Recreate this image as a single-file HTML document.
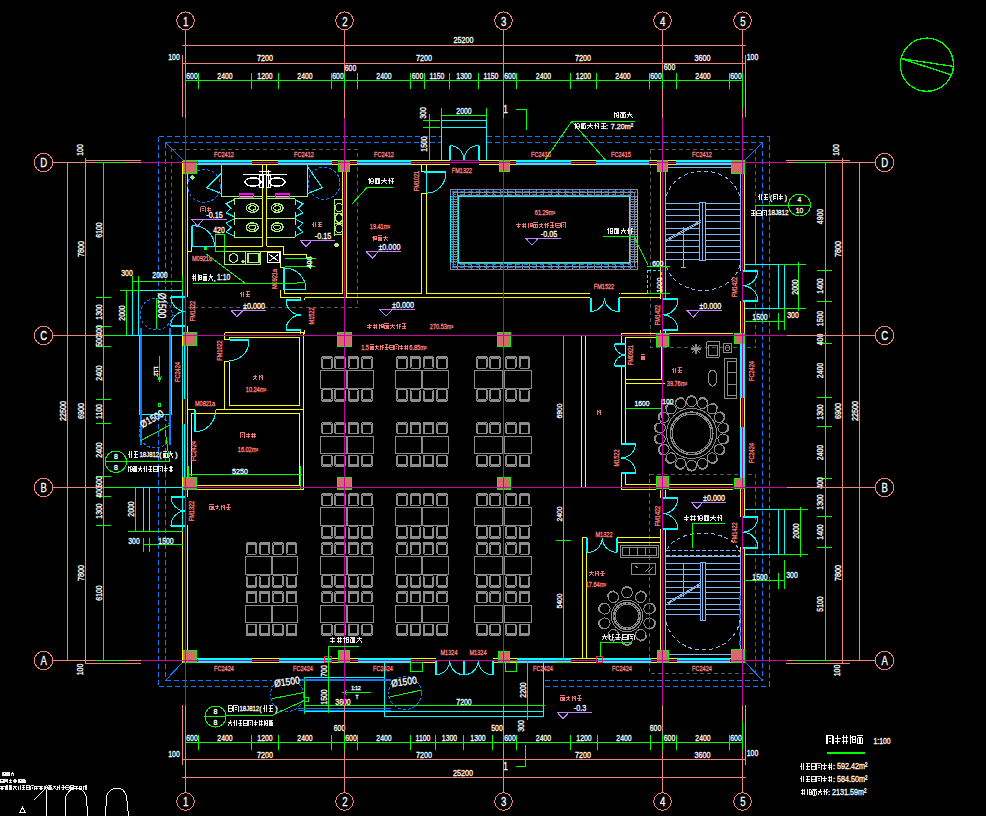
<!DOCTYPE html>
<html><head><meta charset="utf-8"><style>
html,body{margin:0;padding:0;background:#000;width:986px;height:816px;overflow:hidden}
svg{display:block;font-family:"Liberation Sans",sans-serif}
text{stroke-width:0.3px}

</style></head><body>
<svg width="986" height="816" viewBox="0 0 986 816" shape-rendering="crispEdges">
<rect width="986" height="816" fill="#000"/>
<line x1="158.5" y1="136.5" x2="441" y2="136.5" stroke="#0a7cff" stroke-dasharray="5,3"/>
<line x1="487" y1="136.5" x2="769.5" y2="136.5" stroke="#0a7cff" stroke-dasharray="5,3"/>
<line x1="158.5" y1="686.5" x2="272" y2="686.5" stroke="#0a7cff" stroke-dasharray="5,3"/>
<line x1="545" y1="686.5" x2="769.5" y2="686.5" stroke="#0a7cff" stroke-dasharray="5,3"/>
<line x1="158.5" y1="136.5" x2="158.5" y2="291" stroke="#0a7cff" stroke-dasharray="5,3"/>
<line x1="158.5" y1="416" x2="158.5" y2="686.5" stroke="#0a7cff" stroke-dasharray="5,3"/>
<line x1="769.5" y1="136.5" x2="769.5" y2="686.5" stroke="#0a7cff" stroke-dasharray="5,3"/>
<line x1="165.5" y1="142.5" x2="441" y2="142.5" stroke="#0a7cff" stroke-dasharray="5,3"/>
<line x1="487" y1="142.5" x2="762.5" y2="142.5" stroke="#0a7cff" stroke-dasharray="5,3"/>
<line x1="165.5" y1="680.5" x2="272" y2="680.5" stroke="#0a7cff" stroke-dasharray="5,3"/>
<line x1="545" y1="680.5" x2="762.5" y2="680.5" stroke="#0a7cff" stroke-dasharray="5,3"/>
<line x1="165.5" y1="142.5" x2="165.5" y2="291" stroke="#0a7cff" stroke-dasharray="5,3"/>
<line x1="165.5" y1="416" x2="165.5" y2="680.5" stroke="#0a7cff" stroke-dasharray="5,3"/>
<line x1="762.5" y1="142.5" x2="762.5" y2="680.5" stroke="#0a7cff" stroke-dasharray="5,3"/>
<line x1="165.5" y1="142.5" x2="183" y2="160" stroke="#0a7cff"/>
<line x1="762.5" y1="142.5" x2="745" y2="160" stroke="#0a7cff"/>
<line x1="165.5" y1="680.5" x2="183" y2="662" stroke="#0a7cff"/>
<line x1="762.5" y1="680.5" x2="745" y2="662" stroke="#0a7cff"/>
<rect x="171.5" y="149.5" width="186" height="158" stroke="#5a5a5a" fill="none" stroke-dasharray="4,3"/>
<rect x="650.5" y="149.5" width="105" height="198" stroke="#5a5a5a" fill="none" stroke-dasharray="4,3"/>
<rect x="649.5" y="474.5" width="106" height="199" stroke="#5a5a5a" fill="none" stroke-dasharray="4,3"/>
<line x1="182" y1="45.5" x2="746" y2="45.5" stroke="#f08478"/>
<line x1="182" y1="63.5" x2="746" y2="63.5" stroke="#f08478"/>
<line x1="182.5" y1="55" x2="182.5" y2="117" stroke="#f08478"/>
<line x1="745.5" y1="55" x2="745.5" y2="117" stroke="#f08478"/>
<text x="463.5" y="40.5" fill="#ffffff" stroke="#ffffff" font-size="8.5" text-anchor="middle" dominant-baseline="central" transform="translate(463.5 40.5) scale(0.85 1) translate(-463.5 -40.5)">25200</text>
<text x="265" y="58.5" fill="#ffffff" stroke="#ffffff" font-size="8.5" text-anchor="middle" dominant-baseline="central" transform="translate(265 58.5) scale(0.85 1) translate(-265 -58.5)">7200</text>
<text x="424" y="58.5" fill="#ffffff" stroke="#ffffff" font-size="8.5" text-anchor="middle" dominant-baseline="central" transform="translate(424 58.5) scale(0.85 1) translate(-424 -58.5)">7200</text>
<text x="583" y="58.5" fill="#ffffff" stroke="#ffffff" font-size="8.5" text-anchor="middle" dominant-baseline="central" transform="translate(583 58.5) scale(0.85 1) translate(-583 -58.5)">7200</text>
<text x="702.5" y="58.5" fill="#ffffff" stroke="#ffffff" font-size="8.5" text-anchor="middle" dominant-baseline="central" transform="translate(702.5 58.5) scale(0.85 1) translate(-702.5 -58.5)">3600</text>
<text x="174" y="57" fill="#ffffff" stroke="#ffffff" font-size="8.3" text-anchor="middle" dominant-baseline="central" transform="translate(174 57) scale(0.83 1) translate(-174 -57)">100</text>
<text x="752.5" y="57" fill="#ffffff" stroke="#ffffff" font-size="8.3" text-anchor="middle" dominant-baseline="central" transform="translate(752.5 57) scale(0.83 1) translate(-752.5 -57)">100</text>
<text x="350.5" y="68.5" fill="#ffffff" stroke="#ffffff" font-size="8.3" text-anchor="middle" dominant-baseline="central" transform="translate(350.5 68.5) scale(0.83 1) translate(-350.5 -68.5)">600</text>
<text x="669.5" y="67.5" fill="#ffffff" stroke="#ffffff" font-size="8.3" text-anchor="middle" dominant-baseline="central" transform="translate(669.5 67.5) scale(0.83 1) translate(-669.5 -67.5)">600</text>
<line x1="185.5" y1="80.5" x2="742.5" y2="80.5" stroke="#00ff00"/>
<line x1="185.5" y1="73" x2="185.5" y2="89" stroke="#00ff00"/>
<line x1="198.5" y1="73" x2="198.5" y2="89" stroke="#00ff00"/>
<line x1="251.5" y1="73" x2="251.5" y2="89" stroke="#00ff00"/>
<line x1="278.5" y1="73" x2="278.5" y2="89" stroke="#00ff00"/>
<line x1="331.5" y1="73" x2="331.5" y2="89" stroke="#00ff00"/>
<line x1="344.5" y1="73" x2="344.5" y2="89" stroke="#00ff00"/>
<line x1="357.5" y1="73" x2="357.5" y2="89" stroke="#00ff00"/>
<line x1="410.5" y1="73" x2="410.5" y2="89" stroke="#00ff00"/>
<line x1="424.5" y1="73" x2="424.5" y2="89" stroke="#00ff00"/>
<line x1="449.5" y1="73" x2="449.5" y2="89" stroke="#00ff00"/>
<line x1="478.5" y1="73" x2="478.5" y2="89" stroke="#00ff00"/>
<line x1="503.5" y1="73" x2="503.5" y2="89" stroke="#00ff00"/>
<line x1="516.5" y1="73" x2="516.5" y2="89" stroke="#00ff00"/>
<line x1="570.5" y1="73" x2="570.5" y2="89" stroke="#00ff00"/>
<line x1="596.5" y1="73" x2="596.5" y2="89" stroke="#00ff00"/>
<line x1="649.5" y1="73" x2="649.5" y2="89" stroke="#00ff00"/>
<line x1="662.5" y1="73" x2="662.5" y2="89" stroke="#00ff00"/>
<line x1="676.5" y1="73" x2="676.5" y2="89" stroke="#00ff00"/>
<line x1="729.5" y1="73" x2="729.5" y2="89" stroke="#00ff00"/>
<line x1="742.5" y1="73" x2="742.5" y2="89" stroke="#00ff00"/>
<text x="192" y="76" fill="#ffffff" stroke="#ffffff" font-size="8.3" text-anchor="middle" dominant-baseline="central" transform="translate(192 76) scale(0.83 1) translate(-192 -76)">600</text>
<text x="225" y="76" fill="#ffffff" stroke="#ffffff" font-size="8.3" text-anchor="middle" dominant-baseline="central" transform="translate(225 76) scale(0.83 1) translate(-225 -76)">2400</text>
<text x="265" y="76" fill="#ffffff" stroke="#ffffff" font-size="8.3" text-anchor="middle" dominant-baseline="central" transform="translate(265 76) scale(0.83 1) translate(-265 -76)">1200</text>
<text x="305" y="76" fill="#ffffff" stroke="#ffffff" font-size="8.3" text-anchor="middle" dominant-baseline="central" transform="translate(305 76) scale(0.83 1) translate(-305 -76)">2400</text>
<text x="338" y="76" fill="#ffffff" stroke="#ffffff" font-size="8.3" text-anchor="middle" dominant-baseline="central" transform="translate(338 76) scale(0.83 1) translate(-338 -76)">600</text>
<text x="384" y="76" fill="#ffffff" stroke="#ffffff" font-size="8.3" text-anchor="middle" dominant-baseline="central" transform="translate(384 76) scale(0.83 1) translate(-384 -76)">2400</text>
<text x="417.5" y="76" fill="#ffffff" stroke="#ffffff" font-size="8.3" text-anchor="middle" dominant-baseline="central" transform="translate(417.5 76) scale(0.83 1) translate(-417.5 -76)">600</text>
<text x="437" y="76" fill="#ffffff" stroke="#ffffff" font-size="8.3" text-anchor="middle" dominant-baseline="central" transform="translate(437 76) scale(0.83 1) translate(-437 -76)">1150</text>
<text x="464" y="76" fill="#ffffff" stroke="#ffffff" font-size="8.3" text-anchor="middle" dominant-baseline="central" transform="translate(464 76) scale(0.83 1) translate(-464 -76)">1300</text>
<text x="491" y="76" fill="#ffffff" stroke="#ffffff" font-size="8.3" text-anchor="middle" dominant-baseline="central" transform="translate(491 76) scale(0.83 1) translate(-491 -76)">1150</text>
<text x="510" y="76" fill="#ffffff" stroke="#ffffff" font-size="8.3" text-anchor="middle" dominant-baseline="central" transform="translate(510 76) scale(0.83 1) translate(-510 -76)">600</text>
<text x="543.5" y="76" fill="#ffffff" stroke="#ffffff" font-size="8.3" text-anchor="middle" dominant-baseline="central" transform="translate(543.5 76) scale(0.83 1) translate(-543.5 -76)">2400</text>
<text x="583.5" y="76" fill="#ffffff" stroke="#ffffff" font-size="8.3" text-anchor="middle" dominant-baseline="central" transform="translate(583.5 76) scale(0.83 1) translate(-583.5 -76)">1200</text>
<text x="623" y="76" fill="#ffffff" stroke="#ffffff" font-size="8.3" text-anchor="middle" dominant-baseline="central" transform="translate(623 76) scale(0.83 1) translate(-623 -76)">2400</text>
<text x="656" y="76" fill="#ffffff" stroke="#ffffff" font-size="8.3" text-anchor="middle" dominant-baseline="central" transform="translate(656 76) scale(0.83 1) translate(-656 -76)">600</text>
<text x="703" y="76" fill="#ffffff" stroke="#ffffff" font-size="8.3" text-anchor="middle" dominant-baseline="central" transform="translate(703 76) scale(0.83 1) translate(-703 -76)">2400</text>
<text x="736" y="76" fill="#ffffff" stroke="#ffffff" font-size="8.3" text-anchor="middle" dominant-baseline="central" transform="translate(736 76) scale(0.83 1) translate(-736 -76)">600</text>
<line x1="185.5" y1="81" x2="185.5" y2="107" stroke="#00ff00"/>
<line x1="344.5" y1="81" x2="344.5" y2="107" stroke="#00ff00"/>
<line x1="503.5" y1="81" x2="503.5" y2="107" stroke="#00ff00"/>
<line x1="662.5" y1="81" x2="662.5" y2="107" stroke="#00ff00"/>
<line x1="742.5" y1="81" x2="742.5" y2="107" stroke="#00ff00"/>
<line x1="182" y1="777.5" x2="746" y2="777.5" stroke="#f08478"/>
<line x1="182" y1="759.5" x2="746" y2="759.5" stroke="#f08478"/>
<line x1="182.5" y1="705" x2="182.5" y2="765" stroke="#f08478"/>
<line x1="745.5" y1="705" x2="745.5" y2="765" stroke="#f08478"/>
<text x="463" y="773.5" fill="#ffffff" stroke="#ffffff" font-size="8.5" text-anchor="middle" dominant-baseline="central" transform="translate(463 773.5) scale(0.85 1) translate(-463 -773.5)">25200</text>
<text x="265" y="755" fill="#ffffff" stroke="#ffffff" font-size="8.5" text-anchor="middle" dominant-baseline="central" transform="translate(265 755) scale(0.85 1) translate(-265 -755)">7200</text>
<text x="424" y="755" fill="#ffffff" stroke="#ffffff" font-size="8.5" text-anchor="middle" dominant-baseline="central" transform="translate(424 755) scale(0.85 1) translate(-424 -755)">7200</text>
<text x="583" y="755" fill="#ffffff" stroke="#ffffff" font-size="8.5" text-anchor="middle" dominant-baseline="central" transform="translate(583 755) scale(0.85 1) translate(-583 -755)">7200</text>
<text x="702.5" y="755" fill="#ffffff" stroke="#ffffff" font-size="8.5" text-anchor="middle" dominant-baseline="central" transform="translate(702.5 755) scale(0.85 1) translate(-702.5 -755)">3600</text>
<text x="174" y="754.5" fill="#ffffff" stroke="#ffffff" font-size="8.3" text-anchor="middle" dominant-baseline="central" transform="translate(174 754.5) scale(0.83 1) translate(-174 -754.5)">100</text>
<text x="752.5" y="753" fill="#ffffff" stroke="#ffffff" font-size="8.3" text-anchor="middle" dominant-baseline="central" transform="translate(752.5 753) scale(0.83 1) translate(-752.5 -753)">100</text>
<line x1="185.5" y1="742.5" x2="742.5" y2="742.5" stroke="#00ff00"/>
<line x1="185.5" y1="735" x2="185.5" y2="750" stroke="#00ff00"/>
<line x1="198.5" y1="735" x2="198.5" y2="750" stroke="#00ff00"/>
<line x1="251.5" y1="735" x2="251.5" y2="750" stroke="#00ff00"/>
<line x1="278.5" y1="735" x2="278.5" y2="750" stroke="#00ff00"/>
<line x1="331.5" y1="735" x2="331.5" y2="750" stroke="#00ff00"/>
<line x1="344.5" y1="735" x2="344.5" y2="750" stroke="#00ff00"/>
<line x1="357.5" y1="735" x2="357.5" y2="750" stroke="#00ff00"/>
<line x1="410.5" y1="735" x2="410.5" y2="750" stroke="#00ff00"/>
<line x1="435.5" y1="735" x2="435.5" y2="750" stroke="#00ff00"/>
<line x1="463.5" y1="735" x2="463.5" y2="750" stroke="#00ff00"/>
<line x1="492.5" y1="735" x2="492.5" y2="750" stroke="#00ff00"/>
<line x1="503.5" y1="735" x2="503.5" y2="750" stroke="#00ff00"/>
<line x1="516.5" y1="735" x2="516.5" y2="750" stroke="#00ff00"/>
<line x1="570.5" y1="735" x2="570.5" y2="750" stroke="#00ff00"/>
<line x1="597.5" y1="735" x2="597.5" y2="750" stroke="#00ff00"/>
<line x1="650.5" y1="735" x2="650.5" y2="750" stroke="#00ff00"/>
<line x1="662.5" y1="735" x2="662.5" y2="750" stroke="#00ff00"/>
<line x1="676.5" y1="735" x2="676.5" y2="750" stroke="#00ff00"/>
<line x1="729.5" y1="735" x2="729.5" y2="750" stroke="#00ff00"/>
<line x1="742.5" y1="735" x2="742.5" y2="750" stroke="#00ff00"/>
<text x="192" y="738" fill="#ffffff" stroke="#ffffff" font-size="8.3" text-anchor="middle" dominant-baseline="central" transform="translate(192 738) scale(0.83 1) translate(-192 -738)">600</text>
<text x="225" y="738" fill="#ffffff" stroke="#ffffff" font-size="8.3" text-anchor="middle" dominant-baseline="central" transform="translate(225 738) scale(0.83 1) translate(-225 -738)">2400</text>
<text x="265" y="738" fill="#ffffff" stroke="#ffffff" font-size="8.3" text-anchor="middle" dominant-baseline="central" transform="translate(265 738) scale(0.83 1) translate(-265 -738)">1200</text>
<text x="305" y="738" fill="#ffffff" stroke="#ffffff" font-size="8.3" text-anchor="middle" dominant-baseline="central" transform="translate(305 738) scale(0.83 1) translate(-305 -738)">2400</text>
<text x="351" y="738" fill="#ffffff" stroke="#ffffff" font-size="8.3" text-anchor="middle" dominant-baseline="central" transform="translate(351 738) scale(0.83 1) translate(-351 -738)">600</text>
<text x="384" y="738" fill="#ffffff" stroke="#ffffff" font-size="8.3" text-anchor="middle" dominant-baseline="central" transform="translate(384 738) scale(0.83 1) translate(-384 -738)">2400</text>
<text x="423" y="738" fill="#ffffff" stroke="#ffffff" font-size="8.3" text-anchor="middle" dominant-baseline="central" transform="translate(423 738) scale(0.83 1) translate(-423 -738)">1100</text>
<text x="449.5" y="738" fill="#ffffff" stroke="#ffffff" font-size="8.3" text-anchor="middle" dominant-baseline="central" transform="translate(449.5 738) scale(0.83 1) translate(-449.5 -738)">1300</text>
<text x="478" y="738" fill="#ffffff" stroke="#ffffff" font-size="8.3" text-anchor="middle" dominant-baseline="central" transform="translate(478 738) scale(0.83 1) translate(-478 -738)">1300</text>
<text x="510" y="738" fill="#ffffff" stroke="#ffffff" font-size="8.3" text-anchor="middle" dominant-baseline="central" transform="translate(510 738) scale(0.83 1) translate(-510 -738)">600</text>
<text x="543.5" y="738" fill="#ffffff" stroke="#ffffff" font-size="8.3" text-anchor="middle" dominant-baseline="central" transform="translate(543.5 738) scale(0.83 1) translate(-543.5 -738)">2400</text>
<text x="584" y="738" fill="#ffffff" stroke="#ffffff" font-size="8.3" text-anchor="middle" dominant-baseline="central" transform="translate(584 738) scale(0.83 1) translate(-584 -738)">1200</text>
<text x="624" y="738" fill="#ffffff" stroke="#ffffff" font-size="8.3" text-anchor="middle" dominant-baseline="central" transform="translate(624 738) scale(0.83 1) translate(-624 -738)">2400</text>
<text x="669.5" y="738" fill="#ffffff" stroke="#ffffff" font-size="8.3" text-anchor="middle" dominant-baseline="central" transform="translate(669.5 738) scale(0.83 1) translate(-669.5 -738)">600</text>
<text x="703" y="738" fill="#ffffff" stroke="#ffffff" font-size="8.3" text-anchor="middle" dominant-baseline="central" transform="translate(703 738) scale(0.83 1) translate(-703 -738)">2400</text>
<text x="736" y="738" fill="#ffffff" stroke="#ffffff" font-size="8.3" text-anchor="middle" dominant-baseline="central" transform="translate(736 738) scale(0.83 1) translate(-736 -738)">600</text>
<text x="339.5" y="728" fill="#ffffff" stroke="#ffffff" font-size="8.3" text-anchor="middle" dominant-baseline="central" transform="translate(339.5 728) scale(0.83 1) translate(-339.5 -728)">600</text>
<text x="497" y="728" fill="#ffffff" stroke="#ffffff" font-size="8.3" text-anchor="middle" dominant-baseline="central" transform="translate(497 728) scale(0.83 1) translate(-497 -728)">500</text>
<text x="655.5" y="728" fill="#ffffff" stroke="#ffffff" font-size="8.3" text-anchor="middle" dominant-baseline="central" transform="translate(655.5 728) scale(0.83 1) translate(-655.5 -728)">600</text>
<line x1="67.5" y1="162.5" x2="67.5" y2="660.5" stroke="#f08478"/>
<line x1="85.5" y1="158" x2="85.5" y2="664" stroke="#f08478"/>
<text x="63" y="411" fill="#ffffff" stroke="#ffffff" font-size="8.5" text-anchor="middle" dominant-baseline="central" transform="translate(63 411) rotate(-90) scale(0.85 1) translate(-63 -411)">22500</text>
<text x="81" y="249" fill="#ffffff" stroke="#ffffff" font-size="8.5" text-anchor="middle" dominant-baseline="central" transform="translate(81 249) rotate(-90) scale(0.85 1) translate(-81 -249)">7800</text>
<text x="81" y="411" fill="#ffffff" stroke="#ffffff" font-size="8.5" text-anchor="middle" dominant-baseline="central" transform="translate(81 411) rotate(-90) scale(0.85 1) translate(-81 -411)">6900</text>
<text x="81" y="573" fill="#ffffff" stroke="#ffffff" font-size="8.5" text-anchor="middle" dominant-baseline="central" transform="translate(81 573) rotate(-90) scale(0.85 1) translate(-81 -573)">7800</text>
<line x1="103.5" y1="162.5" x2="103.5" y2="660.5" stroke="#00ff00"/>
<line x1="96" y1="162.5" x2="111" y2="162.5" stroke="#00ff00"/>
<line x1="96" y1="297.5" x2="111" y2="297.5" stroke="#00ff00"/>
<line x1="96" y1="326.5" x2="111" y2="326.5" stroke="#00ff00"/>
<line x1="96" y1="335.5" x2="111" y2="335.5" stroke="#00ff00"/>
<line x1="96" y1="346.5" x2="111" y2="346.5" stroke="#00ff00"/>
<line x1="96" y1="399.5" x2="111" y2="399.5" stroke="#00ff00"/>
<line x1="96" y1="423.5" x2="111" y2="423.5" stroke="#00ff00"/>
<line x1="96" y1="476.5" x2="111" y2="476.5" stroke="#00ff00"/>
<line x1="96" y1="487.5" x2="111" y2="487.5" stroke="#00ff00"/>
<line x1="96" y1="496.5" x2="111" y2="496.5" stroke="#00ff00"/>
<line x1="96" y1="525.5" x2="111" y2="525.5" stroke="#00ff00"/>
<line x1="96" y1="660.5" x2="111" y2="660.5" stroke="#00ff00"/>
<text x="99" y="230" fill="#ffffff" stroke="#ffffff" font-size="8.3" text-anchor="middle" dominant-baseline="central" transform="translate(99 230) rotate(-90) scale(0.83 1) translate(-99 -230)">6100</text>
<text x="99" y="312" fill="#ffffff" stroke="#ffffff" font-size="8.3" text-anchor="middle" dominant-baseline="central" transform="translate(99 312) rotate(-90) scale(0.83 1) translate(-99 -312)">1300</text>
<text x="99" y="331" fill="#ffffff" stroke="#ffffff" font-size="8.3" text-anchor="middle" dominant-baseline="central" transform="translate(99 331) rotate(-90) scale(0.83 1) translate(-99 -331)">400</text>
<text x="99" y="341" fill="#ffffff" stroke="#ffffff" font-size="8.3" text-anchor="middle" dominant-baseline="central" transform="translate(99 341) rotate(-90) scale(0.83 1) translate(-99 -341)">500</text>
<text x="99" y="373" fill="#ffffff" stroke="#ffffff" font-size="8.3" text-anchor="middle" dominant-baseline="central" transform="translate(99 373) rotate(-90) scale(0.83 1) translate(-99 -373)">2400</text>
<text x="99" y="411.5" fill="#ffffff" stroke="#ffffff" font-size="8.3" text-anchor="middle" dominant-baseline="central" transform="translate(99 411.5) rotate(-90) scale(0.83 1) translate(-99 -411.5)">1100</text>
<text x="99" y="450" fill="#ffffff" stroke="#ffffff" font-size="8.3" text-anchor="middle" dominant-baseline="central" transform="translate(99 450) rotate(-90) scale(0.83 1) translate(-99 -450)">2400</text>
<text x="99" y="482" fill="#ffffff" stroke="#ffffff" font-size="8.3" text-anchor="middle" dominant-baseline="central" transform="translate(99 482) rotate(-90) scale(0.83 1) translate(-99 -482)">500</text>
<text x="99" y="492" fill="#ffffff" stroke="#ffffff" font-size="8.3" text-anchor="middle" dominant-baseline="central" transform="translate(99 492) rotate(-90) scale(0.83 1) translate(-99 -492)">400</text>
<text x="99" y="511" fill="#ffffff" stroke="#ffffff" font-size="8.3" text-anchor="middle" dominant-baseline="central" transform="translate(99 511) rotate(-90) scale(0.83 1) translate(-99 -511)">1300</text>
<text x="99" y="593" fill="#ffffff" stroke="#ffffff" font-size="8.3" text-anchor="middle" dominant-baseline="central" transform="translate(99 593) rotate(-90) scale(0.83 1) translate(-99 -593)">6100</text>
<text x="80" y="150" fill="#ffffff" stroke="#ffffff" font-size="8.3" text-anchor="middle" dominant-baseline="central" transform="translate(80 150) rotate(-90) scale(0.83 1) translate(-80 -150)">100</text>
<text x="80" y="669.5" fill="#ffffff" stroke="#ffffff" font-size="8.3" text-anchor="middle" dominant-baseline="central" transform="translate(80 669.5) rotate(-90) scale(0.83 1) translate(-80 -669.5)">100</text>
<line x1="86" y1="663" x2="141" y2="663" stroke="#f08478"/>
<line x1="86" y1="160" x2="141" y2="160" stroke="#f08478"/>
<line x1="842.5" y1="158" x2="842.5" y2="664" stroke="#f08478"/>
<line x1="859.5" y1="162.5" x2="859.5" y2="660.5" stroke="#f08478"/>
<text x="855" y="411" fill="#ffffff" stroke="#ffffff" font-size="8.5" text-anchor="middle" dominant-baseline="central" transform="translate(855 411) rotate(-90) scale(0.85 1) translate(-855 -411)">22500</text>
<text x="838" y="249" fill="#ffffff" stroke="#ffffff" font-size="8.5" text-anchor="middle" dominant-baseline="central" transform="translate(838 249) rotate(-90) scale(0.85 1) translate(-838 -249)">7800</text>
<text x="838" y="411" fill="#ffffff" stroke="#ffffff" font-size="8.5" text-anchor="middle" dominant-baseline="central" transform="translate(838 411) rotate(-90) scale(0.85 1) translate(-838 -411)">6900</text>
<text x="838" y="573" fill="#ffffff" stroke="#ffffff" font-size="8.5" text-anchor="middle" dominant-baseline="central" transform="translate(838 573) rotate(-90) scale(0.85 1) translate(-838 -573)">7800</text>
<line x1="825" y1="162.5" x2="825" y2="660.5" stroke="#00ff00"/>
<line x1="817" y1="162.5" x2="832" y2="162.5" stroke="#00ff00"/>
<line x1="817" y1="270.5" x2="832" y2="270.5" stroke="#00ff00"/>
<line x1="817" y1="301.5" x2="832" y2="301.5" stroke="#00ff00"/>
<line x1="817" y1="335.5" x2="832" y2="335.5" stroke="#00ff00"/>
<line x1="817" y1="343.5" x2="832" y2="343.5" stroke="#00ff00"/>
<line x1="817" y1="397.5" x2="832" y2="397.5" stroke="#00ff00"/>
<line x1="817" y1="426.5" x2="832" y2="426.5" stroke="#00ff00"/>
<line x1="817" y1="478.5" x2="832" y2="478.5" stroke="#00ff00"/>
<line x1="817" y1="487.5" x2="832" y2="487.5" stroke="#00ff00"/>
<line x1="817" y1="516.5" x2="832" y2="516.5" stroke="#00ff00"/>
<line x1="817" y1="547.5" x2="832" y2="547.5" stroke="#00ff00"/>
<line x1="817" y1="660.5" x2="832" y2="660.5" stroke="#00ff00"/>
<text x="820.5" y="216.5" fill="#ffffff" stroke="#ffffff" font-size="8.3" text-anchor="middle" dominant-baseline="central" transform="translate(820.5 216.5) rotate(-90) scale(0.83 1) translate(-820.5 -216.5)">4900</text>
<text x="820.5" y="286" fill="#ffffff" stroke="#ffffff" font-size="8.3" text-anchor="middle" dominant-baseline="central" transform="translate(820.5 286) rotate(-90) scale(0.83 1) translate(-820.5 -286)">1400</text>
<text x="820.5" y="318.5" fill="#ffffff" stroke="#ffffff" font-size="8.3" text-anchor="middle" dominant-baseline="central" transform="translate(820.5 318.5) rotate(-90) scale(0.83 1) translate(-820.5 -318.5)">1500</text>
<text x="820.5" y="339.5" fill="#ffffff" stroke="#ffffff" font-size="8.3" text-anchor="middle" dominant-baseline="central" transform="translate(820.5 339.5) rotate(-90) scale(0.83 1) translate(-820.5 -339.5)">400</text>
<text x="820.5" y="370.5" fill="#ffffff" stroke="#ffffff" font-size="8.3" text-anchor="middle" dominant-baseline="central" transform="translate(820.5 370.5) rotate(-90) scale(0.83 1) translate(-820.5 -370.5)">2400</text>
<text x="820.5" y="412" fill="#ffffff" stroke="#ffffff" font-size="8.3" text-anchor="middle" dominant-baseline="central" transform="translate(820.5 412) rotate(-90) scale(0.83 1) translate(-820.5 -412)">1300</text>
<text x="820.5" y="452.5" fill="#ffffff" stroke="#ffffff" font-size="8.3" text-anchor="middle" dominant-baseline="central" transform="translate(820.5 452.5) rotate(-90) scale(0.83 1) translate(-820.5 -452.5)">2400</text>
<text x="820.5" y="483" fill="#ffffff" stroke="#ffffff" font-size="8.3" text-anchor="middle" dominant-baseline="central" transform="translate(820.5 483) rotate(-90) scale(0.83 1) translate(-820.5 -483)">400</text>
<text x="820.5" y="502" fill="#ffffff" stroke="#ffffff" font-size="8.3" text-anchor="middle" dominant-baseline="central" transform="translate(820.5 502) rotate(-90) scale(0.83 1) translate(-820.5 -502)">1300</text>
<text x="820.5" y="532" fill="#ffffff" stroke="#ffffff" font-size="8.3" text-anchor="middle" dominant-baseline="central" transform="translate(820.5 532) rotate(-90) scale(0.83 1) translate(-820.5 -532)">1400</text>
<text x="820.5" y="604" fill="#ffffff" stroke="#ffffff" font-size="8.3" text-anchor="middle" dominant-baseline="central" transform="translate(820.5 604) rotate(-90) scale(0.83 1) translate(-820.5 -604)">5100</text>
<text x="836" y="150" fill="#ffffff" stroke="#ffffff" font-size="8.3" text-anchor="middle" dominant-baseline="central" transform="translate(836 150) rotate(-90) scale(0.83 1) translate(-836 -150)">100</text>
<text x="837" y="670.5" fill="#ffffff" stroke="#ffffff" font-size="8.3" text-anchor="middle" dominant-baseline="central" transform="translate(837 670.5) rotate(-90) scale(0.83 1) translate(-837 -670.5)">100</text>
<line x1="786" y1="663" x2="850" y2="663" stroke="#f08478"/>
<line x1="786" y1="160" x2="850" y2="160" stroke="#f08478"/>
<line x1="182.5" y1="160.5" x2="744.5" y2="160.5" stroke="#ffff00"/>
<line x1="186.5" y1="164.5" x2="740.5" y2="164.5" stroke="#ffff00"/>
<line x1="182.5" y1="662.5" x2="744.5" y2="662.5" stroke="#ffff00"/>
<line x1="187.5" y1="658.5" x2="740.5" y2="658.5" stroke="#ffff00"/>
<line x1="182.5" y1="160.5" x2="182.5" y2="662.5" stroke="#ffff00"/>
<line x1="187.5" y1="164.5" x2="187.5" y2="658.5" stroke="#ffff00"/>
<line x1="744.5" y1="160.5" x2="744.5" y2="662.5" stroke="#ffff00"/>
<line x1="740.5" y1="164.5" x2="740.5" y2="658.5" stroke="#ffff00"/>
<rect x="197.5" y="160" width="54.2" height="5" fill="#00ffff" stroke="none"/>
<rect x="278.3" y="160" width="53.7" height="5" fill="#00ffff" stroke="none"/>
<rect x="357.4" y="160" width="53.6" height="5" fill="#00ffff" stroke="none"/>
<rect x="516.1" y="160" width="54.7" height="5" fill="#00ffff" stroke="none"/>
<rect x="595.8" y="160" width="53.5" height="5" fill="#00ffff" stroke="none"/>
<rect x="676" y="160" width="54.5" height="5" fill="#00ffff" stroke="none"/>
<rect x="197.5" y="658" width="54" height="5" fill="#00ffff" stroke="none"/>
<rect x="278.5" y="658" width="53" height="5" fill="#00ffff" stroke="none"/>
<rect x="357.5" y="658" width="53" height="5" fill="#00ffff" stroke="none"/>
<rect x="516.5" y="658" width="54" height="5" fill="#00ffff" stroke="none"/>
<rect x="597.5" y="658" width="53" height="5" fill="#00ffff" stroke="none"/>
<rect x="676.5" y="658" width="53" height="5" fill="#00ffff" stroke="none"/>
<rect x="182" y="346" width="6" height="53" fill="#000" stroke="none"/>
<line x1="182.5" y1="346" x2="182.5" y2="399" stroke="#00ffff"/>
<line x1="187.5" y1="346" x2="187.5" y2="399" stroke="#00ffff"/>
<rect x="184" y="346" width="2" height="53" fill="#00ffff" stroke="none"/>
<rect x="182" y="423.5" width="6" height="53" fill="#000" stroke="none"/>
<line x1="182.5" y1="423.5" x2="182.5" y2="476.5" stroke="#00ffff"/>
<line x1="187.5" y1="423.5" x2="187.5" y2="476.5" stroke="#00ffff"/>
<rect x="184" y="423.5" width="2" height="53" fill="#00ffff" stroke="none"/>
<rect x="740" y="343.5" width="5" height="54" fill="#00ffff" stroke="none"/>
<rect x="740" y="426.5" width="5" height="52" fill="#00ffff" stroke="none"/>
<rect x="181" y="297" width="7" height="29" fill="#000" stroke="none"/>
<rect x="181" y="497" width="7" height="28" fill="#000" stroke="none"/>
<rect x="739" y="271" width="7" height="30" fill="#000" stroke="none"/>
<rect x="739" y="517" width="7" height="30" fill="#000" stroke="none"/>
<rect x="449.5" y="159" width="29" height="7" fill="#000" stroke="none"/>
<rect x="435.5" y="657" width="57" height="7" fill="#000" stroke="none"/>
<line x1="185.5" y1="297" x2="185.5" y2="326" stroke="#cc00aa"/>
<line x1="185.5" y1="497" x2="185.5" y2="525" stroke="#cc00aa"/>
<line x1="742.5" y1="271" x2="742.5" y2="301" stroke="#cc00aa"/>
<line x1="742.5" y1="517" x2="742.5" y2="547" stroke="#cc00aa"/>
<line x1="449.5" y1="162.5" x2="478.5" y2="162.5" stroke="#cc00aa"/>
<line x1="435.5" y1="660.5" x2="492.5" y2="660.5" stroke="#cc00aa"/>
<line x1="262.5" y1="165" x2="262.5" y2="246" stroke="#ffff00"/>
<line x1="266.5" y1="165" x2="266.5" y2="246" stroke="#ffff00"/>
<line x1="342.5" y1="172" x2="342.5" y2="293.5" stroke="#ffff00"/>
<line x1="346.5" y1="172" x2="346.5" y2="297.5" stroke="#ffff00"/>
<line x1="421.5" y1="165" x2="421.5" y2="171" stroke="#ffff00"/>
<line x1="426.5" y1="165" x2="426.5" y2="171" stroke="#ffff00"/>
<line x1="421.5" y1="193.2" x2="421.5" y2="293.5" stroke="#ffff00"/>
<line x1="426.5" y1="193.2" x2="426.5" y2="293.5" stroke="#ffff00"/>
<line x1="421.5" y1="193.2" x2="426.5" y2="193.2" stroke="#ffff00"/>
<line x1="421.5" y1="171" x2="424" y2="172" stroke="#ffff00"/>
<line x1="346.5" y1="293.5" x2="421.5" y2="293.5" stroke="#ffff00"/>
<line x1="426.5" y1="293.5" x2="590" y2="293.5" stroke="#ffff00"/>
<line x1="619" y1="293.5" x2="660.5" y2="293.5" stroke="#ffff00"/>
<line x1="304.5" y1="297.5" x2="590" y2="297.5" stroke="#ffff00"/>
<line x1="619" y1="297.5" x2="660.5" y2="297.5" stroke="#ffff00"/>
<line x1="660.5" y1="172" x2="660.5" y2="299.4" stroke="#ffff00"/>
<line x1="665.5" y1="172" x2="665.5" y2="299.4" stroke="#ffff00"/>
<line x1="660.5" y1="330.3" x2="660.5" y2="335" stroke="#ffff00"/>
<line x1="665.5" y1="330.3" x2="665.5" y2="335" stroke="#ffff00"/>
<polyline points="187.5,251.6 191.3,251.6 191.3,246.4" stroke="#ffff00" fill="none"/>
<line x1="214.7" y1="246.4" x2="262.8" y2="246.4" stroke="#ffff00"/>
<polyline points="214.7,251.6 280,251.6 280,267.5 284,267.5" stroke="#ffff00" fill="none"/>
<polyline points="266.9,246.4 283.9,246.4 283.9,254.9 306.3,254.9 306.3,258.2 316,258.2" stroke="#ffff00" fill="none"/>
<polyline points="280,289.5 280,297.5 300.5,297.5 300.5,300" stroke="#ffff00" fill="none"/>
<line x1="284" y1="293.5" x2="342.5" y2="293.5" stroke="#ffff00"/>
<line x1="284" y1="289.5" x2="284" y2="293.5" stroke="#ffff00"/>
<line x1="304.5" y1="297.5" x2="342.5" y2="297.5" stroke="#ffff00"/>
<polyline points="304.5,297.5 304.5,300" stroke="#ffff00" fill="none"/>
<polyline points="300.5,330 300.5,334" stroke="#ffff00" fill="none"/>
<polyline points="304.5,330 304.5,334" stroke="#ffff00" fill="none"/>
<polyline points="224.6,332.5 303,332.5 303,489.5" stroke="#ffff00" fill="none"/>
<polyline points="229,339.5 229,337 299,337 299,405 229,405 229,361.5" stroke="#ffff00" fill="none"/>
<polyline points="229,339.5 224.6,339.5 224.6,332.5" stroke="#ffff00" fill="none"/>
<polyline points="229,361.5 224.6,361.5 224.6,409.5" stroke="#ffff00" fill="none"/>
<polyline points="187.5,409.5 195,409.5" stroke="#ffff00" fill="none"/>
<polyline points="216,409.5 303,409.5" stroke="#ffff00" fill="none"/>
<polyline points="191,413.5 299,413.5 299,485.5 196,485.5" stroke="#ffff00" fill="none"/>
<line x1="191" y1="413.5" x2="191" y2="476" stroke="#ffff00"/>
<line x1="196" y1="489.5" x2="303" y2="489.5" stroke="#ffff00"/>
<line x1="187" y1="474.5" x2="302" y2="474.5" stroke="#00ff00"/>
<line x1="300.5" y1="466" x2="300.5" y2="489" stroke="#00ff00"/>
<line x1="188.5" y1="466" x2="188.5" y2="478" stroke="#00ff00"/>
<line x1="563.5" y1="335.5" x2="563.5" y2="662" stroke="#00ff00"/>
<line x1="556" y1="335.5" x2="571" y2="335.5" stroke="#00ff00"/>
<line x1="556" y1="487.5" x2="571" y2="487.5" stroke="#00ff00"/>
<line x1="556" y1="540.5" x2="571" y2="540.5" stroke="#00ff00"/>
<line x1="556" y1="662" x2="571" y2="662" stroke="#00ff00"/>
<text x="559.5" y="411" fill="#ffffff" stroke="#ffffff" font-size="7.5" text-anchor="middle" dominant-baseline="central" transform="translate(559.5 411) rotate(-90) scale(0.9 1) translate(-559.5 -411)">6900</text>
<text x="559.5" y="514" fill="#ffffff" stroke="#ffffff" font-size="7.5" text-anchor="middle" dominant-baseline="central" transform="translate(559.5 514) rotate(-90) scale(0.9 1) translate(-559.5 -514)">2400</text>
<text x="559.5" y="601" fill="#ffffff" stroke="#ffffff" font-size="7.5" text-anchor="middle" dominant-baseline="central" transform="translate(559.5 601) rotate(-90) scale(0.9 1) translate(-559.5 -601)">5400</text>
<rect x="581.5" y="335.5" width="4" height="152" stroke="#ffff00" fill="none"/>
<polyline points="621,333 656,333" stroke="#ffff00" fill="none"/>
<polyline points="669,333 733,333" stroke="#ffff00" fill="none"/>
<polyline points="621,333 621,489 656,489" stroke="#ffff00" fill="none"/>
<polyline points="625.5,337 656,337" stroke="#ffff00" fill="none"/>
<polyline points="625.5,337 625.5,484.5 656,484.5" stroke="#ffff00" fill="none"/>
<polyline points="669,484.5 733,484.5" stroke="#ffff00" fill="none"/>
<polyline points="669,489 733,489" stroke="#ffff00" fill="none"/>
<polyline points="625.5,379.5 661,379.5 661,337" stroke="#ffff00" fill="none"/>
<polyline points="625.5,383.5 665,383.5" stroke="#ffff00" fill="none"/>
<polyline points="582,658.5 582,537.5 587.3,537.5" stroke="#ffff00" fill="none"/>
<polyline points="586,658.5 586,542.5 587.3,542.5" stroke="#ffff00" fill="none"/>
<polyline points="617.2,537.5 660.5,537.5" stroke="#ffff00" fill="none"/>
<polyline points="617.2,542.5 660.5,542.5" stroke="#ffff00" fill="none"/>
<line x1="660.5" y1="489.5" x2="660.5" y2="498.3" stroke="#ffff00"/>
<line x1="660.5" y1="529" x2="660.5" y2="649.5" stroke="#ffff00"/>
<line x1="665.5" y1="489.5" x2="665.5" y2="498.3" stroke="#ffff00"/>
<line x1="665.5" y1="529" x2="665.5" y2="649.5" stroke="#ffff00"/>
<line x1="186.5" y1="489.5" x2="196" y2="489.5" stroke="#ffff00"/>
<rect x="320.6" y="370.7" width="52.7" height="17.5" stroke="#8c8c8c" fill="none"/>
<line x1="346.6" y1="370.7" x2="346.6" y2="388.2" stroke="#8c8c8c"/>
<line x1="347.6" y1="370.7" x2="347.6" y2="388.2" stroke="#8c8c8c"/>
<polygon points="322.8,356.7 331.3,356.7 332.3,357.7 332.3,367.2 331.3,368.2 322.8,368.2 321.8,367.2 321.8,357.7" stroke="#8c8c8c" fill="none"/>
<line x1="322.8" y1="357.7" x2="331.3" y2="357.7" stroke="#8c8c8c"/>
<line x1="322.8" y1="358.7" x2="331.3" y2="358.7" stroke="#8c8c8c"/>
<line x1="322.8" y1="358.7" x2="322.8" y2="367.2" stroke="#8c8c8c"/>
<line x1="331.3" y1="358.7" x2="331.3" y2="367.2" stroke="#8c8c8c"/>
<polygon points="322.8,389.7 331.3,389.7 332.3,390.7 332.3,400.2 331.3,401.2 322.8,401.2 321.8,400.2 321.8,390.7" stroke="#8c8c8c" fill="none"/>
<line x1="322.8" y1="400.2" x2="331.3" y2="400.2" stroke="#8c8c8c"/>
<line x1="322.8" y1="399.2" x2="331.3" y2="399.2" stroke="#8c8c8c"/>
<line x1="322.8" y1="390.7" x2="322.8" y2="399.2" stroke="#8c8c8c"/>
<line x1="331.3" y1="390.7" x2="331.3" y2="399.2" stroke="#8c8c8c"/>
<polygon points="335.9,356.7 344.4,356.7 345.4,357.7 345.4,367.2 344.4,368.2 335.9,368.2 334.9,367.2 334.9,357.7" stroke="#8c8c8c" fill="none"/>
<line x1="335.9" y1="357.7" x2="344.4" y2="357.7" stroke="#8c8c8c"/>
<line x1="335.9" y1="358.7" x2="344.4" y2="358.7" stroke="#8c8c8c"/>
<line x1="335.9" y1="358.7" x2="335.9" y2="367.2" stroke="#8c8c8c"/>
<line x1="344.4" y1="358.7" x2="344.4" y2="367.2" stroke="#8c8c8c"/>
<polygon points="335.9,389.7 344.4,389.7 345.4,390.7 345.4,400.2 344.4,401.2 335.9,401.2 334.9,400.2 334.9,390.7" stroke="#8c8c8c" fill="none"/>
<line x1="335.9" y1="400.2" x2="344.4" y2="400.2" stroke="#8c8c8c"/>
<line x1="335.9" y1="399.2" x2="344.4" y2="399.2" stroke="#8c8c8c"/>
<line x1="335.9" y1="390.7" x2="335.9" y2="399.2" stroke="#8c8c8c"/>
<line x1="344.4" y1="390.7" x2="344.4" y2="399.2" stroke="#8c8c8c"/>
<polygon points="349,356.7 357.5,356.7 358.5,357.7 358.5,367.2 357.5,368.2 349,368.2 348,367.2 348,357.7" stroke="#8c8c8c" fill="none"/>
<line x1="349" y1="357.7" x2="357.5" y2="357.7" stroke="#8c8c8c"/>
<line x1="349" y1="358.7" x2="357.5" y2="358.7" stroke="#8c8c8c"/>
<line x1="349" y1="358.7" x2="349" y2="367.2" stroke="#8c8c8c"/>
<line x1="357.5" y1="358.7" x2="357.5" y2="367.2" stroke="#8c8c8c"/>
<polygon points="349,389.7 357.5,389.7 358.5,390.7 358.5,400.2 357.5,401.2 349,401.2 348,400.2 348,390.7" stroke="#8c8c8c" fill="none"/>
<line x1="349" y1="400.2" x2="357.5" y2="400.2" stroke="#8c8c8c"/>
<line x1="349" y1="399.2" x2="357.5" y2="399.2" stroke="#8c8c8c"/>
<line x1="349" y1="390.7" x2="349" y2="399.2" stroke="#8c8c8c"/>
<line x1="357.5" y1="390.7" x2="357.5" y2="399.2" stroke="#8c8c8c"/>
<polygon points="362.8,356.7 371.3,356.7 372.3,357.7 372.3,367.2 371.3,368.2 362.8,368.2 361.8,367.2 361.8,357.7" stroke="#8c8c8c" fill="none"/>
<line x1="362.8" y1="357.7" x2="371.3" y2="357.7" stroke="#8c8c8c"/>
<line x1="362.8" y1="358.7" x2="371.3" y2="358.7" stroke="#8c8c8c"/>
<line x1="362.8" y1="358.7" x2="362.8" y2="367.2" stroke="#8c8c8c"/>
<line x1="371.3" y1="358.7" x2="371.3" y2="367.2" stroke="#8c8c8c"/>
<polygon points="362.8,389.7 371.3,389.7 372.3,390.7 372.3,400.2 371.3,401.2 362.8,401.2 361.8,400.2 361.8,390.7" stroke="#8c8c8c" fill="none"/>
<line x1="362.8" y1="400.2" x2="371.3" y2="400.2" stroke="#8c8c8c"/>
<line x1="362.8" y1="399.2" x2="371.3" y2="399.2" stroke="#8c8c8c"/>
<line x1="362.8" y1="390.7" x2="362.8" y2="399.2" stroke="#8c8c8c"/>
<line x1="371.3" y1="390.7" x2="371.3" y2="399.2" stroke="#8c8c8c"/>
<rect x="395.7" y="370.7" width="52.7" height="17.5" stroke="#8c8c8c" fill="none"/>
<line x1="421.7" y1="370.7" x2="421.7" y2="388.2" stroke="#8c8c8c"/>
<line x1="422.7" y1="370.7" x2="422.7" y2="388.2" stroke="#8c8c8c"/>
<polygon points="397.9,356.7 406.4,356.7 407.4,357.7 407.4,367.2 406.4,368.2 397.9,368.2 396.9,367.2 396.9,357.7" stroke="#8c8c8c" fill="none"/>
<line x1="397.9" y1="357.7" x2="406.4" y2="357.7" stroke="#8c8c8c"/>
<line x1="397.9" y1="358.7" x2="406.4" y2="358.7" stroke="#8c8c8c"/>
<line x1="397.9" y1="358.7" x2="397.9" y2="367.2" stroke="#8c8c8c"/>
<line x1="406.4" y1="358.7" x2="406.4" y2="367.2" stroke="#8c8c8c"/>
<polygon points="397.9,389.7 406.4,389.7 407.4,390.7 407.4,400.2 406.4,401.2 397.9,401.2 396.9,400.2 396.9,390.7" stroke="#8c8c8c" fill="none"/>
<line x1="397.9" y1="400.2" x2="406.4" y2="400.2" stroke="#8c8c8c"/>
<line x1="397.9" y1="399.2" x2="406.4" y2="399.2" stroke="#8c8c8c"/>
<line x1="397.9" y1="390.7" x2="397.9" y2="399.2" stroke="#8c8c8c"/>
<line x1="406.4" y1="390.7" x2="406.4" y2="399.2" stroke="#8c8c8c"/>
<polygon points="411,356.7 419.5,356.7 420.5,357.7 420.5,367.2 419.5,368.2 411,368.2 410,367.2 410,357.7" stroke="#8c8c8c" fill="none"/>
<line x1="411" y1="357.7" x2="419.5" y2="357.7" stroke="#8c8c8c"/>
<line x1="411" y1="358.7" x2="419.5" y2="358.7" stroke="#8c8c8c"/>
<line x1="411" y1="358.7" x2="411" y2="367.2" stroke="#8c8c8c"/>
<line x1="419.5" y1="358.7" x2="419.5" y2="367.2" stroke="#8c8c8c"/>
<polygon points="411,389.7 419.5,389.7 420.5,390.7 420.5,400.2 419.5,401.2 411,401.2 410,400.2 410,390.7" stroke="#8c8c8c" fill="none"/>
<line x1="411" y1="400.2" x2="419.5" y2="400.2" stroke="#8c8c8c"/>
<line x1="411" y1="399.2" x2="419.5" y2="399.2" stroke="#8c8c8c"/>
<line x1="411" y1="390.7" x2="411" y2="399.2" stroke="#8c8c8c"/>
<line x1="419.5" y1="390.7" x2="419.5" y2="399.2" stroke="#8c8c8c"/>
<polygon points="424.1,356.7 432.6,356.7 433.6,357.7 433.6,367.2 432.6,368.2 424.1,368.2 423.1,367.2 423.1,357.7" stroke="#8c8c8c" fill="none"/>
<line x1="424.1" y1="357.7" x2="432.6" y2="357.7" stroke="#8c8c8c"/>
<line x1="424.1" y1="358.7" x2="432.6" y2="358.7" stroke="#8c8c8c"/>
<line x1="424.1" y1="358.7" x2="424.1" y2="367.2" stroke="#8c8c8c"/>
<line x1="432.6" y1="358.7" x2="432.6" y2="367.2" stroke="#8c8c8c"/>
<polygon points="424.1,389.7 432.6,389.7 433.6,390.7 433.6,400.2 432.6,401.2 424.1,401.2 423.1,400.2 423.1,390.7" stroke="#8c8c8c" fill="none"/>
<line x1="424.1" y1="400.2" x2="432.6" y2="400.2" stroke="#8c8c8c"/>
<line x1="424.1" y1="399.2" x2="432.6" y2="399.2" stroke="#8c8c8c"/>
<line x1="424.1" y1="390.7" x2="424.1" y2="399.2" stroke="#8c8c8c"/>
<line x1="432.6" y1="390.7" x2="432.6" y2="399.2" stroke="#8c8c8c"/>
<polygon points="437.9,356.7 446.4,356.7 447.4,357.7 447.4,367.2 446.4,368.2 437.9,368.2 436.9,367.2 436.9,357.7" stroke="#8c8c8c" fill="none"/>
<line x1="437.9" y1="357.7" x2="446.4" y2="357.7" stroke="#8c8c8c"/>
<line x1="437.9" y1="358.7" x2="446.4" y2="358.7" stroke="#8c8c8c"/>
<line x1="437.9" y1="358.7" x2="437.9" y2="367.2" stroke="#8c8c8c"/>
<line x1="446.4" y1="358.7" x2="446.4" y2="367.2" stroke="#8c8c8c"/>
<polygon points="437.9,389.7 446.4,389.7 447.4,390.7 447.4,400.2 446.4,401.2 437.9,401.2 436.9,400.2 436.9,390.7" stroke="#8c8c8c" fill="none"/>
<line x1="437.9" y1="400.2" x2="446.4" y2="400.2" stroke="#8c8c8c"/>
<line x1="437.9" y1="399.2" x2="446.4" y2="399.2" stroke="#8c8c8c"/>
<line x1="437.9" y1="390.7" x2="437.9" y2="399.2" stroke="#8c8c8c"/>
<line x1="446.4" y1="390.7" x2="446.4" y2="399.2" stroke="#8c8c8c"/>
<rect x="474.6" y="370.7" width="27.5" height="17.5" stroke="#8c8c8c" fill="none"/>
<rect x="504.6" y="370.7" width="26.5" height="17.5" stroke="#8c8c8c" fill="none"/>
<polygon points="477.6,356.7 486.1,356.7 487.1,357.7 487.1,367.2 486.1,368.2 477.6,368.2 476.6,367.2 476.6,357.7" stroke="#8c8c8c" fill="none"/>
<line x1="477.6" y1="357.7" x2="486.1" y2="357.7" stroke="#8c8c8c"/>
<line x1="477.6" y1="358.7" x2="486.1" y2="358.7" stroke="#8c8c8c"/>
<line x1="477.6" y1="358.7" x2="477.6" y2="367.2" stroke="#8c8c8c"/>
<line x1="486.1" y1="358.7" x2="486.1" y2="367.2" stroke="#8c8c8c"/>
<polygon points="477.6,389.7 486.1,389.7 487.1,390.7 487.1,400.2 486.1,401.2 477.6,401.2 476.6,400.2 476.6,390.7" stroke="#8c8c8c" fill="none"/>
<line x1="477.6" y1="400.2" x2="486.1" y2="400.2" stroke="#8c8c8c"/>
<line x1="477.6" y1="399.2" x2="486.1" y2="399.2" stroke="#8c8c8c"/>
<line x1="477.6" y1="390.7" x2="477.6" y2="399.2" stroke="#8c8c8c"/>
<line x1="486.1" y1="390.7" x2="486.1" y2="399.2" stroke="#8c8c8c"/>
<polygon points="490.8,356.7 499.3,356.7 500.3,357.7 500.3,367.2 499.3,368.2 490.8,368.2 489.8,367.2 489.8,357.7" stroke="#8c8c8c" fill="none"/>
<line x1="490.8" y1="357.7" x2="499.3" y2="357.7" stroke="#8c8c8c"/>
<line x1="490.8" y1="358.7" x2="499.3" y2="358.7" stroke="#8c8c8c"/>
<line x1="490.8" y1="358.7" x2="490.8" y2="367.2" stroke="#8c8c8c"/>
<line x1="499.3" y1="358.7" x2="499.3" y2="367.2" stroke="#8c8c8c"/>
<polygon points="490.8,389.7 499.3,389.7 500.3,390.7 500.3,400.2 499.3,401.2 490.8,401.2 489.8,400.2 489.8,390.7" stroke="#8c8c8c" fill="none"/>
<line x1="490.8" y1="400.2" x2="499.3" y2="400.2" stroke="#8c8c8c"/>
<line x1="490.8" y1="399.2" x2="499.3" y2="399.2" stroke="#8c8c8c"/>
<line x1="490.8" y1="390.7" x2="490.8" y2="399.2" stroke="#8c8c8c"/>
<line x1="499.3" y1="390.7" x2="499.3" y2="399.2" stroke="#8c8c8c"/>
<polygon points="506.6,356.7 515.1,356.7 516.1,357.7 516.1,367.2 515.1,368.2 506.6,368.2 505.6,367.2 505.6,357.7" stroke="#8c8c8c" fill="none"/>
<line x1="506.6" y1="357.7" x2="515.1" y2="357.7" stroke="#8c8c8c"/>
<line x1="506.6" y1="358.7" x2="515.1" y2="358.7" stroke="#8c8c8c"/>
<line x1="506.6" y1="358.7" x2="506.6" y2="367.2" stroke="#8c8c8c"/>
<line x1="515.1" y1="358.7" x2="515.1" y2="367.2" stroke="#8c8c8c"/>
<polygon points="506.6,389.7 515.1,389.7 516.1,390.7 516.1,400.2 515.1,401.2 506.6,401.2 505.6,400.2 505.6,390.7" stroke="#8c8c8c" fill="none"/>
<line x1="506.6" y1="400.2" x2="515.1" y2="400.2" stroke="#8c8c8c"/>
<line x1="506.6" y1="399.2" x2="515.1" y2="399.2" stroke="#8c8c8c"/>
<line x1="506.6" y1="390.7" x2="506.6" y2="399.2" stroke="#8c8c8c"/>
<line x1="515.1" y1="390.7" x2="515.1" y2="399.2" stroke="#8c8c8c"/>
<polygon points="520,356.7 528.5,356.7 529.5,357.7 529.5,367.2 528.5,368.2 520,368.2 519,367.2 519,357.7" stroke="#8c8c8c" fill="none"/>
<line x1="520" y1="357.7" x2="528.5" y2="357.7" stroke="#8c8c8c"/>
<line x1="520" y1="358.7" x2="528.5" y2="358.7" stroke="#8c8c8c"/>
<line x1="520" y1="358.7" x2="520" y2="367.2" stroke="#8c8c8c"/>
<line x1="528.5" y1="358.7" x2="528.5" y2="367.2" stroke="#8c8c8c"/>
<polygon points="520,389.7 528.5,389.7 529.5,390.7 529.5,400.2 528.5,401.2 520,401.2 519,400.2 519,390.7" stroke="#8c8c8c" fill="none"/>
<line x1="520" y1="400.2" x2="528.5" y2="400.2" stroke="#8c8c8c"/>
<line x1="520" y1="399.2" x2="528.5" y2="399.2" stroke="#8c8c8c"/>
<line x1="520" y1="390.7" x2="520" y2="399.2" stroke="#8c8c8c"/>
<line x1="528.5" y1="390.7" x2="528.5" y2="399.2" stroke="#8c8c8c"/>
<rect x="320.6" y="436.3" width="52.7" height="17.5" stroke="#8c8c8c" fill="none"/>
<line x1="346.6" y1="436.3" x2="346.6" y2="453.8" stroke="#8c8c8c"/>
<line x1="347.6" y1="436.3" x2="347.6" y2="453.8" stroke="#8c8c8c"/>
<polygon points="322.8,422.3 331.3,422.3 332.3,423.3 332.3,432.8 331.3,433.8 322.8,433.8 321.8,432.8 321.8,423.3" stroke="#8c8c8c" fill="none"/>
<line x1="322.8" y1="423.3" x2="331.3" y2="423.3" stroke="#8c8c8c"/>
<line x1="322.8" y1="424.3" x2="331.3" y2="424.3" stroke="#8c8c8c"/>
<line x1="322.8" y1="424.3" x2="322.8" y2="432.8" stroke="#8c8c8c"/>
<line x1="331.3" y1="424.3" x2="331.3" y2="432.8" stroke="#8c8c8c"/>
<polygon points="322.8,455.3 331.3,455.3 332.3,456.3 332.3,465.8 331.3,466.8 322.8,466.8 321.8,465.8 321.8,456.3" stroke="#8c8c8c" fill="none"/>
<line x1="322.8" y1="465.8" x2="331.3" y2="465.8" stroke="#8c8c8c"/>
<line x1="322.8" y1="464.8" x2="331.3" y2="464.8" stroke="#8c8c8c"/>
<line x1="322.8" y1="456.3" x2="322.8" y2="464.8" stroke="#8c8c8c"/>
<line x1="331.3" y1="456.3" x2="331.3" y2="464.8" stroke="#8c8c8c"/>
<polygon points="335.9,422.3 344.4,422.3 345.4,423.3 345.4,432.8 344.4,433.8 335.9,433.8 334.9,432.8 334.9,423.3" stroke="#8c8c8c" fill="none"/>
<line x1="335.9" y1="423.3" x2="344.4" y2="423.3" stroke="#8c8c8c"/>
<line x1="335.9" y1="424.3" x2="344.4" y2="424.3" stroke="#8c8c8c"/>
<line x1="335.9" y1="424.3" x2="335.9" y2="432.8" stroke="#8c8c8c"/>
<line x1="344.4" y1="424.3" x2="344.4" y2="432.8" stroke="#8c8c8c"/>
<polygon points="335.9,455.3 344.4,455.3 345.4,456.3 345.4,465.8 344.4,466.8 335.9,466.8 334.9,465.8 334.9,456.3" stroke="#8c8c8c" fill="none"/>
<line x1="335.9" y1="465.8" x2="344.4" y2="465.8" stroke="#8c8c8c"/>
<line x1="335.9" y1="464.8" x2="344.4" y2="464.8" stroke="#8c8c8c"/>
<line x1="335.9" y1="456.3" x2="335.9" y2="464.8" stroke="#8c8c8c"/>
<line x1="344.4" y1="456.3" x2="344.4" y2="464.8" stroke="#8c8c8c"/>
<polygon points="349,422.3 357.5,422.3 358.5,423.3 358.5,432.8 357.5,433.8 349,433.8 348,432.8 348,423.3" stroke="#8c8c8c" fill="none"/>
<line x1="349" y1="423.3" x2="357.5" y2="423.3" stroke="#8c8c8c"/>
<line x1="349" y1="424.3" x2="357.5" y2="424.3" stroke="#8c8c8c"/>
<line x1="349" y1="424.3" x2="349" y2="432.8" stroke="#8c8c8c"/>
<line x1="357.5" y1="424.3" x2="357.5" y2="432.8" stroke="#8c8c8c"/>
<polygon points="349,455.3 357.5,455.3 358.5,456.3 358.5,465.8 357.5,466.8 349,466.8 348,465.8 348,456.3" stroke="#8c8c8c" fill="none"/>
<line x1="349" y1="465.8" x2="357.5" y2="465.8" stroke="#8c8c8c"/>
<line x1="349" y1="464.8" x2="357.5" y2="464.8" stroke="#8c8c8c"/>
<line x1="349" y1="456.3" x2="349" y2="464.8" stroke="#8c8c8c"/>
<line x1="357.5" y1="456.3" x2="357.5" y2="464.8" stroke="#8c8c8c"/>
<polygon points="362.8,422.3 371.3,422.3 372.3,423.3 372.3,432.8 371.3,433.8 362.8,433.8 361.8,432.8 361.8,423.3" stroke="#8c8c8c" fill="none"/>
<line x1="362.8" y1="423.3" x2="371.3" y2="423.3" stroke="#8c8c8c"/>
<line x1="362.8" y1="424.3" x2="371.3" y2="424.3" stroke="#8c8c8c"/>
<line x1="362.8" y1="424.3" x2="362.8" y2="432.8" stroke="#8c8c8c"/>
<line x1="371.3" y1="424.3" x2="371.3" y2="432.8" stroke="#8c8c8c"/>
<polygon points="362.8,455.3 371.3,455.3 372.3,456.3 372.3,465.8 371.3,466.8 362.8,466.8 361.8,465.8 361.8,456.3" stroke="#8c8c8c" fill="none"/>
<line x1="362.8" y1="465.8" x2="371.3" y2="465.8" stroke="#8c8c8c"/>
<line x1="362.8" y1="464.8" x2="371.3" y2="464.8" stroke="#8c8c8c"/>
<line x1="362.8" y1="456.3" x2="362.8" y2="464.8" stroke="#8c8c8c"/>
<line x1="371.3" y1="456.3" x2="371.3" y2="464.8" stroke="#8c8c8c"/>
<rect x="395.7" y="436.3" width="52.7" height="17.5" stroke="#8c8c8c" fill="none"/>
<line x1="421.7" y1="436.3" x2="421.7" y2="453.8" stroke="#8c8c8c"/>
<line x1="422.7" y1="436.3" x2="422.7" y2="453.8" stroke="#8c8c8c"/>
<polygon points="397.9,422.3 406.4,422.3 407.4,423.3 407.4,432.8 406.4,433.8 397.9,433.8 396.9,432.8 396.9,423.3" stroke="#8c8c8c" fill="none"/>
<line x1="397.9" y1="423.3" x2="406.4" y2="423.3" stroke="#8c8c8c"/>
<line x1="397.9" y1="424.3" x2="406.4" y2="424.3" stroke="#8c8c8c"/>
<line x1="397.9" y1="424.3" x2="397.9" y2="432.8" stroke="#8c8c8c"/>
<line x1="406.4" y1="424.3" x2="406.4" y2="432.8" stroke="#8c8c8c"/>
<polygon points="397.9,455.3 406.4,455.3 407.4,456.3 407.4,465.8 406.4,466.8 397.9,466.8 396.9,465.8 396.9,456.3" stroke="#8c8c8c" fill="none"/>
<line x1="397.9" y1="465.8" x2="406.4" y2="465.8" stroke="#8c8c8c"/>
<line x1="397.9" y1="464.8" x2="406.4" y2="464.8" stroke="#8c8c8c"/>
<line x1="397.9" y1="456.3" x2="397.9" y2="464.8" stroke="#8c8c8c"/>
<line x1="406.4" y1="456.3" x2="406.4" y2="464.8" stroke="#8c8c8c"/>
<polygon points="411,422.3 419.5,422.3 420.5,423.3 420.5,432.8 419.5,433.8 411,433.8 410,432.8 410,423.3" stroke="#8c8c8c" fill="none"/>
<line x1="411" y1="423.3" x2="419.5" y2="423.3" stroke="#8c8c8c"/>
<line x1="411" y1="424.3" x2="419.5" y2="424.3" stroke="#8c8c8c"/>
<line x1="411" y1="424.3" x2="411" y2="432.8" stroke="#8c8c8c"/>
<line x1="419.5" y1="424.3" x2="419.5" y2="432.8" stroke="#8c8c8c"/>
<polygon points="411,455.3 419.5,455.3 420.5,456.3 420.5,465.8 419.5,466.8 411,466.8 410,465.8 410,456.3" stroke="#8c8c8c" fill="none"/>
<line x1="411" y1="465.8" x2="419.5" y2="465.8" stroke="#8c8c8c"/>
<line x1="411" y1="464.8" x2="419.5" y2="464.8" stroke="#8c8c8c"/>
<line x1="411" y1="456.3" x2="411" y2="464.8" stroke="#8c8c8c"/>
<line x1="419.5" y1="456.3" x2="419.5" y2="464.8" stroke="#8c8c8c"/>
<polygon points="424.1,422.3 432.6,422.3 433.6,423.3 433.6,432.8 432.6,433.8 424.1,433.8 423.1,432.8 423.1,423.3" stroke="#8c8c8c" fill="none"/>
<line x1="424.1" y1="423.3" x2="432.6" y2="423.3" stroke="#8c8c8c"/>
<line x1="424.1" y1="424.3" x2="432.6" y2="424.3" stroke="#8c8c8c"/>
<line x1="424.1" y1="424.3" x2="424.1" y2="432.8" stroke="#8c8c8c"/>
<line x1="432.6" y1="424.3" x2="432.6" y2="432.8" stroke="#8c8c8c"/>
<polygon points="424.1,455.3 432.6,455.3 433.6,456.3 433.6,465.8 432.6,466.8 424.1,466.8 423.1,465.8 423.1,456.3" stroke="#8c8c8c" fill="none"/>
<line x1="424.1" y1="465.8" x2="432.6" y2="465.8" stroke="#8c8c8c"/>
<line x1="424.1" y1="464.8" x2="432.6" y2="464.8" stroke="#8c8c8c"/>
<line x1="424.1" y1="456.3" x2="424.1" y2="464.8" stroke="#8c8c8c"/>
<line x1="432.6" y1="456.3" x2="432.6" y2="464.8" stroke="#8c8c8c"/>
<polygon points="437.9,422.3 446.4,422.3 447.4,423.3 447.4,432.8 446.4,433.8 437.9,433.8 436.9,432.8 436.9,423.3" stroke="#8c8c8c" fill="none"/>
<line x1="437.9" y1="423.3" x2="446.4" y2="423.3" stroke="#8c8c8c"/>
<line x1="437.9" y1="424.3" x2="446.4" y2="424.3" stroke="#8c8c8c"/>
<line x1="437.9" y1="424.3" x2="437.9" y2="432.8" stroke="#8c8c8c"/>
<line x1="446.4" y1="424.3" x2="446.4" y2="432.8" stroke="#8c8c8c"/>
<polygon points="437.9,455.3 446.4,455.3 447.4,456.3 447.4,465.8 446.4,466.8 437.9,466.8 436.9,465.8 436.9,456.3" stroke="#8c8c8c" fill="none"/>
<line x1="437.9" y1="465.8" x2="446.4" y2="465.8" stroke="#8c8c8c"/>
<line x1="437.9" y1="464.8" x2="446.4" y2="464.8" stroke="#8c8c8c"/>
<line x1="437.9" y1="456.3" x2="437.9" y2="464.8" stroke="#8c8c8c"/>
<line x1="446.4" y1="456.3" x2="446.4" y2="464.8" stroke="#8c8c8c"/>
<rect x="474.6" y="436.3" width="27.5" height="17.5" stroke="#8c8c8c" fill="none"/>
<rect x="504.6" y="436.3" width="26.5" height="17.5" stroke="#8c8c8c" fill="none"/>
<polygon points="477.6,422.3 486.1,422.3 487.1,423.3 487.1,432.8 486.1,433.8 477.6,433.8 476.6,432.8 476.6,423.3" stroke="#8c8c8c" fill="none"/>
<line x1="477.6" y1="423.3" x2="486.1" y2="423.3" stroke="#8c8c8c"/>
<line x1="477.6" y1="424.3" x2="486.1" y2="424.3" stroke="#8c8c8c"/>
<line x1="477.6" y1="424.3" x2="477.6" y2="432.8" stroke="#8c8c8c"/>
<line x1="486.1" y1="424.3" x2="486.1" y2="432.8" stroke="#8c8c8c"/>
<polygon points="477.6,455.3 486.1,455.3 487.1,456.3 487.1,465.8 486.1,466.8 477.6,466.8 476.6,465.8 476.6,456.3" stroke="#8c8c8c" fill="none"/>
<line x1="477.6" y1="465.8" x2="486.1" y2="465.8" stroke="#8c8c8c"/>
<line x1="477.6" y1="464.8" x2="486.1" y2="464.8" stroke="#8c8c8c"/>
<line x1="477.6" y1="456.3" x2="477.6" y2="464.8" stroke="#8c8c8c"/>
<line x1="486.1" y1="456.3" x2="486.1" y2="464.8" stroke="#8c8c8c"/>
<polygon points="490.8,422.3 499.3,422.3 500.3,423.3 500.3,432.8 499.3,433.8 490.8,433.8 489.8,432.8 489.8,423.3" stroke="#8c8c8c" fill="none"/>
<line x1="490.8" y1="423.3" x2="499.3" y2="423.3" stroke="#8c8c8c"/>
<line x1="490.8" y1="424.3" x2="499.3" y2="424.3" stroke="#8c8c8c"/>
<line x1="490.8" y1="424.3" x2="490.8" y2="432.8" stroke="#8c8c8c"/>
<line x1="499.3" y1="424.3" x2="499.3" y2="432.8" stroke="#8c8c8c"/>
<polygon points="490.8,455.3 499.3,455.3 500.3,456.3 500.3,465.8 499.3,466.8 490.8,466.8 489.8,465.8 489.8,456.3" stroke="#8c8c8c" fill="none"/>
<line x1="490.8" y1="465.8" x2="499.3" y2="465.8" stroke="#8c8c8c"/>
<line x1="490.8" y1="464.8" x2="499.3" y2="464.8" stroke="#8c8c8c"/>
<line x1="490.8" y1="456.3" x2="490.8" y2="464.8" stroke="#8c8c8c"/>
<line x1="499.3" y1="456.3" x2="499.3" y2="464.8" stroke="#8c8c8c"/>
<polygon points="506.6,422.3 515.1,422.3 516.1,423.3 516.1,432.8 515.1,433.8 506.6,433.8 505.6,432.8 505.6,423.3" stroke="#8c8c8c" fill="none"/>
<line x1="506.6" y1="423.3" x2="515.1" y2="423.3" stroke="#8c8c8c"/>
<line x1="506.6" y1="424.3" x2="515.1" y2="424.3" stroke="#8c8c8c"/>
<line x1="506.6" y1="424.3" x2="506.6" y2="432.8" stroke="#8c8c8c"/>
<line x1="515.1" y1="424.3" x2="515.1" y2="432.8" stroke="#8c8c8c"/>
<polygon points="506.6,455.3 515.1,455.3 516.1,456.3 516.1,465.8 515.1,466.8 506.6,466.8 505.6,465.8 505.6,456.3" stroke="#8c8c8c" fill="none"/>
<line x1="506.6" y1="465.8" x2="515.1" y2="465.8" stroke="#8c8c8c"/>
<line x1="506.6" y1="464.8" x2="515.1" y2="464.8" stroke="#8c8c8c"/>
<line x1="506.6" y1="456.3" x2="506.6" y2="464.8" stroke="#8c8c8c"/>
<line x1="515.1" y1="456.3" x2="515.1" y2="464.8" stroke="#8c8c8c"/>
<polygon points="520,422.3 528.5,422.3 529.5,423.3 529.5,432.8 528.5,433.8 520,433.8 519,432.8 519,423.3" stroke="#8c8c8c" fill="none"/>
<line x1="520" y1="423.3" x2="528.5" y2="423.3" stroke="#8c8c8c"/>
<line x1="520" y1="424.3" x2="528.5" y2="424.3" stroke="#8c8c8c"/>
<line x1="520" y1="424.3" x2="520" y2="432.8" stroke="#8c8c8c"/>
<line x1="528.5" y1="424.3" x2="528.5" y2="432.8" stroke="#8c8c8c"/>
<polygon points="520,455.3 528.5,455.3 529.5,456.3 529.5,465.8 528.5,466.8 520,466.8 519,465.8 519,456.3" stroke="#8c8c8c" fill="none"/>
<line x1="520" y1="465.8" x2="528.5" y2="465.8" stroke="#8c8c8c"/>
<line x1="520" y1="464.8" x2="528.5" y2="464.8" stroke="#8c8c8c"/>
<line x1="520" y1="456.3" x2="520" y2="464.8" stroke="#8c8c8c"/>
<line x1="528.5" y1="456.3" x2="528.5" y2="464.8" stroke="#8c8c8c"/>
<rect x="320.6" y="507.8" width="52.7" height="17.5" stroke="#8c8c8c" fill="none"/>
<line x1="346.6" y1="507.8" x2="346.6" y2="525.3" stroke="#8c8c8c"/>
<line x1="347.6" y1="507.8" x2="347.6" y2="525.3" stroke="#8c8c8c"/>
<polygon points="322.8,493.8 331.3,493.8 332.3,494.8 332.3,504.3 331.3,505.3 322.8,505.3 321.8,504.3 321.8,494.8" stroke="#8c8c8c" fill="none"/>
<line x1="322.8" y1="494.8" x2="331.3" y2="494.8" stroke="#8c8c8c"/>
<line x1="322.8" y1="495.8" x2="331.3" y2="495.8" stroke="#8c8c8c"/>
<line x1="322.8" y1="495.8" x2="322.8" y2="504.3" stroke="#8c8c8c"/>
<line x1="331.3" y1="495.8" x2="331.3" y2="504.3" stroke="#8c8c8c"/>
<polygon points="322.8,526.8 331.3,526.8 332.3,527.8 332.3,537.3 331.3,538.3 322.8,538.3 321.8,537.3 321.8,527.8" stroke="#8c8c8c" fill="none"/>
<line x1="322.8" y1="537.3" x2="331.3" y2="537.3" stroke="#8c8c8c"/>
<line x1="322.8" y1="536.3" x2="331.3" y2="536.3" stroke="#8c8c8c"/>
<line x1="322.8" y1="527.8" x2="322.8" y2="536.3" stroke="#8c8c8c"/>
<line x1="331.3" y1="527.8" x2="331.3" y2="536.3" stroke="#8c8c8c"/>
<polygon points="335.9,493.8 344.4,493.8 345.4,494.8 345.4,504.3 344.4,505.3 335.9,505.3 334.9,504.3 334.9,494.8" stroke="#8c8c8c" fill="none"/>
<line x1="335.9" y1="494.8" x2="344.4" y2="494.8" stroke="#8c8c8c"/>
<line x1="335.9" y1="495.8" x2="344.4" y2="495.8" stroke="#8c8c8c"/>
<line x1="335.9" y1="495.8" x2="335.9" y2="504.3" stroke="#8c8c8c"/>
<line x1="344.4" y1="495.8" x2="344.4" y2="504.3" stroke="#8c8c8c"/>
<polygon points="335.9,526.8 344.4,526.8 345.4,527.8 345.4,537.3 344.4,538.3 335.9,538.3 334.9,537.3 334.9,527.8" stroke="#8c8c8c" fill="none"/>
<line x1="335.9" y1="537.3" x2="344.4" y2="537.3" stroke="#8c8c8c"/>
<line x1="335.9" y1="536.3" x2="344.4" y2="536.3" stroke="#8c8c8c"/>
<line x1="335.9" y1="527.8" x2="335.9" y2="536.3" stroke="#8c8c8c"/>
<line x1="344.4" y1="527.8" x2="344.4" y2="536.3" stroke="#8c8c8c"/>
<polygon points="349,493.8 357.5,493.8 358.5,494.8 358.5,504.3 357.5,505.3 349,505.3 348,504.3 348,494.8" stroke="#8c8c8c" fill="none"/>
<line x1="349" y1="494.8" x2="357.5" y2="494.8" stroke="#8c8c8c"/>
<line x1="349" y1="495.8" x2="357.5" y2="495.8" stroke="#8c8c8c"/>
<line x1="349" y1="495.8" x2="349" y2="504.3" stroke="#8c8c8c"/>
<line x1="357.5" y1="495.8" x2="357.5" y2="504.3" stroke="#8c8c8c"/>
<polygon points="349,526.8 357.5,526.8 358.5,527.8 358.5,537.3 357.5,538.3 349,538.3 348,537.3 348,527.8" stroke="#8c8c8c" fill="none"/>
<line x1="349" y1="537.3" x2="357.5" y2="537.3" stroke="#8c8c8c"/>
<line x1="349" y1="536.3" x2="357.5" y2="536.3" stroke="#8c8c8c"/>
<line x1="349" y1="527.8" x2="349" y2="536.3" stroke="#8c8c8c"/>
<line x1="357.5" y1="527.8" x2="357.5" y2="536.3" stroke="#8c8c8c"/>
<polygon points="362.8,493.8 371.3,493.8 372.3,494.8 372.3,504.3 371.3,505.3 362.8,505.3 361.8,504.3 361.8,494.8" stroke="#8c8c8c" fill="none"/>
<line x1="362.8" y1="494.8" x2="371.3" y2="494.8" stroke="#8c8c8c"/>
<line x1="362.8" y1="495.8" x2="371.3" y2="495.8" stroke="#8c8c8c"/>
<line x1="362.8" y1="495.8" x2="362.8" y2="504.3" stroke="#8c8c8c"/>
<line x1="371.3" y1="495.8" x2="371.3" y2="504.3" stroke="#8c8c8c"/>
<polygon points="362.8,526.8 371.3,526.8 372.3,527.8 372.3,537.3 371.3,538.3 362.8,538.3 361.8,537.3 361.8,527.8" stroke="#8c8c8c" fill="none"/>
<line x1="362.8" y1="537.3" x2="371.3" y2="537.3" stroke="#8c8c8c"/>
<line x1="362.8" y1="536.3" x2="371.3" y2="536.3" stroke="#8c8c8c"/>
<line x1="362.8" y1="527.8" x2="362.8" y2="536.3" stroke="#8c8c8c"/>
<line x1="371.3" y1="527.8" x2="371.3" y2="536.3" stroke="#8c8c8c"/>
<rect x="395.7" y="507.8" width="52.7" height="17.5" stroke="#8c8c8c" fill="none"/>
<line x1="421.7" y1="507.8" x2="421.7" y2="525.3" stroke="#8c8c8c"/>
<line x1="422.7" y1="507.8" x2="422.7" y2="525.3" stroke="#8c8c8c"/>
<polygon points="397.9,493.8 406.4,493.8 407.4,494.8 407.4,504.3 406.4,505.3 397.9,505.3 396.9,504.3 396.9,494.8" stroke="#8c8c8c" fill="none"/>
<line x1="397.9" y1="494.8" x2="406.4" y2="494.8" stroke="#8c8c8c"/>
<line x1="397.9" y1="495.8" x2="406.4" y2="495.8" stroke="#8c8c8c"/>
<line x1="397.9" y1="495.8" x2="397.9" y2="504.3" stroke="#8c8c8c"/>
<line x1="406.4" y1="495.8" x2="406.4" y2="504.3" stroke="#8c8c8c"/>
<polygon points="397.9,526.8 406.4,526.8 407.4,527.8 407.4,537.3 406.4,538.3 397.9,538.3 396.9,537.3 396.9,527.8" stroke="#8c8c8c" fill="none"/>
<line x1="397.9" y1="537.3" x2="406.4" y2="537.3" stroke="#8c8c8c"/>
<line x1="397.9" y1="536.3" x2="406.4" y2="536.3" stroke="#8c8c8c"/>
<line x1="397.9" y1="527.8" x2="397.9" y2="536.3" stroke="#8c8c8c"/>
<line x1="406.4" y1="527.8" x2="406.4" y2="536.3" stroke="#8c8c8c"/>
<polygon points="411,493.8 419.5,493.8 420.5,494.8 420.5,504.3 419.5,505.3 411,505.3 410,504.3 410,494.8" stroke="#8c8c8c" fill="none"/>
<line x1="411" y1="494.8" x2="419.5" y2="494.8" stroke="#8c8c8c"/>
<line x1="411" y1="495.8" x2="419.5" y2="495.8" stroke="#8c8c8c"/>
<line x1="411" y1="495.8" x2="411" y2="504.3" stroke="#8c8c8c"/>
<line x1="419.5" y1="495.8" x2="419.5" y2="504.3" stroke="#8c8c8c"/>
<polygon points="411,526.8 419.5,526.8 420.5,527.8 420.5,537.3 419.5,538.3 411,538.3 410,537.3 410,527.8" stroke="#8c8c8c" fill="none"/>
<line x1="411" y1="537.3" x2="419.5" y2="537.3" stroke="#8c8c8c"/>
<line x1="411" y1="536.3" x2="419.5" y2="536.3" stroke="#8c8c8c"/>
<line x1="411" y1="527.8" x2="411" y2="536.3" stroke="#8c8c8c"/>
<line x1="419.5" y1="527.8" x2="419.5" y2="536.3" stroke="#8c8c8c"/>
<polygon points="424.1,493.8 432.6,493.8 433.6,494.8 433.6,504.3 432.6,505.3 424.1,505.3 423.1,504.3 423.1,494.8" stroke="#8c8c8c" fill="none"/>
<line x1="424.1" y1="494.8" x2="432.6" y2="494.8" stroke="#8c8c8c"/>
<line x1="424.1" y1="495.8" x2="432.6" y2="495.8" stroke="#8c8c8c"/>
<line x1="424.1" y1="495.8" x2="424.1" y2="504.3" stroke="#8c8c8c"/>
<line x1="432.6" y1="495.8" x2="432.6" y2="504.3" stroke="#8c8c8c"/>
<polygon points="424.1,526.8 432.6,526.8 433.6,527.8 433.6,537.3 432.6,538.3 424.1,538.3 423.1,537.3 423.1,527.8" stroke="#8c8c8c" fill="none"/>
<line x1="424.1" y1="537.3" x2="432.6" y2="537.3" stroke="#8c8c8c"/>
<line x1="424.1" y1="536.3" x2="432.6" y2="536.3" stroke="#8c8c8c"/>
<line x1="424.1" y1="527.8" x2="424.1" y2="536.3" stroke="#8c8c8c"/>
<line x1="432.6" y1="527.8" x2="432.6" y2="536.3" stroke="#8c8c8c"/>
<polygon points="437.9,493.8 446.4,493.8 447.4,494.8 447.4,504.3 446.4,505.3 437.9,505.3 436.9,504.3 436.9,494.8" stroke="#8c8c8c" fill="none"/>
<line x1="437.9" y1="494.8" x2="446.4" y2="494.8" stroke="#8c8c8c"/>
<line x1="437.9" y1="495.8" x2="446.4" y2="495.8" stroke="#8c8c8c"/>
<line x1="437.9" y1="495.8" x2="437.9" y2="504.3" stroke="#8c8c8c"/>
<line x1="446.4" y1="495.8" x2="446.4" y2="504.3" stroke="#8c8c8c"/>
<polygon points="437.9,526.8 446.4,526.8 447.4,527.8 447.4,537.3 446.4,538.3 437.9,538.3 436.9,537.3 436.9,527.8" stroke="#8c8c8c" fill="none"/>
<line x1="437.9" y1="537.3" x2="446.4" y2="537.3" stroke="#8c8c8c"/>
<line x1="437.9" y1="536.3" x2="446.4" y2="536.3" stroke="#8c8c8c"/>
<line x1="437.9" y1="527.8" x2="437.9" y2="536.3" stroke="#8c8c8c"/>
<line x1="446.4" y1="527.8" x2="446.4" y2="536.3" stroke="#8c8c8c"/>
<rect x="474.6" y="507.8" width="27.5" height="17.5" stroke="#8c8c8c" fill="none"/>
<rect x="504.6" y="507.8" width="26.5" height="17.5" stroke="#8c8c8c" fill="none"/>
<polygon points="477.6,493.8 486.1,493.8 487.1,494.8 487.1,504.3 486.1,505.3 477.6,505.3 476.6,504.3 476.6,494.8" stroke="#8c8c8c" fill="none"/>
<line x1="477.6" y1="494.8" x2="486.1" y2="494.8" stroke="#8c8c8c"/>
<line x1="477.6" y1="495.8" x2="486.1" y2="495.8" stroke="#8c8c8c"/>
<line x1="477.6" y1="495.8" x2="477.6" y2="504.3" stroke="#8c8c8c"/>
<line x1="486.1" y1="495.8" x2="486.1" y2="504.3" stroke="#8c8c8c"/>
<polygon points="477.6,526.8 486.1,526.8 487.1,527.8 487.1,537.3 486.1,538.3 477.6,538.3 476.6,537.3 476.6,527.8" stroke="#8c8c8c" fill="none"/>
<line x1="477.6" y1="537.3" x2="486.1" y2="537.3" stroke="#8c8c8c"/>
<line x1="477.6" y1="536.3" x2="486.1" y2="536.3" stroke="#8c8c8c"/>
<line x1="477.6" y1="527.8" x2="477.6" y2="536.3" stroke="#8c8c8c"/>
<line x1="486.1" y1="527.8" x2="486.1" y2="536.3" stroke="#8c8c8c"/>
<polygon points="490.8,493.8 499.3,493.8 500.3,494.8 500.3,504.3 499.3,505.3 490.8,505.3 489.8,504.3 489.8,494.8" stroke="#8c8c8c" fill="none"/>
<line x1="490.8" y1="494.8" x2="499.3" y2="494.8" stroke="#8c8c8c"/>
<line x1="490.8" y1="495.8" x2="499.3" y2="495.8" stroke="#8c8c8c"/>
<line x1="490.8" y1="495.8" x2="490.8" y2="504.3" stroke="#8c8c8c"/>
<line x1="499.3" y1="495.8" x2="499.3" y2="504.3" stroke="#8c8c8c"/>
<polygon points="490.8,526.8 499.3,526.8 500.3,527.8 500.3,537.3 499.3,538.3 490.8,538.3 489.8,537.3 489.8,527.8" stroke="#8c8c8c" fill="none"/>
<line x1="490.8" y1="537.3" x2="499.3" y2="537.3" stroke="#8c8c8c"/>
<line x1="490.8" y1="536.3" x2="499.3" y2="536.3" stroke="#8c8c8c"/>
<line x1="490.8" y1="527.8" x2="490.8" y2="536.3" stroke="#8c8c8c"/>
<line x1="499.3" y1="527.8" x2="499.3" y2="536.3" stroke="#8c8c8c"/>
<polygon points="506.6,493.8 515.1,493.8 516.1,494.8 516.1,504.3 515.1,505.3 506.6,505.3 505.6,504.3 505.6,494.8" stroke="#8c8c8c" fill="none"/>
<line x1="506.6" y1="494.8" x2="515.1" y2="494.8" stroke="#8c8c8c"/>
<line x1="506.6" y1="495.8" x2="515.1" y2="495.8" stroke="#8c8c8c"/>
<line x1="506.6" y1="495.8" x2="506.6" y2="504.3" stroke="#8c8c8c"/>
<line x1="515.1" y1="495.8" x2="515.1" y2="504.3" stroke="#8c8c8c"/>
<polygon points="506.6,526.8 515.1,526.8 516.1,527.8 516.1,537.3 515.1,538.3 506.6,538.3 505.6,537.3 505.6,527.8" stroke="#8c8c8c" fill="none"/>
<line x1="506.6" y1="537.3" x2="515.1" y2="537.3" stroke="#8c8c8c"/>
<line x1="506.6" y1="536.3" x2="515.1" y2="536.3" stroke="#8c8c8c"/>
<line x1="506.6" y1="527.8" x2="506.6" y2="536.3" stroke="#8c8c8c"/>
<line x1="515.1" y1="527.8" x2="515.1" y2="536.3" stroke="#8c8c8c"/>
<polygon points="520,493.8 528.5,493.8 529.5,494.8 529.5,504.3 528.5,505.3 520,505.3 519,504.3 519,494.8" stroke="#8c8c8c" fill="none"/>
<line x1="520" y1="494.8" x2="528.5" y2="494.8" stroke="#8c8c8c"/>
<line x1="520" y1="495.8" x2="528.5" y2="495.8" stroke="#8c8c8c"/>
<line x1="520" y1="495.8" x2="520" y2="504.3" stroke="#8c8c8c"/>
<line x1="528.5" y1="495.8" x2="528.5" y2="504.3" stroke="#8c8c8c"/>
<polygon points="520,526.8 528.5,526.8 529.5,527.8 529.5,537.3 528.5,538.3 520,538.3 519,537.3 519,527.8" stroke="#8c8c8c" fill="none"/>
<line x1="520" y1="537.3" x2="528.5" y2="537.3" stroke="#8c8c8c"/>
<line x1="520" y1="536.3" x2="528.5" y2="536.3" stroke="#8c8c8c"/>
<line x1="520" y1="527.8" x2="520" y2="536.3" stroke="#8c8c8c"/>
<line x1="528.5" y1="527.8" x2="528.5" y2="536.3" stroke="#8c8c8c"/>
<rect x="320.6" y="556.6" width="52.7" height="17.5" stroke="#8c8c8c" fill="none"/>
<line x1="346.6" y1="556.6" x2="346.6" y2="574.1" stroke="#8c8c8c"/>
<line x1="347.6" y1="556.6" x2="347.6" y2="574.1" stroke="#8c8c8c"/>
<polygon points="322.8,542.6 331.3,542.6 332.3,543.6 332.3,553.1 331.3,554.1 322.8,554.1 321.8,553.1 321.8,543.6" stroke="#8c8c8c" fill="none"/>
<line x1="322.8" y1="543.6" x2="331.3" y2="543.6" stroke="#8c8c8c"/>
<line x1="322.8" y1="544.6" x2="331.3" y2="544.6" stroke="#8c8c8c"/>
<line x1="322.8" y1="544.6" x2="322.8" y2="553.1" stroke="#8c8c8c"/>
<line x1="331.3" y1="544.6" x2="331.3" y2="553.1" stroke="#8c8c8c"/>
<polygon points="322.8,575.6 331.3,575.6 332.3,576.6 332.3,586.1 331.3,587.1 322.8,587.1 321.8,586.1 321.8,576.6" stroke="#8c8c8c" fill="none"/>
<line x1="322.8" y1="586.1" x2="331.3" y2="586.1" stroke="#8c8c8c"/>
<line x1="322.8" y1="585.1" x2="331.3" y2="585.1" stroke="#8c8c8c"/>
<line x1="322.8" y1="576.6" x2="322.8" y2="585.1" stroke="#8c8c8c"/>
<line x1="331.3" y1="576.6" x2="331.3" y2="585.1" stroke="#8c8c8c"/>
<polygon points="335.9,542.6 344.4,542.6 345.4,543.6 345.4,553.1 344.4,554.1 335.9,554.1 334.9,553.1 334.9,543.6" stroke="#8c8c8c" fill="none"/>
<line x1="335.9" y1="543.6" x2="344.4" y2="543.6" stroke="#8c8c8c"/>
<line x1="335.9" y1="544.6" x2="344.4" y2="544.6" stroke="#8c8c8c"/>
<line x1="335.9" y1="544.6" x2="335.9" y2="553.1" stroke="#8c8c8c"/>
<line x1="344.4" y1="544.6" x2="344.4" y2="553.1" stroke="#8c8c8c"/>
<polygon points="335.9,575.6 344.4,575.6 345.4,576.6 345.4,586.1 344.4,587.1 335.9,587.1 334.9,586.1 334.9,576.6" stroke="#8c8c8c" fill="none"/>
<line x1="335.9" y1="586.1" x2="344.4" y2="586.1" stroke="#8c8c8c"/>
<line x1="335.9" y1="585.1" x2="344.4" y2="585.1" stroke="#8c8c8c"/>
<line x1="335.9" y1="576.6" x2="335.9" y2="585.1" stroke="#8c8c8c"/>
<line x1="344.4" y1="576.6" x2="344.4" y2="585.1" stroke="#8c8c8c"/>
<polygon points="349,542.6 357.5,542.6 358.5,543.6 358.5,553.1 357.5,554.1 349,554.1 348,553.1 348,543.6" stroke="#8c8c8c" fill="none"/>
<line x1="349" y1="543.6" x2="357.5" y2="543.6" stroke="#8c8c8c"/>
<line x1="349" y1="544.6" x2="357.5" y2="544.6" stroke="#8c8c8c"/>
<line x1="349" y1="544.6" x2="349" y2="553.1" stroke="#8c8c8c"/>
<line x1="357.5" y1="544.6" x2="357.5" y2="553.1" stroke="#8c8c8c"/>
<polygon points="349,575.6 357.5,575.6 358.5,576.6 358.5,586.1 357.5,587.1 349,587.1 348,586.1 348,576.6" stroke="#8c8c8c" fill="none"/>
<line x1="349" y1="586.1" x2="357.5" y2="586.1" stroke="#8c8c8c"/>
<line x1="349" y1="585.1" x2="357.5" y2="585.1" stroke="#8c8c8c"/>
<line x1="349" y1="576.6" x2="349" y2="585.1" stroke="#8c8c8c"/>
<line x1="357.5" y1="576.6" x2="357.5" y2="585.1" stroke="#8c8c8c"/>
<polygon points="362.8,542.6 371.3,542.6 372.3,543.6 372.3,553.1 371.3,554.1 362.8,554.1 361.8,553.1 361.8,543.6" stroke="#8c8c8c" fill="none"/>
<line x1="362.8" y1="543.6" x2="371.3" y2="543.6" stroke="#8c8c8c"/>
<line x1="362.8" y1="544.6" x2="371.3" y2="544.6" stroke="#8c8c8c"/>
<line x1="362.8" y1="544.6" x2="362.8" y2="553.1" stroke="#8c8c8c"/>
<line x1="371.3" y1="544.6" x2="371.3" y2="553.1" stroke="#8c8c8c"/>
<polygon points="362.8,575.6 371.3,575.6 372.3,576.6 372.3,586.1 371.3,587.1 362.8,587.1 361.8,586.1 361.8,576.6" stroke="#8c8c8c" fill="none"/>
<line x1="362.8" y1="586.1" x2="371.3" y2="586.1" stroke="#8c8c8c"/>
<line x1="362.8" y1="585.1" x2="371.3" y2="585.1" stroke="#8c8c8c"/>
<line x1="362.8" y1="576.6" x2="362.8" y2="585.1" stroke="#8c8c8c"/>
<line x1="371.3" y1="576.6" x2="371.3" y2="585.1" stroke="#8c8c8c"/>
<rect x="395.7" y="556.6" width="52.7" height="17.5" stroke="#8c8c8c" fill="none"/>
<line x1="421.7" y1="556.6" x2="421.7" y2="574.1" stroke="#8c8c8c"/>
<line x1="422.7" y1="556.6" x2="422.7" y2="574.1" stroke="#8c8c8c"/>
<polygon points="397.9,542.6 406.4,542.6 407.4,543.6 407.4,553.1 406.4,554.1 397.9,554.1 396.9,553.1 396.9,543.6" stroke="#8c8c8c" fill="none"/>
<line x1="397.9" y1="543.6" x2="406.4" y2="543.6" stroke="#8c8c8c"/>
<line x1="397.9" y1="544.6" x2="406.4" y2="544.6" stroke="#8c8c8c"/>
<line x1="397.9" y1="544.6" x2="397.9" y2="553.1" stroke="#8c8c8c"/>
<line x1="406.4" y1="544.6" x2="406.4" y2="553.1" stroke="#8c8c8c"/>
<polygon points="397.9,575.6 406.4,575.6 407.4,576.6 407.4,586.1 406.4,587.1 397.9,587.1 396.9,586.1 396.9,576.6" stroke="#8c8c8c" fill="none"/>
<line x1="397.9" y1="586.1" x2="406.4" y2="586.1" stroke="#8c8c8c"/>
<line x1="397.9" y1="585.1" x2="406.4" y2="585.1" stroke="#8c8c8c"/>
<line x1="397.9" y1="576.6" x2="397.9" y2="585.1" stroke="#8c8c8c"/>
<line x1="406.4" y1="576.6" x2="406.4" y2="585.1" stroke="#8c8c8c"/>
<polygon points="411,542.6 419.5,542.6 420.5,543.6 420.5,553.1 419.5,554.1 411,554.1 410,553.1 410,543.6" stroke="#8c8c8c" fill="none"/>
<line x1="411" y1="543.6" x2="419.5" y2="543.6" stroke="#8c8c8c"/>
<line x1="411" y1="544.6" x2="419.5" y2="544.6" stroke="#8c8c8c"/>
<line x1="411" y1="544.6" x2="411" y2="553.1" stroke="#8c8c8c"/>
<line x1="419.5" y1="544.6" x2="419.5" y2="553.1" stroke="#8c8c8c"/>
<polygon points="411,575.6 419.5,575.6 420.5,576.6 420.5,586.1 419.5,587.1 411,587.1 410,586.1 410,576.6" stroke="#8c8c8c" fill="none"/>
<line x1="411" y1="586.1" x2="419.5" y2="586.1" stroke="#8c8c8c"/>
<line x1="411" y1="585.1" x2="419.5" y2="585.1" stroke="#8c8c8c"/>
<line x1="411" y1="576.6" x2="411" y2="585.1" stroke="#8c8c8c"/>
<line x1="419.5" y1="576.6" x2="419.5" y2="585.1" stroke="#8c8c8c"/>
<polygon points="424.1,542.6 432.6,542.6 433.6,543.6 433.6,553.1 432.6,554.1 424.1,554.1 423.1,553.1 423.1,543.6" stroke="#8c8c8c" fill="none"/>
<line x1="424.1" y1="543.6" x2="432.6" y2="543.6" stroke="#8c8c8c"/>
<line x1="424.1" y1="544.6" x2="432.6" y2="544.6" stroke="#8c8c8c"/>
<line x1="424.1" y1="544.6" x2="424.1" y2="553.1" stroke="#8c8c8c"/>
<line x1="432.6" y1="544.6" x2="432.6" y2="553.1" stroke="#8c8c8c"/>
<polygon points="424.1,575.6 432.6,575.6 433.6,576.6 433.6,586.1 432.6,587.1 424.1,587.1 423.1,586.1 423.1,576.6" stroke="#8c8c8c" fill="none"/>
<line x1="424.1" y1="586.1" x2="432.6" y2="586.1" stroke="#8c8c8c"/>
<line x1="424.1" y1="585.1" x2="432.6" y2="585.1" stroke="#8c8c8c"/>
<line x1="424.1" y1="576.6" x2="424.1" y2="585.1" stroke="#8c8c8c"/>
<line x1="432.6" y1="576.6" x2="432.6" y2="585.1" stroke="#8c8c8c"/>
<polygon points="437.9,542.6 446.4,542.6 447.4,543.6 447.4,553.1 446.4,554.1 437.9,554.1 436.9,553.1 436.9,543.6" stroke="#8c8c8c" fill="none"/>
<line x1="437.9" y1="543.6" x2="446.4" y2="543.6" stroke="#8c8c8c"/>
<line x1="437.9" y1="544.6" x2="446.4" y2="544.6" stroke="#8c8c8c"/>
<line x1="437.9" y1="544.6" x2="437.9" y2="553.1" stroke="#8c8c8c"/>
<line x1="446.4" y1="544.6" x2="446.4" y2="553.1" stroke="#8c8c8c"/>
<polygon points="437.9,575.6 446.4,575.6 447.4,576.6 447.4,586.1 446.4,587.1 437.9,587.1 436.9,586.1 436.9,576.6" stroke="#8c8c8c" fill="none"/>
<line x1="437.9" y1="586.1" x2="446.4" y2="586.1" stroke="#8c8c8c"/>
<line x1="437.9" y1="585.1" x2="446.4" y2="585.1" stroke="#8c8c8c"/>
<line x1="437.9" y1="576.6" x2="437.9" y2="585.1" stroke="#8c8c8c"/>
<line x1="446.4" y1="576.6" x2="446.4" y2="585.1" stroke="#8c8c8c"/>
<rect x="474.6" y="556.6" width="27.5" height="17.5" stroke="#8c8c8c" fill="none"/>
<rect x="504.6" y="556.6" width="26.5" height="17.5" stroke="#8c8c8c" fill="none"/>
<polygon points="477.6,542.6 486.1,542.6 487.1,543.6 487.1,553.1 486.1,554.1 477.6,554.1 476.6,553.1 476.6,543.6" stroke="#8c8c8c" fill="none"/>
<line x1="477.6" y1="543.6" x2="486.1" y2="543.6" stroke="#8c8c8c"/>
<line x1="477.6" y1="544.6" x2="486.1" y2="544.6" stroke="#8c8c8c"/>
<line x1="477.6" y1="544.6" x2="477.6" y2="553.1" stroke="#8c8c8c"/>
<line x1="486.1" y1="544.6" x2="486.1" y2="553.1" stroke="#8c8c8c"/>
<polygon points="477.6,575.6 486.1,575.6 487.1,576.6 487.1,586.1 486.1,587.1 477.6,587.1 476.6,586.1 476.6,576.6" stroke="#8c8c8c" fill="none"/>
<line x1="477.6" y1="586.1" x2="486.1" y2="586.1" stroke="#8c8c8c"/>
<line x1="477.6" y1="585.1" x2="486.1" y2="585.1" stroke="#8c8c8c"/>
<line x1="477.6" y1="576.6" x2="477.6" y2="585.1" stroke="#8c8c8c"/>
<line x1="486.1" y1="576.6" x2="486.1" y2="585.1" stroke="#8c8c8c"/>
<polygon points="490.8,542.6 499.3,542.6 500.3,543.6 500.3,553.1 499.3,554.1 490.8,554.1 489.8,553.1 489.8,543.6" stroke="#8c8c8c" fill="none"/>
<line x1="490.8" y1="543.6" x2="499.3" y2="543.6" stroke="#8c8c8c"/>
<line x1="490.8" y1="544.6" x2="499.3" y2="544.6" stroke="#8c8c8c"/>
<line x1="490.8" y1="544.6" x2="490.8" y2="553.1" stroke="#8c8c8c"/>
<line x1="499.3" y1="544.6" x2="499.3" y2="553.1" stroke="#8c8c8c"/>
<polygon points="490.8,575.6 499.3,575.6 500.3,576.6 500.3,586.1 499.3,587.1 490.8,587.1 489.8,586.1 489.8,576.6" stroke="#8c8c8c" fill="none"/>
<line x1="490.8" y1="586.1" x2="499.3" y2="586.1" stroke="#8c8c8c"/>
<line x1="490.8" y1="585.1" x2="499.3" y2="585.1" stroke="#8c8c8c"/>
<line x1="490.8" y1="576.6" x2="490.8" y2="585.1" stroke="#8c8c8c"/>
<line x1="499.3" y1="576.6" x2="499.3" y2="585.1" stroke="#8c8c8c"/>
<polygon points="506.6,542.6 515.1,542.6 516.1,543.6 516.1,553.1 515.1,554.1 506.6,554.1 505.6,553.1 505.6,543.6" stroke="#8c8c8c" fill="none"/>
<line x1="506.6" y1="543.6" x2="515.1" y2="543.6" stroke="#8c8c8c"/>
<line x1="506.6" y1="544.6" x2="515.1" y2="544.6" stroke="#8c8c8c"/>
<line x1="506.6" y1="544.6" x2="506.6" y2="553.1" stroke="#8c8c8c"/>
<line x1="515.1" y1="544.6" x2="515.1" y2="553.1" stroke="#8c8c8c"/>
<polygon points="506.6,575.6 515.1,575.6 516.1,576.6 516.1,586.1 515.1,587.1 506.6,587.1 505.6,586.1 505.6,576.6" stroke="#8c8c8c" fill="none"/>
<line x1="506.6" y1="586.1" x2="515.1" y2="586.1" stroke="#8c8c8c"/>
<line x1="506.6" y1="585.1" x2="515.1" y2="585.1" stroke="#8c8c8c"/>
<line x1="506.6" y1="576.6" x2="506.6" y2="585.1" stroke="#8c8c8c"/>
<line x1="515.1" y1="576.6" x2="515.1" y2="585.1" stroke="#8c8c8c"/>
<polygon points="520,542.6 528.5,542.6 529.5,543.6 529.5,553.1 528.5,554.1 520,554.1 519,553.1 519,543.6" stroke="#8c8c8c" fill="none"/>
<line x1="520" y1="543.6" x2="528.5" y2="543.6" stroke="#8c8c8c"/>
<line x1="520" y1="544.6" x2="528.5" y2="544.6" stroke="#8c8c8c"/>
<line x1="520" y1="544.6" x2="520" y2="553.1" stroke="#8c8c8c"/>
<line x1="528.5" y1="544.6" x2="528.5" y2="553.1" stroke="#8c8c8c"/>
<polygon points="520,575.6 528.5,575.6 529.5,576.6 529.5,586.1 528.5,587.1 520,587.1 519,586.1 519,576.6" stroke="#8c8c8c" fill="none"/>
<line x1="520" y1="586.1" x2="528.5" y2="586.1" stroke="#8c8c8c"/>
<line x1="520" y1="585.1" x2="528.5" y2="585.1" stroke="#8c8c8c"/>
<line x1="520" y1="576.6" x2="520" y2="585.1" stroke="#8c8c8c"/>
<line x1="528.5" y1="576.6" x2="528.5" y2="585.1" stroke="#8c8c8c"/>
<rect x="320.6" y="605.1" width="52.7" height="17.5" stroke="#8c8c8c" fill="none"/>
<line x1="346.6" y1="605.1" x2="346.6" y2="622.6" stroke="#8c8c8c"/>
<line x1="347.6" y1="605.1" x2="347.6" y2="622.6" stroke="#8c8c8c"/>
<polygon points="322.8,591.1 331.3,591.1 332.3,592.1 332.3,601.6 331.3,602.6 322.8,602.6 321.8,601.6 321.8,592.1" stroke="#8c8c8c" fill="none"/>
<line x1="322.8" y1="592.1" x2="331.3" y2="592.1" stroke="#8c8c8c"/>
<line x1="322.8" y1="593.1" x2="331.3" y2="593.1" stroke="#8c8c8c"/>
<line x1="322.8" y1="593.1" x2="322.8" y2="601.6" stroke="#8c8c8c"/>
<line x1="331.3" y1="593.1" x2="331.3" y2="601.6" stroke="#8c8c8c"/>
<polygon points="322.8,624.1 331.3,624.1 332.3,625.1 332.3,634.6 331.3,635.6 322.8,635.6 321.8,634.6 321.8,625.1" stroke="#8c8c8c" fill="none"/>
<line x1="322.8" y1="634.6" x2="331.3" y2="634.6" stroke="#8c8c8c"/>
<line x1="322.8" y1="633.6" x2="331.3" y2="633.6" stroke="#8c8c8c"/>
<line x1="322.8" y1="625.1" x2="322.8" y2="633.6" stroke="#8c8c8c"/>
<line x1="331.3" y1="625.1" x2="331.3" y2="633.6" stroke="#8c8c8c"/>
<polygon points="335.9,591.1 344.4,591.1 345.4,592.1 345.4,601.6 344.4,602.6 335.9,602.6 334.9,601.6 334.9,592.1" stroke="#8c8c8c" fill="none"/>
<line x1="335.9" y1="592.1" x2="344.4" y2="592.1" stroke="#8c8c8c"/>
<line x1="335.9" y1="593.1" x2="344.4" y2="593.1" stroke="#8c8c8c"/>
<line x1="335.9" y1="593.1" x2="335.9" y2="601.6" stroke="#8c8c8c"/>
<line x1="344.4" y1="593.1" x2="344.4" y2="601.6" stroke="#8c8c8c"/>
<polygon points="335.9,624.1 344.4,624.1 345.4,625.1 345.4,634.6 344.4,635.6 335.9,635.6 334.9,634.6 334.9,625.1" stroke="#8c8c8c" fill="none"/>
<line x1="335.9" y1="634.6" x2="344.4" y2="634.6" stroke="#8c8c8c"/>
<line x1="335.9" y1="633.6" x2="344.4" y2="633.6" stroke="#8c8c8c"/>
<line x1="335.9" y1="625.1" x2="335.9" y2="633.6" stroke="#8c8c8c"/>
<line x1="344.4" y1="625.1" x2="344.4" y2="633.6" stroke="#8c8c8c"/>
<polygon points="349,591.1 357.5,591.1 358.5,592.1 358.5,601.6 357.5,602.6 349,602.6 348,601.6 348,592.1" stroke="#8c8c8c" fill="none"/>
<line x1="349" y1="592.1" x2="357.5" y2="592.1" stroke="#8c8c8c"/>
<line x1="349" y1="593.1" x2="357.5" y2="593.1" stroke="#8c8c8c"/>
<line x1="349" y1="593.1" x2="349" y2="601.6" stroke="#8c8c8c"/>
<line x1="357.5" y1="593.1" x2="357.5" y2="601.6" stroke="#8c8c8c"/>
<polygon points="349,624.1 357.5,624.1 358.5,625.1 358.5,634.6 357.5,635.6 349,635.6 348,634.6 348,625.1" stroke="#8c8c8c" fill="none"/>
<line x1="349" y1="634.6" x2="357.5" y2="634.6" stroke="#8c8c8c"/>
<line x1="349" y1="633.6" x2="357.5" y2="633.6" stroke="#8c8c8c"/>
<line x1="349" y1="625.1" x2="349" y2="633.6" stroke="#8c8c8c"/>
<line x1="357.5" y1="625.1" x2="357.5" y2="633.6" stroke="#8c8c8c"/>
<polygon points="362.8,591.1 371.3,591.1 372.3,592.1 372.3,601.6 371.3,602.6 362.8,602.6 361.8,601.6 361.8,592.1" stroke="#8c8c8c" fill="none"/>
<line x1="362.8" y1="592.1" x2="371.3" y2="592.1" stroke="#8c8c8c"/>
<line x1="362.8" y1="593.1" x2="371.3" y2="593.1" stroke="#8c8c8c"/>
<line x1="362.8" y1="593.1" x2="362.8" y2="601.6" stroke="#8c8c8c"/>
<line x1="371.3" y1="593.1" x2="371.3" y2="601.6" stroke="#8c8c8c"/>
<polygon points="362.8,624.1 371.3,624.1 372.3,625.1 372.3,634.6 371.3,635.6 362.8,635.6 361.8,634.6 361.8,625.1" stroke="#8c8c8c" fill="none"/>
<line x1="362.8" y1="634.6" x2="371.3" y2="634.6" stroke="#8c8c8c"/>
<line x1="362.8" y1="633.6" x2="371.3" y2="633.6" stroke="#8c8c8c"/>
<line x1="362.8" y1="625.1" x2="362.8" y2="633.6" stroke="#8c8c8c"/>
<line x1="371.3" y1="625.1" x2="371.3" y2="633.6" stroke="#8c8c8c"/>
<rect x="395.7" y="605.1" width="52.7" height="17.5" stroke="#8c8c8c" fill="none"/>
<line x1="421.7" y1="605.1" x2="421.7" y2="622.6" stroke="#8c8c8c"/>
<line x1="422.7" y1="605.1" x2="422.7" y2="622.6" stroke="#8c8c8c"/>
<polygon points="397.9,591.1 406.4,591.1 407.4,592.1 407.4,601.6 406.4,602.6 397.9,602.6 396.9,601.6 396.9,592.1" stroke="#8c8c8c" fill="none"/>
<line x1="397.9" y1="592.1" x2="406.4" y2="592.1" stroke="#8c8c8c"/>
<line x1="397.9" y1="593.1" x2="406.4" y2="593.1" stroke="#8c8c8c"/>
<line x1="397.9" y1="593.1" x2="397.9" y2="601.6" stroke="#8c8c8c"/>
<line x1="406.4" y1="593.1" x2="406.4" y2="601.6" stroke="#8c8c8c"/>
<polygon points="397.9,624.1 406.4,624.1 407.4,625.1 407.4,634.6 406.4,635.6 397.9,635.6 396.9,634.6 396.9,625.1" stroke="#8c8c8c" fill="none"/>
<line x1="397.9" y1="634.6" x2="406.4" y2="634.6" stroke="#8c8c8c"/>
<line x1="397.9" y1="633.6" x2="406.4" y2="633.6" stroke="#8c8c8c"/>
<line x1="397.9" y1="625.1" x2="397.9" y2="633.6" stroke="#8c8c8c"/>
<line x1="406.4" y1="625.1" x2="406.4" y2="633.6" stroke="#8c8c8c"/>
<polygon points="411,591.1 419.5,591.1 420.5,592.1 420.5,601.6 419.5,602.6 411,602.6 410,601.6 410,592.1" stroke="#8c8c8c" fill="none"/>
<line x1="411" y1="592.1" x2="419.5" y2="592.1" stroke="#8c8c8c"/>
<line x1="411" y1="593.1" x2="419.5" y2="593.1" stroke="#8c8c8c"/>
<line x1="411" y1="593.1" x2="411" y2="601.6" stroke="#8c8c8c"/>
<line x1="419.5" y1="593.1" x2="419.5" y2="601.6" stroke="#8c8c8c"/>
<polygon points="411,624.1 419.5,624.1 420.5,625.1 420.5,634.6 419.5,635.6 411,635.6 410,634.6 410,625.1" stroke="#8c8c8c" fill="none"/>
<line x1="411" y1="634.6" x2="419.5" y2="634.6" stroke="#8c8c8c"/>
<line x1="411" y1="633.6" x2="419.5" y2="633.6" stroke="#8c8c8c"/>
<line x1="411" y1="625.1" x2="411" y2="633.6" stroke="#8c8c8c"/>
<line x1="419.5" y1="625.1" x2="419.5" y2="633.6" stroke="#8c8c8c"/>
<polygon points="424.1,591.1 432.6,591.1 433.6,592.1 433.6,601.6 432.6,602.6 424.1,602.6 423.1,601.6 423.1,592.1" stroke="#8c8c8c" fill="none"/>
<line x1="424.1" y1="592.1" x2="432.6" y2="592.1" stroke="#8c8c8c"/>
<line x1="424.1" y1="593.1" x2="432.6" y2="593.1" stroke="#8c8c8c"/>
<line x1="424.1" y1="593.1" x2="424.1" y2="601.6" stroke="#8c8c8c"/>
<line x1="432.6" y1="593.1" x2="432.6" y2="601.6" stroke="#8c8c8c"/>
<polygon points="424.1,624.1 432.6,624.1 433.6,625.1 433.6,634.6 432.6,635.6 424.1,635.6 423.1,634.6 423.1,625.1" stroke="#8c8c8c" fill="none"/>
<line x1="424.1" y1="634.6" x2="432.6" y2="634.6" stroke="#8c8c8c"/>
<line x1="424.1" y1="633.6" x2="432.6" y2="633.6" stroke="#8c8c8c"/>
<line x1="424.1" y1="625.1" x2="424.1" y2="633.6" stroke="#8c8c8c"/>
<line x1="432.6" y1="625.1" x2="432.6" y2="633.6" stroke="#8c8c8c"/>
<polygon points="437.9,591.1 446.4,591.1 447.4,592.1 447.4,601.6 446.4,602.6 437.9,602.6 436.9,601.6 436.9,592.1" stroke="#8c8c8c" fill="none"/>
<line x1="437.9" y1="592.1" x2="446.4" y2="592.1" stroke="#8c8c8c"/>
<line x1="437.9" y1="593.1" x2="446.4" y2="593.1" stroke="#8c8c8c"/>
<line x1="437.9" y1="593.1" x2="437.9" y2="601.6" stroke="#8c8c8c"/>
<line x1="446.4" y1="593.1" x2="446.4" y2="601.6" stroke="#8c8c8c"/>
<polygon points="437.9,624.1 446.4,624.1 447.4,625.1 447.4,634.6 446.4,635.6 437.9,635.6 436.9,634.6 436.9,625.1" stroke="#8c8c8c" fill="none"/>
<line x1="437.9" y1="634.6" x2="446.4" y2="634.6" stroke="#8c8c8c"/>
<line x1="437.9" y1="633.6" x2="446.4" y2="633.6" stroke="#8c8c8c"/>
<line x1="437.9" y1="625.1" x2="437.9" y2="633.6" stroke="#8c8c8c"/>
<line x1="446.4" y1="625.1" x2="446.4" y2="633.6" stroke="#8c8c8c"/>
<rect x="474.6" y="605.1" width="27.5" height="17.5" stroke="#8c8c8c" fill="none"/>
<rect x="504.6" y="605.1" width="26.5" height="17.5" stroke="#8c8c8c" fill="none"/>
<polygon points="477.6,591.1 486.1,591.1 487.1,592.1 487.1,601.6 486.1,602.6 477.6,602.6 476.6,601.6 476.6,592.1" stroke="#8c8c8c" fill="none"/>
<line x1="477.6" y1="592.1" x2="486.1" y2="592.1" stroke="#8c8c8c"/>
<line x1="477.6" y1="593.1" x2="486.1" y2="593.1" stroke="#8c8c8c"/>
<line x1="477.6" y1="593.1" x2="477.6" y2="601.6" stroke="#8c8c8c"/>
<line x1="486.1" y1="593.1" x2="486.1" y2="601.6" stroke="#8c8c8c"/>
<polygon points="477.6,624.1 486.1,624.1 487.1,625.1 487.1,634.6 486.1,635.6 477.6,635.6 476.6,634.6 476.6,625.1" stroke="#8c8c8c" fill="none"/>
<line x1="477.6" y1="634.6" x2="486.1" y2="634.6" stroke="#8c8c8c"/>
<line x1="477.6" y1="633.6" x2="486.1" y2="633.6" stroke="#8c8c8c"/>
<line x1="477.6" y1="625.1" x2="477.6" y2="633.6" stroke="#8c8c8c"/>
<line x1="486.1" y1="625.1" x2="486.1" y2="633.6" stroke="#8c8c8c"/>
<polygon points="490.8,591.1 499.3,591.1 500.3,592.1 500.3,601.6 499.3,602.6 490.8,602.6 489.8,601.6 489.8,592.1" stroke="#8c8c8c" fill="none"/>
<line x1="490.8" y1="592.1" x2="499.3" y2="592.1" stroke="#8c8c8c"/>
<line x1="490.8" y1="593.1" x2="499.3" y2="593.1" stroke="#8c8c8c"/>
<line x1="490.8" y1="593.1" x2="490.8" y2="601.6" stroke="#8c8c8c"/>
<line x1="499.3" y1="593.1" x2="499.3" y2="601.6" stroke="#8c8c8c"/>
<polygon points="490.8,624.1 499.3,624.1 500.3,625.1 500.3,634.6 499.3,635.6 490.8,635.6 489.8,634.6 489.8,625.1" stroke="#8c8c8c" fill="none"/>
<line x1="490.8" y1="634.6" x2="499.3" y2="634.6" stroke="#8c8c8c"/>
<line x1="490.8" y1="633.6" x2="499.3" y2="633.6" stroke="#8c8c8c"/>
<line x1="490.8" y1="625.1" x2="490.8" y2="633.6" stroke="#8c8c8c"/>
<line x1="499.3" y1="625.1" x2="499.3" y2="633.6" stroke="#8c8c8c"/>
<polygon points="506.6,591.1 515.1,591.1 516.1,592.1 516.1,601.6 515.1,602.6 506.6,602.6 505.6,601.6 505.6,592.1" stroke="#8c8c8c" fill="none"/>
<line x1="506.6" y1="592.1" x2="515.1" y2="592.1" stroke="#8c8c8c"/>
<line x1="506.6" y1="593.1" x2="515.1" y2="593.1" stroke="#8c8c8c"/>
<line x1="506.6" y1="593.1" x2="506.6" y2="601.6" stroke="#8c8c8c"/>
<line x1="515.1" y1="593.1" x2="515.1" y2="601.6" stroke="#8c8c8c"/>
<polygon points="506.6,624.1 515.1,624.1 516.1,625.1 516.1,634.6 515.1,635.6 506.6,635.6 505.6,634.6 505.6,625.1" stroke="#8c8c8c" fill="none"/>
<line x1="506.6" y1="634.6" x2="515.1" y2="634.6" stroke="#8c8c8c"/>
<line x1="506.6" y1="633.6" x2="515.1" y2="633.6" stroke="#8c8c8c"/>
<line x1="506.6" y1="625.1" x2="506.6" y2="633.6" stroke="#8c8c8c"/>
<line x1="515.1" y1="625.1" x2="515.1" y2="633.6" stroke="#8c8c8c"/>
<polygon points="520,591.1 528.5,591.1 529.5,592.1 529.5,601.6 528.5,602.6 520,602.6 519,601.6 519,592.1" stroke="#8c8c8c" fill="none"/>
<line x1="520" y1="592.1" x2="528.5" y2="592.1" stroke="#8c8c8c"/>
<line x1="520" y1="593.1" x2="528.5" y2="593.1" stroke="#8c8c8c"/>
<line x1="520" y1="593.1" x2="520" y2="601.6" stroke="#8c8c8c"/>
<line x1="528.5" y1="593.1" x2="528.5" y2="601.6" stroke="#8c8c8c"/>
<polygon points="520,624.1 528.5,624.1 529.5,625.1 529.5,634.6 528.5,635.6 520,635.6 519,634.6 519,625.1" stroke="#8c8c8c" fill="none"/>
<line x1="520" y1="634.6" x2="528.5" y2="634.6" stroke="#8c8c8c"/>
<line x1="520" y1="633.6" x2="528.5" y2="633.6" stroke="#8c8c8c"/>
<line x1="520" y1="625.1" x2="520" y2="633.6" stroke="#8c8c8c"/>
<line x1="528.5" y1="625.1" x2="528.5" y2="633.6" stroke="#8c8c8c"/>
<rect x="245.1" y="556.6" width="52.7" height="17.5" stroke="#8c8c8c" fill="none"/>
<line x1="271.1" y1="556.6" x2="271.1" y2="574.1" stroke="#8c8c8c"/>
<line x1="272.1" y1="556.6" x2="272.1" y2="574.1" stroke="#8c8c8c"/>
<polygon points="247.3,542.6 255.8,542.6 256.8,543.6 256.8,553.1 255.8,554.1 247.3,554.1 246.3,553.1 246.3,543.6" stroke="#8c8c8c" fill="none"/>
<line x1="247.3" y1="543.6" x2="255.8" y2="543.6" stroke="#8c8c8c"/>
<line x1="247.3" y1="544.6" x2="255.8" y2="544.6" stroke="#8c8c8c"/>
<line x1="247.3" y1="544.6" x2="247.3" y2="553.1" stroke="#8c8c8c"/>
<line x1="255.8" y1="544.6" x2="255.8" y2="553.1" stroke="#8c8c8c"/>
<polygon points="247.3,575.6 255.8,575.6 256.8,576.6 256.8,586.1 255.8,587.1 247.3,587.1 246.3,586.1 246.3,576.6" stroke="#8c8c8c" fill="none"/>
<line x1="247.3" y1="586.1" x2="255.8" y2="586.1" stroke="#8c8c8c"/>
<line x1="247.3" y1="585.1" x2="255.8" y2="585.1" stroke="#8c8c8c"/>
<line x1="247.3" y1="576.6" x2="247.3" y2="585.1" stroke="#8c8c8c"/>
<line x1="255.8" y1="576.6" x2="255.8" y2="585.1" stroke="#8c8c8c"/>
<polygon points="260.4,542.6 268.9,542.6 269.9,543.6 269.9,553.1 268.9,554.1 260.4,554.1 259.4,553.1 259.4,543.6" stroke="#8c8c8c" fill="none"/>
<line x1="260.4" y1="543.6" x2="268.9" y2="543.6" stroke="#8c8c8c"/>
<line x1="260.4" y1="544.6" x2="268.9" y2="544.6" stroke="#8c8c8c"/>
<line x1="260.4" y1="544.6" x2="260.4" y2="553.1" stroke="#8c8c8c"/>
<line x1="268.9" y1="544.6" x2="268.9" y2="553.1" stroke="#8c8c8c"/>
<polygon points="260.4,575.6 268.9,575.6 269.9,576.6 269.9,586.1 268.9,587.1 260.4,587.1 259.4,586.1 259.4,576.6" stroke="#8c8c8c" fill="none"/>
<line x1="260.4" y1="586.1" x2="268.9" y2="586.1" stroke="#8c8c8c"/>
<line x1="260.4" y1="585.1" x2="268.9" y2="585.1" stroke="#8c8c8c"/>
<line x1="260.4" y1="576.6" x2="260.4" y2="585.1" stroke="#8c8c8c"/>
<line x1="268.9" y1="576.6" x2="268.9" y2="585.1" stroke="#8c8c8c"/>
<polygon points="273.5,542.6 282,542.6 283,543.6 283,553.1 282,554.1 273.5,554.1 272.5,553.1 272.5,543.6" stroke="#8c8c8c" fill="none"/>
<line x1="273.5" y1="543.6" x2="282" y2="543.6" stroke="#8c8c8c"/>
<line x1="273.5" y1="544.6" x2="282" y2="544.6" stroke="#8c8c8c"/>
<line x1="273.5" y1="544.6" x2="273.5" y2="553.1" stroke="#8c8c8c"/>
<line x1="282" y1="544.6" x2="282" y2="553.1" stroke="#8c8c8c"/>
<polygon points="273.5,575.6 282,575.6 283,576.6 283,586.1 282,587.1 273.5,587.1 272.5,586.1 272.5,576.6" stroke="#8c8c8c" fill="none"/>
<line x1="273.5" y1="586.1" x2="282" y2="586.1" stroke="#8c8c8c"/>
<line x1="273.5" y1="585.1" x2="282" y2="585.1" stroke="#8c8c8c"/>
<line x1="273.5" y1="576.6" x2="273.5" y2="585.1" stroke="#8c8c8c"/>
<line x1="282" y1="576.6" x2="282" y2="585.1" stroke="#8c8c8c"/>
<polygon points="287.3,542.6 295.8,542.6 296.8,543.6 296.8,553.1 295.8,554.1 287.3,554.1 286.3,553.1 286.3,543.6" stroke="#8c8c8c" fill="none"/>
<line x1="287.3" y1="543.6" x2="295.8" y2="543.6" stroke="#8c8c8c"/>
<line x1="287.3" y1="544.6" x2="295.8" y2="544.6" stroke="#8c8c8c"/>
<line x1="287.3" y1="544.6" x2="287.3" y2="553.1" stroke="#8c8c8c"/>
<line x1="295.8" y1="544.6" x2="295.8" y2="553.1" stroke="#8c8c8c"/>
<polygon points="287.3,575.6 295.8,575.6 296.8,576.6 296.8,586.1 295.8,587.1 287.3,587.1 286.3,586.1 286.3,576.6" stroke="#8c8c8c" fill="none"/>
<line x1="287.3" y1="586.1" x2="295.8" y2="586.1" stroke="#8c8c8c"/>
<line x1="287.3" y1="585.1" x2="295.8" y2="585.1" stroke="#8c8c8c"/>
<line x1="287.3" y1="576.6" x2="287.3" y2="585.1" stroke="#8c8c8c"/>
<line x1="295.8" y1="576.6" x2="295.8" y2="585.1" stroke="#8c8c8c"/>
<rect x="245.1" y="605.1" width="52.7" height="17.5" stroke="#8c8c8c" fill="none"/>
<line x1="271.1" y1="605.1" x2="271.1" y2="622.6" stroke="#8c8c8c"/>
<line x1="272.1" y1="605.1" x2="272.1" y2="622.6" stroke="#8c8c8c"/>
<polygon points="247.3,591.1 255.8,591.1 256.8,592.1 256.8,601.6 255.8,602.6 247.3,602.6 246.3,601.6 246.3,592.1" stroke="#8c8c8c" fill="none"/>
<line x1="247.3" y1="592.1" x2="255.8" y2="592.1" stroke="#8c8c8c"/>
<line x1="247.3" y1="593.1" x2="255.8" y2="593.1" stroke="#8c8c8c"/>
<line x1="247.3" y1="593.1" x2="247.3" y2="601.6" stroke="#8c8c8c"/>
<line x1="255.8" y1="593.1" x2="255.8" y2="601.6" stroke="#8c8c8c"/>
<polygon points="247.3,624.1 255.8,624.1 256.8,625.1 256.8,634.6 255.8,635.6 247.3,635.6 246.3,634.6 246.3,625.1" stroke="#8c8c8c" fill="none"/>
<line x1="247.3" y1="634.6" x2="255.8" y2="634.6" stroke="#8c8c8c"/>
<line x1="247.3" y1="633.6" x2="255.8" y2="633.6" stroke="#8c8c8c"/>
<line x1="247.3" y1="625.1" x2="247.3" y2="633.6" stroke="#8c8c8c"/>
<line x1="255.8" y1="625.1" x2="255.8" y2="633.6" stroke="#8c8c8c"/>
<polygon points="260.4,591.1 268.9,591.1 269.9,592.1 269.9,601.6 268.9,602.6 260.4,602.6 259.4,601.6 259.4,592.1" stroke="#8c8c8c" fill="none"/>
<line x1="260.4" y1="592.1" x2="268.9" y2="592.1" stroke="#8c8c8c"/>
<line x1="260.4" y1="593.1" x2="268.9" y2="593.1" stroke="#8c8c8c"/>
<line x1="260.4" y1="593.1" x2="260.4" y2="601.6" stroke="#8c8c8c"/>
<line x1="268.9" y1="593.1" x2="268.9" y2="601.6" stroke="#8c8c8c"/>
<polygon points="260.4,624.1 268.9,624.1 269.9,625.1 269.9,634.6 268.9,635.6 260.4,635.6 259.4,634.6 259.4,625.1" stroke="#8c8c8c" fill="none"/>
<line x1="260.4" y1="634.6" x2="268.9" y2="634.6" stroke="#8c8c8c"/>
<line x1="260.4" y1="633.6" x2="268.9" y2="633.6" stroke="#8c8c8c"/>
<line x1="260.4" y1="625.1" x2="260.4" y2="633.6" stroke="#8c8c8c"/>
<line x1="268.9" y1="625.1" x2="268.9" y2="633.6" stroke="#8c8c8c"/>
<polygon points="273.5,591.1 282,591.1 283,592.1 283,601.6 282,602.6 273.5,602.6 272.5,601.6 272.5,592.1" stroke="#8c8c8c" fill="none"/>
<line x1="273.5" y1="592.1" x2="282" y2="592.1" stroke="#8c8c8c"/>
<line x1="273.5" y1="593.1" x2="282" y2="593.1" stroke="#8c8c8c"/>
<line x1="273.5" y1="593.1" x2="273.5" y2="601.6" stroke="#8c8c8c"/>
<line x1="282" y1="593.1" x2="282" y2="601.6" stroke="#8c8c8c"/>
<polygon points="273.5,624.1 282,624.1 283,625.1 283,634.6 282,635.6 273.5,635.6 272.5,634.6 272.5,625.1" stroke="#8c8c8c" fill="none"/>
<line x1="273.5" y1="634.6" x2="282" y2="634.6" stroke="#8c8c8c"/>
<line x1="273.5" y1="633.6" x2="282" y2="633.6" stroke="#8c8c8c"/>
<line x1="273.5" y1="625.1" x2="273.5" y2="633.6" stroke="#8c8c8c"/>
<line x1="282" y1="625.1" x2="282" y2="633.6" stroke="#8c8c8c"/>
<polygon points="287.3,591.1 295.8,591.1 296.8,592.1 296.8,601.6 295.8,602.6 287.3,602.6 286.3,601.6 286.3,592.1" stroke="#8c8c8c" fill="none"/>
<line x1="287.3" y1="592.1" x2="295.8" y2="592.1" stroke="#8c8c8c"/>
<line x1="287.3" y1="593.1" x2="295.8" y2="593.1" stroke="#8c8c8c"/>
<line x1="287.3" y1="593.1" x2="287.3" y2="601.6" stroke="#8c8c8c"/>
<line x1="295.8" y1="593.1" x2="295.8" y2="601.6" stroke="#8c8c8c"/>
<polygon points="287.3,624.1 295.8,624.1 296.8,625.1 296.8,634.6 295.8,635.6 287.3,635.6 286.3,634.6 286.3,625.1" stroke="#8c8c8c" fill="none"/>
<line x1="287.3" y1="634.6" x2="295.8" y2="634.6" stroke="#8c8c8c"/>
<line x1="287.3" y1="633.6" x2="295.8" y2="633.6" stroke="#8c8c8c"/>
<line x1="287.3" y1="625.1" x2="287.3" y2="633.6" stroke="#8c8c8c"/>
<line x1="295.8" y1="625.1" x2="295.8" y2="633.6" stroke="#8c8c8c"/>
<circle cx="691.6" cy="433.4" r="25" stroke="#8c8c8c" fill="none"/>
<circle cx="691.6" cy="433.4" r="21.2" stroke="#8c8c8c" fill="none" stroke-width="1.6"/>
<circle cx="691.6" cy="433.4" r="19.4" stroke="#8c8c8c" fill="none"/>
<circle cx="691.6" cy="401.6" r="5" stroke="#8c8c8c" fill="none"/>
<path d="M696.14 397.99 A5.8 5.8 0 0 0 687.06 397.99" stroke="#8c8c8c" fill="none" stroke-width="1.2"/>
<circle cx="702.48" cy="403.52" r="5" stroke="#8c8c8c" fill="none"/>
<path d="M707.98 401.68 A5.8 5.8 0 0 0 699.44 398.58" stroke="#8c8c8c" fill="none" stroke-width="1.2"/>
<circle cx="712.04" cy="409.04" r="5" stroke="#8c8c8c" fill="none"/>
<path d="M717.84 409.2 A5.8 5.8 0 0 0 710.88 403.36" stroke="#8c8c8c" fill="none" stroke-width="1.2"/>
<circle cx="719.14" cy="417.5" r="5" stroke="#8c8c8c" fill="none"/>
<path d="M724.53 419.63 A5.8 5.8 0 0 0 719.99 411.76" stroke="#8c8c8c" fill="none" stroke-width="1.2"/>
<circle cx="722.92" cy="427.88" r="5" stroke="#8c8c8c" fill="none"/>
<path d="M727.26 431.73 A5.8 5.8 0 0 0 725.68 422.78" stroke="#8c8c8c" fill="none" stroke-width="1.2"/>
<circle cx="722.92" cy="438.92" r="5" stroke="#8c8c8c" fill="none"/>
<path d="M725.68 444.02 A5.8 5.8 0 0 0 727.26 435.07" stroke="#8c8c8c" fill="none" stroke-width="1.2"/>
<circle cx="719.14" cy="449.3" r="5" stroke="#8c8c8c" fill="none"/>
<path d="M719.99 455.04 A5.8 5.8 0 0 0 724.53 447.17" stroke="#8c8c8c" fill="none" stroke-width="1.2"/>
<circle cx="712.04" cy="457.76" r="5" stroke="#8c8c8c" fill="none"/>
<path d="M710.88 463.44 A5.8 5.8 0 0 0 717.84 457.6" stroke="#8c8c8c" fill="none" stroke-width="1.2"/>
<circle cx="702.48" cy="463.28" r="5" stroke="#8c8c8c" fill="none"/>
<path d="M699.44 468.22 A5.8 5.8 0 0 0 707.98 465.12" stroke="#8c8c8c" fill="none" stroke-width="1.2"/>
<circle cx="691.6" cy="465.2" r="5" stroke="#8c8c8c" fill="none"/>
<path d="M687.06 468.81 A5.8 5.8 0 0 0 696.14 468.81" stroke="#8c8c8c" fill="none" stroke-width="1.2"/>
<circle cx="680.72" cy="463.28" r="5" stroke="#8c8c8c" fill="none"/>
<path d="M675.22 465.12 A5.8 5.8 0 0 0 683.76 468.22" stroke="#8c8c8c" fill="none" stroke-width="1.2"/>
<circle cx="671.16" cy="457.76" r="5" stroke="#8c8c8c" fill="none"/>
<path d="M665.36 457.6 A5.8 5.8 0 0 0 672.32 463.44" stroke="#8c8c8c" fill="none" stroke-width="1.2"/>
<circle cx="664.06" cy="449.3" r="5" stroke="#8c8c8c" fill="none"/>
<path d="M658.67 447.17 A5.8 5.8 0 0 0 663.21 455.04" stroke="#8c8c8c" fill="none" stroke-width="1.2"/>
<circle cx="660.28" cy="438.92" r="5" stroke="#8c8c8c" fill="none"/>
<path d="M655.94 435.07 A5.8 5.8 0 0 0 657.52 444.02" stroke="#8c8c8c" fill="none" stroke-width="1.2"/>
<circle cx="660.28" cy="427.88" r="5" stroke="#8c8c8c" fill="none"/>
<path d="M657.52 422.78 A5.8 5.8 0 0 0 655.94 431.73" stroke="#8c8c8c" fill="none" stroke-width="1.2"/>
<circle cx="664.06" cy="417.5" r="5" stroke="#8c8c8c" fill="none"/>
<path d="M663.21 411.76 A5.8 5.8 0 0 0 658.67 419.63" stroke="#8c8c8c" fill="none" stroke-width="1.2"/>
<circle cx="671.16" cy="409.04" r="5" stroke="#8c8c8c" fill="none"/>
<path d="M672.32 403.36 A5.8 5.8 0 0 0 665.36 409.2" stroke="#8c8c8c" fill="none" stroke-width="1.2"/>
<circle cx="680.72" cy="403.52" r="5" stroke="#8c8c8c" fill="none"/>
<path d="M683.76 398.58 A5.8 5.8 0 0 0 675.22 401.68" stroke="#8c8c8c" fill="none" stroke-width="1.2"/>
<circle cx="627" cy="616" r="15.8" stroke="#8c8c8c" fill="none"/>
<circle cx="627" cy="616" r="13.4" stroke="#8c8c8c" fill="none" stroke-width="1.6"/>
<circle cx="627" cy="616" r="11.6" stroke="#8c8c8c" fill="none"/>
<circle cx="627" cy="592.7" r="5.3" stroke="#8c8c8c" fill="none"/>
<path d="M631.78 588.91 A6.1 6.1 0 0 0 622.22 588.91" stroke="#8c8c8c" fill="none" stroke-width="1.2"/>
<circle cx="640.7" cy="597.15" r="5.3" stroke="#8c8c8c" fill="none"/>
<path d="M646.79 596.89 A6.1 6.1 0 0 0 639.06 591.27" stroke="#8c8c8c" fill="none" stroke-width="1.2"/>
<circle cx="649.16" cy="608.8" r="5.3" stroke="#8c8c8c" fill="none"/>
<path d="M654.24 612.17 A6.1 6.1 0 0 0 651.29 603.08" stroke="#8c8c8c" fill="none" stroke-width="1.2"/>
<circle cx="649.16" cy="623.2" r="5.3" stroke="#8c8c8c" fill="none"/>
<path d="M651.29 628.92 A6.1 6.1 0 0 0 654.24 619.83" stroke="#8c8c8c" fill="none" stroke-width="1.2"/>
<circle cx="640.7" cy="634.85" r="5.3" stroke="#8c8c8c" fill="none"/>
<path d="M639.06 640.73 A6.1 6.1 0 0 0 646.79 635.11" stroke="#8c8c8c" fill="none" stroke-width="1.2"/>
<circle cx="627" cy="639.3" r="5.3" stroke="#8c8c8c" fill="none"/>
<path d="M622.22 643.09 A6.1 6.1 0 0 0 631.78 643.09" stroke="#8c8c8c" fill="none" stroke-width="1.2"/>
<circle cx="613.3" cy="634.85" r="5.3" stroke="#8c8c8c" fill="none"/>
<path d="M607.21 635.11 A6.1 6.1 0 0 0 614.94 640.73" stroke="#8c8c8c" fill="none" stroke-width="1.2"/>
<circle cx="604.84" cy="623.2" r="5.3" stroke="#8c8c8c" fill="none"/>
<path d="M599.76 619.83 A6.1 6.1 0 0 0 602.71 628.92" stroke="#8c8c8c" fill="none" stroke-width="1.2"/>
<circle cx="604.84" cy="608.8" r="5.3" stroke="#8c8c8c" fill="none"/>
<path d="M602.71 603.08 A6.1 6.1 0 0 0 599.76 612.17" stroke="#8c8c8c" fill="none" stroke-width="1.2"/>
<circle cx="613.3" cy="597.15" r="5.3" stroke="#8c8c8c" fill="none"/>
<path d="M614.94 591.27 A6.1 6.1 0 0 0 607.21 596.89" stroke="#8c8c8c" fill="none" stroke-width="1.2"/>
<line x1="665.5" y1="167.5" x2="740.5" y2="167.5" stroke="#7fb8f0"/>
<line x1="665.5" y1="167.5" x2="665.5" y2="299" stroke="#7fb8f0"/>
<line x1="740.5" y1="167.5" x2="740.5" y2="270" stroke="#7fb8f0"/>
<line x1="665.5" y1="203.2" x2="740.5" y2="203.2" stroke="#7fb8f0"/>
<line x1="665.5" y1="209.7" x2="740.5" y2="209.7" stroke="#7fb8f0"/>
<line x1="665.5" y1="215.4" x2="740.5" y2="215.4" stroke="#7fb8f0"/>
<line x1="665.5" y1="221.7" x2="740.5" y2="221.7" stroke="#7fb8f0"/>
<line x1="665.5" y1="228.1" x2="740.5" y2="228.1" stroke="#7fb8f0"/>
<line x1="665.5" y1="234.1" x2="740.5" y2="234.1" stroke="#7fb8f0"/>
<line x1="665.5" y1="240.1" x2="740.5" y2="240.1" stroke="#7fb8f0"/>
<line x1="665.5" y1="246.2" x2="740.5" y2="246.2" stroke="#7fb8f0"/>
<line x1="665.5" y1="252.6" x2="740.5" y2="252.6" stroke="#7fb8f0"/>
<line x1="665.5" y1="259.4" x2="740.5" y2="259.4" stroke="#7fb8f0"/>
<rect x="699" y="202" width="7" height="58.5" fill="#000" stroke="none"/>
<rect x="699.5" y="202.5" width="6" height="57.5" stroke="#7fb8f0" fill="none"/>
<line x1="702.5" y1="203" x2="702.5" y2="259.5" stroke="#7fb8f0"/>
<path d="M665.5 203 A37.5 32 0 0 1 740.5 203" stroke="#7fb8f0" fill="none" stroke-dasharray="4,3"/>
<path d="M665.5 259.4 A37.5 31 0 0 0 740.5 259.4" stroke="#7fb8f0" fill="none" stroke-dasharray="4,3"/>
<polyline points="666,240 701,220.5" stroke="#7fb8f0" fill="none"/>
<polyline points="666,241.5 701,222" stroke="#7fb8f0" fill="none"/>
<line x1="683.5" y1="227" x2="683.5" y2="267" stroke="#7fb8f0"/>
<line x1="681" y1="267.5" x2="686" y2="267.5" stroke="#7fb8f0"/>
<line x1="665.5" y1="556" x2="665.5" y2="654.5" stroke="#7fb8f0"/>
<line x1="740.5" y1="556" x2="740.5" y2="654.5" stroke="#7fb8f0"/>
<line x1="665.5" y1="654.5" x2="740.5" y2="654.5" stroke="#7fb8f0"/>
<line x1="665.5" y1="550.5" x2="740.5" y2="550.5" stroke="#7fb8f0" stroke-dasharray="4,2"/>
<line x1="665.5" y1="555.5" x2="740.5" y2="555.5" stroke="#7fb8f0" stroke-dasharray="4,2"/>
<line x1="665.5" y1="556.9" x2="740.5" y2="556.9" stroke="#7fb8f0"/>
<line x1="665.5" y1="563.6" x2="740.5" y2="563.6" stroke="#7fb8f0"/>
<line x1="665.5" y1="569" x2="740.5" y2="569" stroke="#7fb8f0"/>
<line x1="665.5" y1="574.9" x2="740.5" y2="574.9" stroke="#7fb8f0"/>
<line x1="665.5" y1="581.1" x2="740.5" y2="581.1" stroke="#7fb8f0"/>
<line x1="665.5" y1="587.1" x2="740.5" y2="587.1" stroke="#7fb8f0"/>
<line x1="665.5" y1="592.7" x2="740.5" y2="592.7" stroke="#7fb8f0"/>
<line x1="665.5" y1="598.7" x2="740.5" y2="598.7" stroke="#7fb8f0"/>
<line x1="665.5" y1="604.1" x2="740.5" y2="604.1" stroke="#7fb8f0"/>
<line x1="665.5" y1="609.4" x2="740.5" y2="609.4" stroke="#7fb8f0"/>
<line x1="665.5" y1="614.8" x2="740.5" y2="614.8" stroke="#7fb8f0"/>
<rect x="699.5" y="562" width="6" height="58.5" fill="#000" stroke="none"/>
<rect x="700" y="562.5" width="5" height="57.5" stroke="#7fb8f0" fill="none"/>
<line x1="702.5" y1="563" x2="702.5" y2="619.5" stroke="#7fb8f0"/>
<path d="M665.5 556 A37.5 23 0 0 1 740.5 556" stroke="#7fb8f0" fill="none" stroke-dasharray="4,3"/>
<path d="M665.5 615 A37.5 35 0 0 0 740.5 615" stroke="#7fb8f0" fill="none" stroke-dasharray="4,3"/>
<polyline points="667,603 701,583" stroke="#7fb8f0" fill="none"/>
<polyline points="667,604.5 701,584.5" stroke="#7fb8f0" fill="none"/>
<line x1="683.5" y1="563" x2="683.5" y2="597" stroke="#7fb8f0"/>
<line x1="739.5" y1="596" x2="739.5" y2="600" stroke="#0a7cff" stroke-width="2"/>
<line x1="739.5" y1="605" x2="739.5" y2="609" stroke="#0a7cff" stroke-width="2"/>
<line x1="739.5" y1="614" x2="739.5" y2="618" stroke="#0a7cff" stroke-width="2"/>
<line x1="739.5" y1="623" x2="739.5" y2="627" stroke="#0a7cff" stroke-width="2"/>
<line x1="739.5" y1="632" x2="739.5" y2="636" stroke="#0a7cff" stroke-width="2"/>
<line x1="739.5" y1="641" x2="739.5" y2="645" stroke="#0a7cff" stroke-width="2"/>
<rect x="450.5" y="189.5" width="186.5" height="79.5" stroke="#8a8a8a" fill="none"/>
<rect x="457.5" y="195.5" width="172.5" height="67.5" stroke="#8a8a8a" fill="none"/>
<rect x="453.5" y="192" width="180.5" height="74.5" stroke="#8a8a8a" fill="none"/>
<rect x="458" y="196" width="171.5" height="66.5" stroke="#00ffff" fill="none"/>
<line x1="457.5" y1="189" x2="457.5" y2="196" stroke="#8a8a8a"/>
<line x1="457.5" y1="262.5" x2="457.5" y2="269.5" stroke="#8a8a8a"/>
<line x1="464.7" y1="189" x2="464.7" y2="196" stroke="#8a8a8a"/>
<line x1="464.7" y1="262.5" x2="464.7" y2="269.5" stroke="#8a8a8a"/>
<line x1="471.9" y1="189" x2="471.9" y2="196" stroke="#8a8a8a"/>
<line x1="471.9" y1="262.5" x2="471.9" y2="269.5" stroke="#8a8a8a"/>
<line x1="479.1" y1="189" x2="479.1" y2="196" stroke="#8a8a8a"/>
<line x1="479.1" y1="262.5" x2="479.1" y2="269.5" stroke="#8a8a8a"/>
<line x1="486.3" y1="189" x2="486.3" y2="196" stroke="#8a8a8a"/>
<line x1="486.3" y1="262.5" x2="486.3" y2="269.5" stroke="#8a8a8a"/>
<line x1="493.5" y1="189" x2="493.5" y2="196" stroke="#8a8a8a"/>
<line x1="493.5" y1="262.5" x2="493.5" y2="269.5" stroke="#8a8a8a"/>
<line x1="500.7" y1="189" x2="500.7" y2="196" stroke="#8a8a8a"/>
<line x1="500.7" y1="262.5" x2="500.7" y2="269.5" stroke="#8a8a8a"/>
<line x1="507.9" y1="189" x2="507.9" y2="196" stroke="#8a8a8a"/>
<line x1="507.9" y1="262.5" x2="507.9" y2="269.5" stroke="#8a8a8a"/>
<line x1="515.1" y1="189" x2="515.1" y2="196" stroke="#8a8a8a"/>
<line x1="515.1" y1="262.5" x2="515.1" y2="269.5" stroke="#8a8a8a"/>
<line x1="522.3" y1="189" x2="522.3" y2="196" stroke="#8a8a8a"/>
<line x1="522.3" y1="262.5" x2="522.3" y2="269.5" stroke="#8a8a8a"/>
<line x1="529.5" y1="189" x2="529.5" y2="196" stroke="#8a8a8a"/>
<line x1="529.5" y1="262.5" x2="529.5" y2="269.5" stroke="#8a8a8a"/>
<line x1="536.7" y1="189" x2="536.7" y2="196" stroke="#8a8a8a"/>
<line x1="536.7" y1="262.5" x2="536.7" y2="269.5" stroke="#8a8a8a"/>
<line x1="543.9" y1="189" x2="543.9" y2="196" stroke="#8a8a8a"/>
<line x1="543.9" y1="262.5" x2="543.9" y2="269.5" stroke="#8a8a8a"/>
<line x1="551.1" y1="189" x2="551.1" y2="196" stroke="#8a8a8a"/>
<line x1="551.1" y1="262.5" x2="551.1" y2="269.5" stroke="#8a8a8a"/>
<line x1="558.3" y1="189" x2="558.3" y2="196" stroke="#8a8a8a"/>
<line x1="558.3" y1="262.5" x2="558.3" y2="269.5" stroke="#8a8a8a"/>
<line x1="565.5" y1="189" x2="565.5" y2="196" stroke="#8a8a8a"/>
<line x1="565.5" y1="262.5" x2="565.5" y2="269.5" stroke="#8a8a8a"/>
<line x1="572.7" y1="189" x2="572.7" y2="196" stroke="#8a8a8a"/>
<line x1="572.7" y1="262.5" x2="572.7" y2="269.5" stroke="#8a8a8a"/>
<line x1="579.9" y1="189" x2="579.9" y2="196" stroke="#8a8a8a"/>
<line x1="579.9" y1="262.5" x2="579.9" y2="269.5" stroke="#8a8a8a"/>
<line x1="587.1" y1="189" x2="587.1" y2="196" stroke="#8a8a8a"/>
<line x1="587.1" y1="262.5" x2="587.1" y2="269.5" stroke="#8a8a8a"/>
<line x1="594.3" y1="189" x2="594.3" y2="196" stroke="#8a8a8a"/>
<line x1="594.3" y1="262.5" x2="594.3" y2="269.5" stroke="#8a8a8a"/>
<line x1="601.5" y1="189" x2="601.5" y2="196" stroke="#8a8a8a"/>
<line x1="601.5" y1="262.5" x2="601.5" y2="269.5" stroke="#8a8a8a"/>
<line x1="608.7" y1="189" x2="608.7" y2="196" stroke="#8a8a8a"/>
<line x1="608.7" y1="262.5" x2="608.7" y2="269.5" stroke="#8a8a8a"/>
<line x1="615.9" y1="189" x2="615.9" y2="196" stroke="#8a8a8a"/>
<line x1="615.9" y1="262.5" x2="615.9" y2="269.5" stroke="#8a8a8a"/>
<line x1="623.1" y1="189" x2="623.1" y2="196" stroke="#8a8a8a"/>
<line x1="623.1" y1="262.5" x2="623.1" y2="269.5" stroke="#8a8a8a"/>
<line x1="630.3" y1="189" x2="630.3" y2="196" stroke="#8a8a8a"/>
<line x1="630.3" y1="262.5" x2="630.3" y2="269.5" stroke="#8a8a8a"/>
<line x1="450" y1="196.5" x2="458" y2="196.5" stroke="#8a8a8a"/>
<line x1="629.5" y1="196.5" x2="637.5" y2="196.5" stroke="#8a8a8a"/>
<line x1="450" y1="199" x2="458" y2="199" stroke="#8a8a8a"/>
<line x1="629.5" y1="199" x2="637.5" y2="199" stroke="#8a8a8a"/>
<line x1="450" y1="201.5" x2="458" y2="201.5" stroke="#8a8a8a"/>
<line x1="629.5" y1="201.5" x2="637.5" y2="201.5" stroke="#8a8a8a"/>
<line x1="450" y1="204" x2="458" y2="204" stroke="#8a8a8a"/>
<line x1="629.5" y1="204" x2="637.5" y2="204" stroke="#8a8a8a"/>
<line x1="450" y1="206.5" x2="458" y2="206.5" stroke="#8a8a8a"/>
<line x1="629.5" y1="206.5" x2="637.5" y2="206.5" stroke="#8a8a8a"/>
<line x1="450" y1="209" x2="458" y2="209" stroke="#8a8a8a"/>
<line x1="629.5" y1="209" x2="637.5" y2="209" stroke="#8a8a8a"/>
<line x1="450" y1="211.5" x2="458" y2="211.5" stroke="#8a8a8a"/>
<line x1="629.5" y1="211.5" x2="637.5" y2="211.5" stroke="#8a8a8a"/>
<line x1="450" y1="214" x2="458" y2="214" stroke="#8a8a8a"/>
<line x1="629.5" y1="214" x2="637.5" y2="214" stroke="#8a8a8a"/>
<line x1="450" y1="216.5" x2="458" y2="216.5" stroke="#8a8a8a"/>
<line x1="629.5" y1="216.5" x2="637.5" y2="216.5" stroke="#8a8a8a"/>
<line x1="450" y1="219" x2="458" y2="219" stroke="#8a8a8a"/>
<line x1="629.5" y1="219" x2="637.5" y2="219" stroke="#8a8a8a"/>
<line x1="450" y1="221.5" x2="458" y2="221.5" stroke="#8a8a8a"/>
<line x1="629.5" y1="221.5" x2="637.5" y2="221.5" stroke="#8a8a8a"/>
<line x1="450" y1="224" x2="458" y2="224" stroke="#8a8a8a"/>
<line x1="629.5" y1="224" x2="637.5" y2="224" stroke="#8a8a8a"/>
<line x1="450" y1="226.5" x2="458" y2="226.5" stroke="#8a8a8a"/>
<line x1="629.5" y1="226.5" x2="637.5" y2="226.5" stroke="#8a8a8a"/>
<line x1="450" y1="229" x2="458" y2="229" stroke="#8a8a8a"/>
<line x1="629.5" y1="229" x2="637.5" y2="229" stroke="#8a8a8a"/>
<line x1="450" y1="231.5" x2="458" y2="231.5" stroke="#8a8a8a"/>
<line x1="629.5" y1="231.5" x2="637.5" y2="231.5" stroke="#8a8a8a"/>
<line x1="450" y1="234" x2="458" y2="234" stroke="#8a8a8a"/>
<line x1="629.5" y1="234" x2="637.5" y2="234" stroke="#8a8a8a"/>
<line x1="450" y1="236.5" x2="458" y2="236.5" stroke="#8a8a8a"/>
<line x1="629.5" y1="236.5" x2="637.5" y2="236.5" stroke="#8a8a8a"/>
<line x1="450" y1="239" x2="458" y2="239" stroke="#8a8a8a"/>
<line x1="629.5" y1="239" x2="637.5" y2="239" stroke="#8a8a8a"/>
<line x1="450" y1="241.5" x2="458" y2="241.5" stroke="#8a8a8a"/>
<line x1="629.5" y1="241.5" x2="637.5" y2="241.5" stroke="#8a8a8a"/>
<line x1="450" y1="244" x2="458" y2="244" stroke="#8a8a8a"/>
<line x1="629.5" y1="244" x2="637.5" y2="244" stroke="#8a8a8a"/>
<line x1="450" y1="246.5" x2="458" y2="246.5" stroke="#8a8a8a"/>
<line x1="629.5" y1="246.5" x2="637.5" y2="246.5" stroke="#8a8a8a"/>
<line x1="450" y1="249" x2="458" y2="249" stroke="#8a8a8a"/>
<line x1="629.5" y1="249" x2="637.5" y2="249" stroke="#8a8a8a"/>
<line x1="450" y1="251.5" x2="458" y2="251.5" stroke="#8a8a8a"/>
<line x1="629.5" y1="251.5" x2="637.5" y2="251.5" stroke="#8a8a8a"/>
<line x1="450" y1="254" x2="458" y2="254" stroke="#8a8a8a"/>
<line x1="629.5" y1="254" x2="637.5" y2="254" stroke="#8a8a8a"/>
<line x1="450" y1="256.5" x2="458" y2="256.5" stroke="#8a8a8a"/>
<line x1="629.5" y1="256.5" x2="637.5" y2="256.5" stroke="#8a8a8a"/>
<line x1="450" y1="259" x2="458" y2="259" stroke="#8a8a8a"/>
<line x1="629.5" y1="259" x2="637.5" y2="259" stroke="#8a8a8a"/>
<line x1="450" y1="261.5" x2="458" y2="261.5" stroke="#8a8a8a"/>
<line x1="629.5" y1="261.5" x2="637.5" y2="261.5" stroke="#8a8a8a"/>
<line x1="450.5" y1="196" x2="450.5" y2="262.5" stroke="#00ffff"/>
<line x1="637" y1="196" x2="637" y2="262.5" stroke="#00ffff"/>
<line x1="452" y1="191" x2="635.5" y2="191" stroke="#0a7cff" stroke-dasharray="5,3"/>
<line x1="452" y1="194" x2="635.5" y2="194" stroke="#0a7cff" stroke-dasharray="4,4"/>
<line x1="452" y1="267.5" x2="635.5" y2="267.5" stroke="#0a7cff" stroke-dasharray="5,3"/>
<line x1="452" y1="264.5" x2="635.5" y2="264.5" stroke="#0a7cff" stroke-dasharray="4,4"/>
<line x1="452" y1="191" x2="452" y2="267.5" stroke="#0a7cff" stroke-dasharray="2,3"/>
<line x1="635.5" y1="191" x2="635.5" y2="267.5" stroke="#0a7cff" stroke-dasharray="2,3"/>
<line x1="455.5" y1="196" x2="455.5" y2="262.5" stroke="#0a7cff" stroke-dasharray="2,3"/>
<line x1="632" y1="196" x2="632" y2="262.5" stroke="#0a7cff" stroke-dasharray="2,3"/>
<rect x="724.5" y="358.5" width="12" height="40" stroke="#8c8c8c" fill="none"/>
<rect x="727.5" y="361.5" width="9" height="34" stroke="#8c8c8c" fill="none"/>
<line x1="727.5" y1="372.5" x2="736.5" y2="372.5" stroke="#8c8c8c"/>
<line x1="727.5" y1="384.5" x2="736.5" y2="384.5" stroke="#8c8c8c"/>
<rect x="706.5" y="341.5" width="13" height="16" stroke="#8c8c8c" fill="none" rx="1.5"/>
<rect x="708.5" y="345.5" width="9" height="10" stroke="#8c8c8c" fill="none"/>
<rect x="723.5" y="343.5" width="8" height="9" stroke="#8c8c8c" fill="none"/>
<circle cx="727.5" cy="348" r="2.5" stroke="#8c8c8c" fill="none"/>
<ellipse cx="712.5" cy="378" rx="4.5" ry="8" stroke="#8c8c8c" fill="none"/>
<line x1="696" y1="349" x2="701" y2="349" stroke="#8c8c8c" stroke-width="1.3"/>
<line x1="696" y1="349" x2="699.54" y2="352.54" stroke="#8c8c8c" stroke-width="1.3"/>
<line x1="696" y1="349" x2="696" y2="354" stroke="#8c8c8c" stroke-width="1.3"/>
<line x1="696" y1="349" x2="692.46" y2="352.54" stroke="#8c8c8c" stroke-width="1.3"/>
<line x1="696" y1="349" x2="691" y2="349" stroke="#8c8c8c" stroke-width="1.3"/>
<line x1="696" y1="349" x2="692.46" y2="345.46" stroke="#8c8c8c" stroke-width="1.3"/>
<line x1="696" y1="349" x2="696" y2="344" stroke="#8c8c8c" stroke-width="1.3"/>
<line x1="696" y1="349" x2="699.54" y2="345.46" stroke="#8c8c8c" stroke-width="1.3"/>
<rect x="620.5" y="545.5" width="38" height="12" stroke="#8c8c8c" fill="none"/>
<rect x="622.5" y="547.5" width="34" height="8" stroke="#8c8c8c" fill="none"/>
<line x1="629.5" y1="547.5" x2="629.5" y2="555.5" stroke="#8c8c8c"/>
<line x1="637.5" y1="547.5" x2="637.5" y2="555.5" stroke="#8c8c8c"/>
<line x1="645.5" y1="547.5" x2="645.5" y2="555.5" stroke="#8c8c8c"/>
<rect x="631.5" y="563.5" width="24" height="11" stroke="#8c8c8c" fill="none"/>
<line x1="635" y1="566" x2="638" y2="568" stroke="#8c8c8c"/>
<line x1="645" y1="572" x2="650" y2="567" stroke="#8c8c8c"/>
<line x1="648" y1="572" x2="653" y2="567" stroke="#8c8c8c"/>
<polyline points="221.9,164.5 221.9,196.8 262.8,196.8" stroke="#a8f070" fill="none"/>
<polyline points="307,164.5 307,196.8 267,196.8" stroke="#a8f070" fill="none"/>
<line x1="234" y1="198.8" x2="262.8" y2="198.8" stroke="#a8f070"/>
<line x1="267" y1="198.8" x2="295" y2="198.8" stroke="#a8f070"/>
<line x1="234" y1="218.1" x2="262.8" y2="218.1" stroke="#a8f070"/>
<line x1="267" y1="218.1" x2="295" y2="218.1" stroke="#a8f070"/>
<line x1="234" y1="237.4" x2="262.8" y2="237.4" stroke="#a8f070"/>
<line x1="267" y1="237.4" x2="295" y2="237.4" stroke="#a8f070"/>
<line x1="234" y1="198.8" x2="234" y2="205" stroke="#a8f070"/>
<line x1="234" y1="212" x2="234" y2="225" stroke="#a8f070"/>
<line x1="234" y1="231" x2="234" y2="237.4" stroke="#a8f070"/>
<line x1="295" y1="198.8" x2="295" y2="205" stroke="#a8f070"/>
<line x1="295" y1="212" x2="295" y2="225" stroke="#a8f070"/>
<line x1="295" y1="231" x2="295" y2="237.4" stroke="#a8f070"/>
<polyline points="234,199.8 226,203.8 231,208.3 226,212.8 234,216.8" stroke="#00ffff" fill="none"/>
<polyline points="295,199.8 303,203.8 298,208.3 303,212.8 295,216.8" stroke="#00ffff" fill="none"/>
<polyline points="234,219.1 226,223.1 231,227.6 226,232.1 234,236.1" stroke="#00ffff" fill="none"/>
<polyline points="295,219.1 303,223.1 298,227.6 303,232.1 295,236.1" stroke="#00ffff" fill="none"/>
<ellipse cx="252.3" cy="208" rx="6" ry="4.3" stroke="#a8f070" fill="none" stroke-width="1.3"/>
<ellipse cx="252.3" cy="208" rx="3.4" ry="2.2" stroke="#a8f070" fill="none"/>
<ellipse cx="252.3" cy="227.2" rx="6" ry="4.3" stroke="#a8f070" fill="none" stroke-width="1.3"/>
<ellipse cx="252.3" cy="227.2" rx="3.4" ry="2.2" stroke="#a8f070" fill="none"/>
<ellipse cx="277.2" cy="208" rx="6" ry="4.3" stroke="#a8f070" fill="none" stroke-width="1.3"/>
<ellipse cx="277.2" cy="208" rx="3.4" ry="2.2" stroke="#a8f070" fill="none"/>
<ellipse cx="277.2" cy="227.2" rx="6" ry="4.3" stroke="#a8f070" fill="none" stroke-width="1.3"/>
<ellipse cx="277.2" cy="227.2" rx="3.4" ry="2.2" stroke="#a8f070" fill="none"/>
<rect x="239.5" y="194" width="13.5" height="3.5" stroke="#ff00ff" fill="none"/>
<rect x="275.5" y="194" width="14" height="3.5" stroke="#ff00ff" fill="none"/>
<line x1="239" y1="193.5" x2="254" y2="193.5" stroke="#ff00ff" stroke-width="1.4"/>
<line x1="275" y1="193.5" x2="290" y2="193.5" stroke="#ff00ff" stroke-width="1.4"/>
<ellipse cx="253" cy="182" rx="8" ry="4.2" stroke="#ffffff" fill="none" stroke-width="1.4"/>
<ellipse cx="277" cy="182" rx="8" ry="4.2" stroke="#ffffff" fill="none" stroke-width="1.4"/>
<rect x="259.5" y="175.5" width="4" height="12" stroke="#ffffff" fill="none" stroke-width="1.3"/>
<rect x="266.5" y="175.5" width="4" height="12" stroke="#ffffff" fill="none" stroke-width="1.3"/>
<line x1="243" y1="174.5" x2="287" y2="174.5" stroke="#ffffff" stroke-width="1.3"/>
<line x1="262" y1="170" x2="262" y2="188" stroke="#ffffff"/>
<line x1="268" y1="170" x2="268" y2="188" stroke="#ffffff"/>
<line x1="259" y1="171.5" x2="271" y2="171.5" stroke="#ffffff"/>
<circle cx="204.1" cy="185.9" r="16.4" stroke="#0a7cff" fill="none" stroke-dasharray="3,2"/>
<circle cx="324" cy="183.3" r="16" stroke="#0a7cff" fill="none" stroke-dasharray="3,2"/>
<polyline points="221.9,172.5 206.7,187.7 221.9,193.8" stroke="#00ffff" fill="none"/>
<polyline points="307,166 322.3,187.7 307,193.8" stroke="#00ffff" fill="none"/>
<circle cx="192.5" cy="177.5" r="1.8" stroke="#a8f070" fill="#a8f070"/>
<line x1="342.5" y1="199" x2="334.5" y2="199" stroke="#a8f070"/>
<ellipse cx="339" cy="207.5" rx="3.5" ry="4.5" stroke="#a8f070" fill="none" stroke-width="1.2"/>
<line x1="334" y1="213" x2="342.5" y2="213" stroke="#a8f070"/>
<ellipse cx="339" cy="218.0" rx="3.5" ry="4.5" stroke="#a8f070" fill="none" stroke-width="1.2"/>
<line x1="334" y1="223.5" x2="342.5" y2="223.5" stroke="#a8f070"/>
<ellipse cx="339" cy="228.5" rx="3.5" ry="4.5" stroke="#a8f070" fill="none" stroke-width="1.2"/>
<line x1="334" y1="234" x2="342.5" y2="234" stroke="#a8f070"/>
<line x1="334.5" y1="199" x2="334.5" y2="236" stroke="#a8f070"/>
<circle cx="336.5" cy="245" r="1.8" stroke="#a8f070" fill="#a8f070"/>
<rect x="224.5" y="251.6" width="36" height="13" stroke="#a8f070" fill="none"/>
<line x1="245" y1="252" x2="245" y2="264.5" stroke="#a8f070"/>
<circle cx="233.5" cy="258" r="4.3" stroke="#a8f070" fill="none" stroke-width="1.2"/>
<rect x="248" y="253.5" width="11" height="9" stroke="#a8f070" fill="none" stroke-width="1.2"/>
<circle cx="243" cy="261.5" r="1.2" stroke="#a8f070" fill="#a8f070"/>
<rect x="267.5" y="252.5" width="12.5" height="10" stroke="#ffffff" fill="none" stroke-width="1.3"/>
<line x1="269.5" y1="254.5" x2="278" y2="261" stroke="#ffffff"/>
<line x1="278" y1="254.5" x2="269.5" y2="261" stroke="#ffffff"/>
<rect x="215.3" y="234.5" width="9.2" height="17" stroke="#00ff00" fill="none"/>
<line x1="284.5" y1="258.5" x2="315" y2="258.5" stroke="#00ff00"/>
<line x1="284.5" y1="266.5" x2="315" y2="266.5" stroke="#00ff00"/>
<line x1="310" y1="256" x2="310" y2="269" stroke="#00ff00"/>
<text x="309" y="262.5" fill="#ffffff" stroke="#ffffff" font-size="7" text-anchor="middle" dominant-baseline="central" transform="rotate(-90 309 262.5)">400</text>
<circle cx="205.5" cy="248.5" r="1.4" stroke="#00ff00" fill="#00ff00"/>
<rect x="449.5" y="159" width="29" height="7" fill="#000" stroke="none"/>
<line x1="449.5" y1="160" x2="449.5" y2="145.5" stroke="#00ffff" stroke-width="2"/>
<line x1="478.5" y1="160" x2="478.5" y2="145.5" stroke="#00ffff" stroke-width="2"/>
<path d="M449.5 145.5 A14.5 14.5 0 0 1 464 160" stroke="#00ffff" fill="none"/>
<path d="M478.5 145.5 A14.5 14.5 0 0 0 464 160" stroke="#00ffff" fill="none"/>
<line x1="449.5" y1="160.5" x2="478.5" y2="160.5" stroke="#cc00aa"/>
<line x1="435.5" y1="660.5" x2="435.5" y2="674.75" stroke="#00ffff" stroke-width="2"/>
<line x1="464" y1="660.5" x2="464" y2="674.75" stroke="#00ffff" stroke-width="2"/>
<path d="M435.5 674.75 A14.25 14.25 0 0 0 449.75 660.5" stroke="#00ffff" fill="none"/>
<path d="M464 674.75 A14.25 14.25 0 0 1 449.75 660.5" stroke="#00ffff" fill="none"/>
<line x1="464" y1="660.5" x2="464" y2="674.75" stroke="#00ffff" stroke-width="2"/>
<line x1="492.5" y1="660.5" x2="492.5" y2="674.75" stroke="#00ffff" stroke-width="2"/>
<path d="M464 674.75 A14.25 14.25 0 0 0 478.25 660.5" stroke="#00ffff" fill="none"/>
<path d="M492.5 674.75 A14.25 14.25 0 0 1 478.25 660.5" stroke="#00ffff" fill="none"/>
<line x1="185.5" y1="296.5" x2="170.75" y2="296.5" stroke="#00ffff" stroke-width="2"/>
<line x1="185.5" y1="326" x2="170.75" y2="326" stroke="#00ffff" stroke-width="2"/>
<path d="M170.75 296.5 A14.75 14.75 0 0 0 185.5 311.25" stroke="#00ffff" fill="none"/>
<path d="M170.75 326 A14.75 14.75 0 0 1 185.5 311.25" stroke="#00ffff" fill="none"/>
<line x1="185.5" y1="496.5" x2="171" y2="496.5" stroke="#00ffff" stroke-width="2"/>
<line x1="185.5" y1="525.5" x2="171" y2="525.5" stroke="#00ffff" stroke-width="2"/>
<path d="M171 496.5 A14.5 14.5 0 0 0 185.5 511" stroke="#00ffff" fill="none"/>
<path d="M171 525.5 A14.5 14.5 0 0 1 185.5 511" stroke="#00ffff" fill="none"/>
<line x1="742.5" y1="270.5" x2="757.75" y2="270.5" stroke="#00ffff" stroke-width="2"/>
<line x1="742.5" y1="301" x2="757.75" y2="301" stroke="#00ffff" stroke-width="2"/>
<path d="M757.75 270.5 A15.25 15.25 0 0 1 742.5 285.75" stroke="#00ffff" fill="none"/>
<path d="M757.75 301 A15.25 15.25 0 0 0 742.5 285.75" stroke="#00ffff" fill="none"/>
<line x1="742.5" y1="516.8" x2="757.9" y2="516.8" stroke="#00ffff" stroke-width="2"/>
<line x1="742.5" y1="547.6" x2="757.9" y2="547.6" stroke="#00ffff" stroke-width="2"/>
<path d="M757.9 516.8 A15.4 15.4 0 0 1 742.5 532.2" stroke="#00ffff" fill="none"/>
<path d="M757.9 547.6 A15.4 15.4 0 0 0 742.5 532.2" stroke="#00ffff" fill="none"/>
<rect x="590.5" y="292" width="28" height="7" fill="#000" stroke="none"/>
<line x1="590.5" y1="297.5" x2="590.5" y2="311.5" stroke="#00ffff" stroke-width="2"/>
<line x1="618.5" y1="297.5" x2="618.5" y2="311.5" stroke="#00ffff" stroke-width="2"/>
<path d="M590.5 311.5 A14 14 0 0 0 604.5 297.5" stroke="#00ffff" fill="none"/>
<path d="M618.5 311.5 A14 14 0 0 1 604.5 297.5" stroke="#00ffff" fill="none"/>
<line x1="662.5" y1="299.4" x2="677.95" y2="299.4" stroke="#00ffff" stroke-width="2"/>
<line x1="662.5" y1="330.3" x2="677.95" y2="330.3" stroke="#00ffff" stroke-width="2"/>
<path d="M677.95 299.4 A15.45 15.45 0 0 1 662.5 314.85" stroke="#00ffff" fill="none"/>
<path d="M677.95 330.3 A15.45 15.45 0 0 0 662.5 314.85" stroke="#00ffff" fill="none"/>
<line x1="662.5" y1="498.3" x2="677.9" y2="498.3" stroke="#00ffff" stroke-width="2"/>
<line x1="662.5" y1="529.1" x2="677.9" y2="529.1" stroke="#00ffff" stroke-width="2"/>
<path d="M677.9 498.3 A15.4 15.4 0 0 1 662.5 513.7" stroke="#00ffff" fill="none"/>
<path d="M677.9 529.1 A15.4 15.4 0 0 0 662.5 513.7" stroke="#00ffff" fill="none"/>
<line x1="301" y1="300" x2="286" y2="300" stroke="#00ffff" stroke-width="2"/>
<line x1="301" y1="330" x2="286" y2="330" stroke="#00ffff" stroke-width="2"/>
<path d="M286 300 A15 15 0 0 0 301 315" stroke="#00ffff" fill="none"/>
<path d="M286 330 A15 15 0 0 1 301 315" stroke="#00ffff" fill="none"/>
<line x1="191.9" y1="246.4" x2="191.9" y2="226" stroke="#00ffff" stroke-width="2"/>
<path d="M191.9 226 A20.4 20.4 0 0 1 214.5 246.4" stroke="#00ffff" fill="none"/>
<line x1="191.9" y1="246.4" x2="214.5" y2="246.4" stroke="#00ffff"/>
<line x1="284.4" y1="289.5" x2="284.4" y2="268" stroke="#00ffff" stroke-width="2"/>
<path d="M284.4 268 A21.5 21.5 0 0 1 306 289.5" stroke="#00ffff" fill="none"/>
<line x1="284.4" y1="289.5" x2="306" y2="289.5" stroke="#00ffff"/>
<line x1="229.5" y1="339.9" x2="249" y2="339.9" stroke="#00ffff" stroke-width="2"/>
<path d="M249 339.9 A19.5 19.5 0 0 1 229.5 360.5" stroke="#00ffff" fill="none"/>
<line x1="194.8" y1="410" x2="194.8" y2="432" stroke="#00ffff" stroke-width="2"/>
<path d="M194.8 432 A22 22 0 0 0 215.7 410" stroke="#00ffff" fill="none"/>
<line x1="424.3" y1="172" x2="445.6" y2="172" stroke="#00ffff" stroke-width="2"/>
<line x1="426.6" y1="172" x2="426.6" y2="193.2" stroke="#00ffff"/>
<path d="M445.6 172 A19.5 19.5 0 0 1 426.6 193.2" stroke="#00ffff" fill="none"/>
<rect x="620" y="344" width="2.5" height="22" fill="#000" stroke="none"/>
<line x1="625.5" y1="344" x2="614.5" y2="344" stroke="#00ffff" stroke-width="2"/>
<line x1="625.5" y1="366" x2="614.5" y2="366" stroke="#00ffff" stroke-width="2"/>
<path d="M614.5 344 A11 11 0 0 0 625.5 355" stroke="#00ffff" fill="none"/>
<path d="M614.5 366 A11 11 0 0 1 625.5 355" stroke="#00ffff" fill="none"/>
<rect x="620" y="443" width="7" height="30" fill="#000" stroke="none"/>
<line x1="621" y1="443.5" x2="635.5" y2="443.5" stroke="#00ffff" stroke-width="2"/>
<line x1="621" y1="472.5" x2="635.5" y2="472.5" stroke="#00ffff" stroke-width="2"/>
<path d="M635.5 443.5 A14.5 14.5 0 0 1 621 458" stroke="#00ffff" fill="none"/>
<path d="M635.5 472.5 A14.5 14.5 0 0 0 621 458" stroke="#00ffff" fill="none"/>
<line x1="587.3" y1="537.5" x2="587.3" y2="552.45" stroke="#00ffff" stroke-width="2"/>
<line x1="617.2" y1="537.5" x2="617.2" y2="552.45" stroke="#00ffff" stroke-width="2"/>
<path d="M587.3 552.45 A14.95 14.95 0 0 0 602.25 537.5" stroke="#00ffff" fill="none"/>
<path d="M617.2 552.45 A14.95 14.95 0 0 1 602.25 537.5" stroke="#00ffff" fill="none"/>
<rect x="620" y="293" width="1" height="1" fill="#000" stroke="none"/>
<line x1="441.5" y1="120" x2="441.5" y2="160" stroke="#00ffff"/>
<line x1="486.5" y1="120" x2="486.5" y2="160" stroke="#00ffff"/>
<line x1="441.5" y1="120.5" x2="486.5" y2="120.5" stroke="#00ffff"/>
<line x1="441.5" y1="127.5" x2="486.5" y2="127.5" stroke="#00ffff"/>
<line x1="441.5" y1="115.5" x2="486.5" y2="115.5" stroke="#00ff00"/>
<line x1="441.5" y1="108" x2="441.5" y2="120" stroke="#00ff00"/>
<line x1="486.5" y1="108" x2="486.5" y2="120" stroke="#00ff00"/>
<text x="464" y="111" fill="#ffffff" stroke="#ffffff" font-size="8.3" text-anchor="middle" dominant-baseline="central" transform="translate(464 111) scale(0.83 1) translate(-464 -111)">2000</text>
<line x1="429.5" y1="114" x2="429.5" y2="160" stroke="#00ff00"/>
<line x1="423" y1="120.5" x2="440" y2="120.5" stroke="#00ff00"/>
<line x1="423" y1="127.5" x2="440" y2="127.5" stroke="#00ff00"/>
<text x="423.5" y="113" fill="#ffffff" stroke="#ffffff" font-size="8.3" text-anchor="middle" dominant-baseline="central" transform="translate(423.5 113) rotate(-90) scale(0.83 1) translate(-423.5 -113)">300</text>
<text x="424" y="144" fill="#ffffff" stroke="#ffffff" font-size="8.3" text-anchor="middle" dominant-baseline="central" transform="translate(424 144) rotate(-90) scale(0.83 1) translate(-424 -144)">1500</text>
<text x="505.5" y="109" fill="#ffffff" stroke="#ffffff" font-size="11" text-anchor="middle" dominant-baseline="central" transform="translate(505.5 109) scale(0.75 1) translate(-505.5 -109)">1</text>
<polyline points="515.5,109.5 526.5,109.5 526.5,130" stroke="#00ff00" fill="none"/>
<text x="505.5" y="766" fill="#ffffff" stroke="#ffffff" font-size="11" text-anchor="middle" dominant-baseline="central" transform="translate(505.5 766) scale(0.75 1) translate(-505.5 -766)">1</text>
<polyline points="515.5,766.5 525.5,766.5 525.5,745" stroke="#00ff00" fill="none"/>
<polyline points="545,160 571.7,121.4 605.5,160" stroke="#00ff00" fill="none"/>
<line x1="571.7" y1="121.4" x2="634.8" y2="121.4" stroke="#00ff00"/>
<rect x="138.5" y="290.5" width="44" height="44.5" stroke="#00ffff" fill="none"/>
<line x1="132.5" y1="290.5" x2="132.5" y2="335" stroke="#00ffff"/>
<line x1="126.5" y1="290.5" x2="126.5" y2="335" stroke="#00ff00"/>
<line x1="120" y1="290.5" x2="140" y2="290.5" stroke="#00ff00"/>
<line x1="120" y1="335" x2="140" y2="335" stroke="#00ff00"/>
<text x="122" y="313" fill="#ffffff" stroke="#ffffff" font-size="8.3" text-anchor="middle" dominant-baseline="central" transform="translate(122 313) rotate(-90) scale(0.83 1) translate(-122 -313)">2000</text>
<line x1="132" y1="281.5" x2="183" y2="281.5" stroke="#00ff00"/>
<line x1="138.5" y1="276" x2="138.5" y2="292" stroke="#00ff00"/>
<line x1="182.5" y1="276" x2="182.5" y2="292" stroke="#00ff00"/>
<line x1="132.5" y1="276" x2="132.5" y2="292" stroke="#00ff00"/>
<text x="127" y="273.5" fill="#ffffff" stroke="#ffffff" font-size="8.3" text-anchor="middle" dominant-baseline="central" transform="translate(127 273.5) scale(0.83 1) translate(-127 -273.5)">300</text>
<text x="160" y="275" fill="#ffffff" stroke="#ffffff" font-size="8.3" text-anchor="middle" dominant-baseline="central" transform="translate(160 275) scale(0.83 1) translate(-160 -275)">2000</text>
<circle cx="156.2" cy="314" r="15.9" stroke="#0a7cff" fill="none" stroke-dasharray="3,2"/>
<text x="161" y="305.5" fill="#ffffff" stroke="#ffffff" font-size="10" text-anchor="middle" dominant-baseline="central" transform="translate(161 305.5) rotate(90) scale(0.85 1) translate(-161 -305.5)">Ø1500</text>
<line x1="156.5" y1="297.6" x2="156.5" y2="329" stroke="#00ff00"/>
<rect x="139.5" y="335.5" width="31.5" height="79" stroke="#00ffff" fill="none"/>
<line x1="140.5" y1="328" x2="140.5" y2="445" stroke="#0a7cff" stroke-width="2"/>
<line x1="169.5" y1="328" x2="169.5" y2="445" stroke="#0a7cff" stroke-width="2"/>
<line x1="159.5" y1="356" x2="159.5" y2="380" stroke="#00ff00"/>
<polyline points="157.5,376 159.5,381 161.5,376" stroke="#00ff00" fill="none"/>
<text x="156" y="371" fill="#ffffff" stroke="#ffffff" font-size="5" text-anchor="middle" dominant-baseline="central" transform="rotate(90 156 371)">1:12</text>
<circle cx="159.5" cy="405" r="1.6" stroke="#00ff00" fill="none"/>
<circle cx="155" cy="432" r="16" stroke="#0a7cff" fill="none" stroke-dasharray="3,2"/>
<line x1="140" y1="441" x2="170" y2="425" stroke="#00ff00"/>
<text x="152" y="419" fill="#ffffff" stroke="#ffffff" font-size="10" text-anchor="middle" dominant-baseline="central" transform="translate(152 419) rotate(-30) scale(0.85 1) translate(-152 -419)">Ø1500</text>
<rect x="149.5" y="487.5" width="33" height="43.5" stroke="#00ffff" fill="none"/>
<line x1="143.5" y1="487.5" x2="143.5" y2="531" stroke="#00ffff"/>
<line x1="135.5" y1="487.5" x2="135.5" y2="531" stroke="#00ff00"/>
<line x1="128" y1="531.5" x2="183" y2="531.5" stroke="#00ff00"/>
<line x1="143" y1="544.5" x2="183" y2="544.5" stroke="#00ff00"/>
<line x1="143.5" y1="538" x2="143.5" y2="552" stroke="#00ff00"/>
<line x1="149.5" y1="538" x2="149.5" y2="552" stroke="#00ff00"/>
<text x="131" y="509" fill="#ffffff" stroke="#ffffff" font-size="8.3" text-anchor="middle" dominant-baseline="central" transform="translate(131 509) rotate(-90) scale(0.83 1) translate(-131 -509)">2000</text>
<text x="134" y="541" fill="#ffffff" stroke="#ffffff" font-size="8.3" text-anchor="middle" dominant-baseline="central" transform="translate(134 541) scale(0.83 1) translate(-134 -541)">300</text>
<text x="166" y="541" fill="#ffffff" stroke="#ffffff" font-size="8.3" text-anchor="middle" dominant-baseline="central" transform="translate(166 541) scale(0.83 1) translate(-166 -541)">1500</text>
<polyline points="744.5,264.5 778.5,264.5 778.5,308.5 744.5,308.5" stroke="#00ffff" fill="none"/>
<line x1="784.5" y1="264.5" x2="784.5" y2="308.5" stroke="#00ffff"/>
<line x1="778.5" y1="264.5" x2="806" y2="264.5" stroke="#00ff00"/>
<line x1="778.5" y1="308.5" x2="806" y2="308.5" stroke="#00ff00"/>
<line x1="798.5" y1="262" x2="798.5" y2="311" stroke="#00ff00"/>
<text x="795" y="287" fill="#ffffff" stroke="#ffffff" font-size="8.3" text-anchor="middle" dominant-baseline="central" transform="translate(795 287) rotate(-90) scale(0.83 1) translate(-795 -287)">2000</text>
<line x1="744" y1="321.5" x2="785" y2="321.5" stroke="#00ff00"/>
<line x1="778.5" y1="313" x2="778.5" y2="330" stroke="#00ff00"/>
<line x1="784.5" y1="308.5" x2="784.5" y2="330" stroke="#00ff00"/>
<text x="760" y="317.5" fill="#ffffff" stroke="#ffffff" font-size="8.3" text-anchor="middle" dominant-baseline="central" transform="translate(760 317.5) scale(0.83 1) translate(-760 -317.5)">1500</text>
<text x="793" y="315.5" fill="#ffffff" stroke="#ffffff" font-size="8.3" text-anchor="middle" dominant-baseline="central" transform="translate(793 315.5) scale(0.83 1) translate(-793 -315.5)">300</text>
<polyline points="744.5,509.5 778.5,509.5 778.5,554.5 744.5,554.5" stroke="#00ffff" fill="none"/>
<line x1="784.5" y1="509.5" x2="784.5" y2="554.5" stroke="#00ffff"/>
<line x1="778.5" y1="509.5" x2="808" y2="509.5" stroke="#00ff00"/>
<line x1="778.5" y1="554.5" x2="808" y2="554.5" stroke="#00ff00"/>
<line x1="800" y1="507" x2="800" y2="557" stroke="#00ff00"/>
<text x="796.5" y="531" fill="#ffffff" stroke="#ffffff" font-size="8.3" text-anchor="middle" dominant-baseline="central" transform="translate(796.5 531) rotate(-90) scale(0.83 1) translate(-796.5 -531)">2000</text>
<line x1="744" y1="580.5" x2="785" y2="580.5" stroke="#00ff00"/>
<line x1="778.5" y1="573" x2="778.5" y2="589" stroke="#00ff00"/>
<line x1="784.5" y1="560" x2="784.5" y2="589" stroke="#00ff00"/>
<text x="760" y="577" fill="#ffffff" stroke="#ffffff" font-size="8.3" text-anchor="middle" dominant-baseline="central" transform="translate(760 577) scale(0.83 1) translate(-760 -577)">1500</text>
<text x="792" y="575" fill="#ffffff" stroke="#ffffff" font-size="8.3" text-anchor="middle" dominant-baseline="central" transform="translate(792 575) scale(0.83 1) translate(-792 -575)">300</text>
<polyline points="384.5,663 384.5,716.5 543.5,716.5 543.5,663" stroke="#00ffff" fill="none"/>
<line x1="384.5" y1="711.5" x2="543.5" y2="711.5" stroke="#00ffff"/>
<polyline points="304.5,677.5 384.5,677.5" stroke="#00ffff" fill="none"/>
<line x1="304.5" y1="711.5" x2="384.5" y2="711.5" stroke="#00ffff"/>
<line x1="304.5" y1="677" x2="304.5" y2="714" stroke="#00ff00"/>
<line x1="298" y1="680" x2="391" y2="680" stroke="#0a7cff" stroke-width="2"/>
<line x1="298" y1="708.5" x2="391" y2="708.5" stroke="#0a7cff"/>
<line x1="298" y1="710" x2="391" y2="710" stroke="#0a7cff"/>
<line x1="385" y1="705.5" x2="545" y2="705.5" stroke="#00ff00"/>
<line x1="304.5" y1="705.5" x2="385" y2="705.5" stroke="#00ff00"/>
<text x="464" y="702" fill="#ffffff" stroke="#ffffff" font-size="8.3" text-anchor="middle" dominant-baseline="central" transform="translate(464 702) scale(0.83 1) translate(-464 -702)">7200</text>
<text x="343" y="702" fill="#ffffff" stroke="#ffffff" font-size="8.3" text-anchor="middle" dominant-baseline="central" transform="translate(343 702) scale(0.83 1) translate(-343 -702)">3600</text>
<line x1="328" y1="663" x2="328" y2="713" stroke="#00ff00"/>
<text x="324" y="697" fill="#ffffff" stroke="#ffffff" font-size="8.3" text-anchor="middle" dominant-baseline="central" transform="translate(324 697) rotate(-90) scale(0.83 1) translate(-324 -697)">1500</text>
<text x="324" y="671" fill="#ffffff" stroke="#ffffff" font-size="8.3" text-anchor="middle" dominant-baseline="central" transform="translate(324 671) rotate(-90) scale(0.83 1) translate(-324 -671)">700</text>
<line x1="527.5" y1="661" x2="527.5" y2="720" stroke="#00ff00"/>
<rect x="505.5" y="661.5" width="11" height="9.5" stroke="#00ff00" fill="none"/>
<text x="523.5" y="690" fill="#ffffff" stroke="#ffffff" font-size="8.3" text-anchor="middle" dominant-baseline="central" transform="translate(523.5 690) rotate(-90) scale(0.83 1) translate(-523.5 -690)">2200</text>
<text x="521.5" y="726" fill="#ffffff" stroke="#ffffff" font-size="8.3" text-anchor="middle" dominant-baseline="central" transform="translate(521.5 726) rotate(-90) scale(0.83 1) translate(-521.5 -726)">300</text>
<circle cx="287" cy="695" r="16.5" stroke="#0a7cff" fill="none" stroke-dasharray="3,2"/>
<circle cx="405" cy="693" r="16.5" stroke="#0a7cff" fill="none" stroke-dasharray="3,2"/>
<text x="287" y="682" fill="#ffffff" stroke="#ffffff" font-size="10" text-anchor="middle" dominant-baseline="central" transform="translate(287 682) rotate(-8) scale(0.85 1) translate(-287 -682)">Ø1500</text>
<text x="404" y="682" fill="#ffffff" stroke="#ffffff" font-size="10" text-anchor="middle" dominant-baseline="central" transform="translate(404 682) rotate(-8) scale(0.85 1) translate(-404 -682)">Ø1500</text>
<line x1="388.8" y1="697.2" x2="420.8" y2="690.2" stroke="#00ff00"/>
<line x1="271.7" y1="698.7" x2="303.6" y2="692.6" stroke="#00ff00"/>
<line x1="343" y1="692.5" x2="370.6" y2="692.5" stroke="#00ff00"/>
<polyline points="347,690.5 343,692.5 347,694.5" stroke="#00ff00" fill="none"/>
<text x="356" y="688" fill="#ffffff" stroke="#ffffff" font-size="5" text-anchor="middle" dominant-baseline="central">1:12</text>
<text x="357" y="697" fill="#ffffff" stroke="#ffffff" font-size="5" text-anchor="middle" dominant-baseline="central">T</text>
<rect x="324.5" y="656.5" width="7" height="6" stroke="#ff2020" fill="none"/>
<rect x="596.5" y="656.5" width="6" height="6" stroke="#ff2020" fill="none"/>
<rect x="647.5" y="270.5" width="13.5" height="22.5" stroke="#00ffff" fill="none" stroke-dasharray="3,2"/>
<rect x="182.6" y="160" width="14.2" height="13.5" fill="#d46a6a" stroke="none"/>
<rect x="183.1" y="160.5" width="13.2" height="12.5" stroke="#00ff00" fill="none"/>
<rect x="338.4" y="160" width="11.5" height="11.7" fill="#d46a6a" stroke="none"/>
<rect x="338.9" y="160.5" width="10.5" height="10.7" stroke="#00ff00" fill="none"/>
<rect x="498.5" y="160" width="11.1" height="12" fill="#d46a6a" stroke="none"/>
<rect x="499" y="160.5" width="10.1" height="11" stroke="#00ff00" fill="none"/>
<rect x="657.4" y="160" width="10.9" height="12" fill="#d46a6a" stroke="none"/>
<rect x="657.9" y="160.5" width="9.9" height="11" stroke="#00ff00" fill="none"/>
<rect x="731.2" y="160" width="13.3" height="13.6" fill="#d46a6a" stroke="none"/>
<rect x="731.7" y="160.5" width="12.3" height="12.6" stroke="#00ff00" fill="none"/>
<rect x="182.6" y="332.4" width="14" height="13.9" fill="#d46a6a" stroke="none"/>
<rect x="183.1" y="332.9" width="13" height="12.9" stroke="#00ff00" fill="none"/>
<rect x="337.4" y="332.4" width="14.3" height="14.1" fill="#d46a6a" stroke="none"/>
<rect x="337.9" y="332.9" width="13.3" height="13.1" stroke="#00ff00" fill="none"/>
<rect x="497.1" y="332.4" width="13.7" height="14.1" fill="#d46a6a" stroke="none"/>
<rect x="497.6" y="332.9" width="12.7" height="13.1" stroke="#00ff00" fill="none"/>
<rect x="656.4" y="333" width="13" height="14" fill="#d46a6a" stroke="none"/>
<rect x="656.9" y="333.5" width="12" height="13" stroke="#00ff00" fill="none"/>
<rect x="733.6" y="332.6" width="10.9" height="11" fill="#d46a6a" stroke="none"/>
<rect x="734.1" y="333.1" width="9.9" height="10" stroke="#00ff00" fill="none"/>
<rect x="182.6" y="476.5" width="14.2" height="13.2" fill="#d46a6a" stroke="none"/>
<rect x="183.1" y="477" width="13.2" height="12.2" stroke="#00ff00" fill="none"/>
<rect x="337.3" y="476.5" width="14.2" height="13.2" fill="#d46a6a" stroke="none"/>
<rect x="337.8" y="477" width="13.2" height="12.2" stroke="#00ff00" fill="none"/>
<rect x="497" y="476.5" width="13.8" height="13.2" fill="#d46a6a" stroke="none"/>
<rect x="497.5" y="477" width="12.8" height="12.2" stroke="#00ff00" fill="none"/>
<rect x="656.4" y="476" width="13" height="13.2" fill="#d46a6a" stroke="none"/>
<rect x="656.9" y="476.5" width="12" height="12.2" stroke="#00ff00" fill="none"/>
<rect x="733.6" y="478.4" width="10.9" height="10.8" fill="#d46a6a" stroke="none"/>
<rect x="734.1" y="478.9" width="9.9" height="9.8" stroke="#00ff00" fill="none"/>
<rect x="182.6" y="649.5" width="14" height="13.5" fill="#d46a6a" stroke="none"/>
<rect x="183.1" y="650" width="13" height="12.5" stroke="#00ff00" fill="none"/>
<rect x="338.2" y="650" width="11.6" height="12.5" fill="#d46a6a" stroke="none"/>
<rect x="338.7" y="650.5" width="10.6" height="11.5" stroke="#00ff00" fill="none"/>
<rect x="498" y="650.5" width="12" height="12" fill="#d46a6a" stroke="none"/>
<rect x="498.5" y="651" width="11" height="11" stroke="#00ff00" fill="none"/>
<rect x="657" y="650" width="11.5" height="12.5" fill="#d46a6a" stroke="none"/>
<rect x="657.5" y="650.5" width="10.5" height="11.5" stroke="#00ff00" fill="none"/>
<rect x="731" y="649" width="13.5" height="14" fill="#d46a6a" stroke="none"/>
<rect x="731.5" y="649.5" width="12.5" height="13" stroke="#00ff00" fill="none"/>
<line x1="185.5" y1="29" x2="185.5" y2="73" stroke="#f08478"/>
<line x1="185.5" y1="73" x2="185.5" y2="107.5" stroke="#00ff00"/>
<line x1="185.5" y1="107.5" x2="185.5" y2="118" stroke="#f08478"/>
<line x1="185.5" y1="118" x2="185.5" y2="704.5" stroke="#cc00aa"/>
<line x1="185.5" y1="704.5" x2="185.5" y2="722" stroke="#f08478"/>
<line x1="185.5" y1="722" x2="185.5" y2="750" stroke="#00ff00"/>
<line x1="185.5" y1="750" x2="185.5" y2="793" stroke="#f08478"/>
<circle cx="185.5" cy="20.8" r="8.8" stroke="#f08478" fill="none"/>
<text x="185.8" y="21.3" fill="#ffffff" stroke="#ffffff" font-size="12" text-anchor="middle" dominant-baseline="central" transform="translate(185.8 21.3) scale(0.8 1) translate(-185.8 -21.3)">1</text>
<circle cx="185.5" cy="801.5" r="8.8" stroke="#f08478" fill="none"/>
<text x="185.8" y="802" fill="#ffffff" stroke="#ffffff" font-size="12" text-anchor="middle" dominant-baseline="central" transform="translate(185.8 802) scale(0.8 1) translate(-185.8 -802)">1</text>
<line x1="344.5" y1="29" x2="344.5" y2="73" stroke="#f08478"/>
<line x1="344.5" y1="73" x2="344.5" y2="89" stroke="#00ff00"/>
<line x1="344.5" y1="89" x2="344.5" y2="118" stroke="#f08478"/>
<line x1="344.5" y1="118" x2="344.5" y2="704.5" stroke="#cc00aa"/>
<line x1="344.5" y1="704.5" x2="344.5" y2="734" stroke="#f08478"/>
<line x1="344.5" y1="734" x2="344.5" y2="750" stroke="#00ff00"/>
<line x1="344.5" y1="750" x2="344.5" y2="793" stroke="#f08478"/>
<circle cx="344.5" cy="20.8" r="8.8" stroke="#f08478" fill="none"/>
<text x="344.8" y="21.3" fill="#ffffff" stroke="#ffffff" font-size="12" text-anchor="middle" dominant-baseline="central" transform="translate(344.8 21.3) scale(0.8 1) translate(-344.8 -21.3)">2</text>
<circle cx="344.5" cy="801.5" r="8.8" stroke="#f08478" fill="none"/>
<text x="344.8" y="802" fill="#ffffff" stroke="#ffffff" font-size="12" text-anchor="middle" dominant-baseline="central" transform="translate(344.8 802) scale(0.8 1) translate(-344.8 -802)">2</text>
<line x1="503.5" y1="29" x2="503.5" y2="73" stroke="#f08478"/>
<line x1="503.5" y1="73" x2="503.5" y2="89" stroke="#00ff00"/>
<line x1="503.5" y1="89" x2="503.5" y2="118" stroke="#f08478"/>
<line x1="503.5" y1="118" x2="503.5" y2="704.5" stroke="#cc00aa"/>
<line x1="503.5" y1="704.5" x2="503.5" y2="734" stroke="#f08478"/>
<line x1="503.5" y1="734" x2="503.5" y2="750" stroke="#00ff00"/>
<line x1="503.5" y1="750" x2="503.5" y2="793" stroke="#f08478"/>
<circle cx="503.5" cy="20.8" r="8.8" stroke="#f08478" fill="none"/>
<text x="503.8" y="21.3" fill="#ffffff" stroke="#ffffff" font-size="12" text-anchor="middle" dominant-baseline="central" transform="translate(503.8 21.3) scale(0.8 1) translate(-503.8 -21.3)">3</text>
<circle cx="503.5" cy="801.5" r="8.8" stroke="#f08478" fill="none"/>
<text x="503.8" y="802" fill="#ffffff" stroke="#ffffff" font-size="12" text-anchor="middle" dominant-baseline="central" transform="translate(503.8 802) scale(0.8 1) translate(-503.8 -802)">3</text>
<line x1="662.5" y1="29" x2="662.5" y2="73" stroke="#f08478"/>
<line x1="662.5" y1="73" x2="662.5" y2="89" stroke="#00ff00"/>
<line x1="662.5" y1="89" x2="662.5" y2="118" stroke="#f08478"/>
<line x1="662.5" y1="118" x2="662.5" y2="704.5" stroke="#cc00aa"/>
<line x1="662.5" y1="704.5" x2="662.5" y2="734" stroke="#f08478"/>
<line x1="662.5" y1="734" x2="662.5" y2="750" stroke="#00ff00"/>
<line x1="662.5" y1="750" x2="662.5" y2="793" stroke="#f08478"/>
<circle cx="662.5" cy="20.8" r="8.8" stroke="#f08478" fill="none"/>
<text x="662.8" y="21.3" fill="#ffffff" stroke="#ffffff" font-size="12" text-anchor="middle" dominant-baseline="central" transform="translate(662.8 21.3) scale(0.8 1) translate(-662.8 -21.3)">4</text>
<circle cx="662.5" cy="801.5" r="8.8" stroke="#f08478" fill="none"/>
<text x="662.8" y="802" fill="#ffffff" stroke="#ffffff" font-size="12" text-anchor="middle" dominant-baseline="central" transform="translate(662.8 802) scale(0.8 1) translate(-662.8 -802)">4</text>
<line x1="742.5" y1="29" x2="742.5" y2="73" stroke="#f08478"/>
<line x1="742.5" y1="73" x2="742.5" y2="107.5" stroke="#00ff00"/>
<line x1="742.5" y1="107.5" x2="742.5" y2="118" stroke="#f08478"/>
<line x1="742.5" y1="118" x2="742.5" y2="704.5" stroke="#cc00aa"/>
<line x1="742.5" y1="704.5" x2="742.5" y2="722" stroke="#f08478"/>
<line x1="742.5" y1="722" x2="742.5" y2="750" stroke="#00ff00"/>
<line x1="742.5" y1="750" x2="742.5" y2="793" stroke="#f08478"/>
<circle cx="742.5" cy="20.8" r="8.8" stroke="#f08478" fill="none"/>
<text x="742.8" y="21.3" fill="#ffffff" stroke="#ffffff" font-size="12" text-anchor="middle" dominant-baseline="central" transform="translate(742.8 21.3) scale(0.8 1) translate(-742.8 -21.3)">5</text>
<circle cx="742.5" cy="801.5" r="8.8" stroke="#f08478" fill="none"/>
<text x="742.8" y="802" fill="#ffffff" stroke="#ffffff" font-size="12" text-anchor="middle" dominant-baseline="central" transform="translate(742.8 802) scale(0.8 1) translate(-742.8 -802)">5</text>
<line x1="52" y1="162.5" x2="141" y2="162.5" stroke="#f08478"/>
<line x1="141" y1="162.5" x2="787" y2="162.5" stroke="#cc00aa"/>
<line x1="96" y1="162.5" x2="125" y2="162.5" stroke="#00ff00"/>
<line x1="787" y1="162.5" x2="876" y2="162.5" stroke="#f08478"/>
<line x1="796" y1="162.5" x2="830" y2="162.5" stroke="#00ff00"/>
<circle cx="43.5" cy="162.5" r="9.2" stroke="#f08478" fill="none"/>
<text x="43.8" y="163" fill="#ffffff" stroke="#ffffff" font-size="12" text-anchor="middle" dominant-baseline="central" transform="translate(43.8 163) scale(0.8 1) translate(-43.8 -163)">D</text>
<circle cx="884.5" cy="162.5" r="9.2" stroke="#f08478" fill="none"/>
<text x="884.8" y="163" fill="#ffffff" stroke="#ffffff" font-size="12" text-anchor="middle" dominant-baseline="central" transform="translate(884.8 163) scale(0.8 1) translate(-884.8 -163)">D</text>
<line x1="52" y1="335.5" x2="104" y2="335.5" stroke="#f08478"/>
<line x1="104" y1="335.5" x2="126" y2="335.5" stroke="#00ff00"/>
<line x1="126" y1="335.5" x2="183" y2="335.5" stroke="#00ffff"/>
<line x1="183" y1="335.5" x2="787" y2="335.5" stroke="#cc00aa"/>
<line x1="787" y1="335.5" x2="876" y2="335.5" stroke="#f08478"/>
<circle cx="43.5" cy="335.5" r="9.2" stroke="#f08478" fill="none"/>
<text x="43.8" y="336" fill="#ffffff" stroke="#ffffff" font-size="12" text-anchor="middle" dominant-baseline="central" transform="translate(43.8 336) scale(0.8 1) translate(-43.8 -336)">C</text>
<circle cx="884.5" cy="335.5" r="9.2" stroke="#f08478" fill="none"/>
<text x="884.8" y="336" fill="#ffffff" stroke="#ffffff" font-size="12" text-anchor="middle" dominant-baseline="central" transform="translate(884.8 336) scale(0.8 1) translate(-884.8 -336)">C</text>
<line x1="52" y1="487.5" x2="104" y2="487.5" stroke="#f08478"/>
<line x1="104" y1="487.5" x2="135" y2="487.5" stroke="#00ff00"/>
<line x1="135" y1="487.5" x2="183" y2="487.5" stroke="#00ffff"/>
<line x1="183" y1="487.5" x2="787" y2="487.5" stroke="#cc00aa"/>
<line x1="787" y1="487.5" x2="876" y2="487.5" stroke="#f08478"/>
<circle cx="43.5" cy="487.5" r="9.2" stroke="#f08478" fill="none"/>
<text x="43.8" y="488" fill="#ffffff" stroke="#ffffff" font-size="12" text-anchor="middle" dominant-baseline="central" transform="translate(43.8 488) scale(0.8 1) translate(-43.8 -488)">B</text>
<circle cx="884.5" cy="487.5" r="9.2" stroke="#f08478" fill="none"/>
<text x="884.8" y="488" fill="#ffffff" stroke="#ffffff" font-size="12" text-anchor="middle" dominant-baseline="central" transform="translate(884.8 488) scale(0.8 1) translate(-884.8 -488)">B</text>
<line x1="52" y1="660.5" x2="141" y2="660.5" stroke="#f08478"/>
<line x1="141" y1="660.5" x2="787" y2="660.5" stroke="#cc00aa"/>
<line x1="96" y1="660.5" x2="125" y2="660.5" stroke="#00ff00"/>
<line x1="787" y1="660.5" x2="876" y2="660.5" stroke="#f08478"/>
<line x1="796" y1="660.5" x2="830" y2="660.5" stroke="#00ff00"/>
<circle cx="43.5" cy="660.5" r="9.2" stroke="#f08478" fill="none"/>
<text x="43.8" y="661" fill="#ffffff" stroke="#ffffff" font-size="12" text-anchor="middle" dominant-baseline="central" transform="translate(43.8 661) scale(0.8 1) translate(-43.8 -661)">A</text>
<circle cx="884.5" cy="660.5" r="9.2" stroke="#f08478" fill="none"/>
<text x="884.8" y="661" fill="#ffffff" stroke="#ffffff" font-size="12" text-anchor="middle" dominant-baseline="central" transform="translate(884.8 661) scale(0.8 1) translate(-884.8 -661)">A</text>
<text x="224" y="154.5" fill="#ff8080" stroke="#ff8080" font-size="6.8" text-anchor="middle" dominant-baseline="central" transform="translate(224 154.5) scale(0.82 1) translate(-224 -154.5)">FC2412</text>
<text x="304" y="154.5" fill="#ff8080" stroke="#ff8080" font-size="6.8" text-anchor="middle" dominant-baseline="central" transform="translate(304 154.5) scale(0.82 1) translate(-304 -154.5)">FC2412</text>
<text x="384" y="154.5" fill="#ff8080" stroke="#ff8080" font-size="6.8" text-anchor="middle" dominant-baseline="central" transform="translate(384 154.5) scale(0.82 1) translate(-384 -154.5)">FC2412</text>
<text x="541" y="154.5" fill="#ff8080" stroke="#ff8080" font-size="6.8" text-anchor="middle" dominant-baseline="central" transform="translate(541 154.5) scale(0.82 1) translate(-541 -154.5)">FC2415</text>
<text x="621" y="154.5" fill="#ff8080" stroke="#ff8080" font-size="6.8" text-anchor="middle" dominant-baseline="central" transform="translate(621 154.5) scale(0.82 1) translate(-621 -154.5)">FC2415</text>
<text x="702" y="154.5" fill="#ff8080" stroke="#ff8080" font-size="6.8" text-anchor="middle" dominant-baseline="central" transform="translate(702 154.5) scale(0.82 1) translate(-702 -154.5)">FC2412</text>
<text x="224" y="668.7" fill="#ff8080" stroke="#ff8080" font-size="6.8" text-anchor="middle" dominant-baseline="central" transform="translate(224 668.7) scale(0.82 1) translate(-224 -668.7)">FC2424</text>
<text x="303" y="668.7" fill="#ff8080" stroke="#ff8080" font-size="6.8" text-anchor="middle" dominant-baseline="central" transform="translate(303 668.7) scale(0.82 1) translate(-303 -668.7)">FC2424</text>
<text x="383" y="668.7" fill="#ff8080" stroke="#ff8080" font-size="6.8" text-anchor="middle" dominant-baseline="central" transform="translate(383 668.7) scale(0.82 1) translate(-383 -668.7)">FC2424</text>
<text x="543" y="668.7" fill="#ff8080" stroke="#ff8080" font-size="6.8" text-anchor="middle" dominant-baseline="central" transform="translate(543 668.7) scale(0.82 1) translate(-543 -668.7)">FC2424</text>
<text x="622" y="668.7" fill="#ff8080" stroke="#ff8080" font-size="6.8" text-anchor="middle" dominant-baseline="central" transform="translate(622 668.7) scale(0.82 1) translate(-622 -668.7)">FC2424</text>
<text x="702" y="668.7" fill="#ff8080" stroke="#ff8080" font-size="6.8" text-anchor="middle" dominant-baseline="central" transform="translate(702 668.7) scale(0.82 1) translate(-702 -668.7)">FC2424</text>
<text x="449" y="651.9" fill="#ff8080" stroke="#ff8080" font-size="6.8" text-anchor="middle" dominant-baseline="central" transform="translate(449 651.9) scale(0.82 1) translate(-449 -651.9)">M1324</text>
<text x="478" y="651.9" fill="#ff8080" stroke="#ff8080" font-size="6.8" text-anchor="middle" dominant-baseline="central" transform="translate(478 651.9) scale(0.82 1) translate(-478 -651.9)">M1324</text>
<text x="462" y="170" fill="#ff8080" stroke="#ff8080" font-size="6.8" text-anchor="middle" dominant-baseline="central" transform="translate(462 170) scale(0.82 1) translate(-462 -170)">FM1322</text>
<text x="192" y="311" fill="#ff8080" stroke="#ff8080" font-size="6.8" text-anchor="middle" dominant-baseline="central" transform="translate(192 311) rotate(-90) scale(0.82 1) translate(-192 -311)">FM1322</text>
<text x="177" y="372" fill="#ff8080" stroke="#ff8080" font-size="6.8" text-anchor="middle" dominant-baseline="central" transform="translate(177 372) rotate(-90) scale(0.82 1) translate(-177 -372)">FC2424</text>
<text x="193" y="451" fill="#ff8080" stroke="#ff8080" font-size="6.8" text-anchor="middle" dominant-baseline="central" transform="translate(193 451) rotate(-90) scale(0.82 1) translate(-193 -451)">FC2424</text>
<text x="191" y="511" fill="#ff8080" stroke="#ff8080" font-size="6.8" text-anchor="middle" dominant-baseline="central" transform="translate(191 511) rotate(-90) scale(0.82 1) translate(-191 -511)">FM1322</text>
<text x="751" y="371" fill="#ff8080" stroke="#ff8080" font-size="6.8" text-anchor="middle" dominant-baseline="central" transform="translate(751 371) rotate(-90) scale(0.82 1) translate(-751 -371)">FC2424</text>
<text x="751" y="453" fill="#ff8080" stroke="#ff8080" font-size="6.8" text-anchor="middle" dominant-baseline="central" transform="translate(751 453) rotate(-90) scale(0.82 1) translate(-751 -453)">FC2424</text>
<text x="657" y="315" fill="#ff8080" stroke="#ff8080" font-size="6.8" text-anchor="middle" dominant-baseline="central" transform="translate(657 315) rotate(-90) scale(0.82 1) translate(-657 -315)">FM1422</text>
<text x="734" y="287" fill="#ff8080" stroke="#ff8080" font-size="6.8" text-anchor="middle" dominant-baseline="central" transform="translate(734 287) rotate(-90) scale(0.82 1) translate(-734 -287)">FM1422</text>
<text x="657" y="516" fill="#ff8080" stroke="#ff8080" font-size="6.8" text-anchor="middle" dominant-baseline="central" transform="translate(657 516) rotate(-90) scale(0.82 1) translate(-657 -516)">FM1422</text>
<text x="734.7" y="532.5" fill="#ff8080" stroke="#ff8080" font-size="6.8" text-anchor="middle" dominant-baseline="central" transform="translate(734.7 532.5) rotate(-90) scale(0.82 1) translate(-734.7 -532.5)">FM1422</text>
<text x="416" y="181" fill="#ff8080" stroke="#ff8080" font-size="6.8" text-anchor="middle" dominant-baseline="central" transform="translate(416 181) rotate(-90) scale(0.82 1) translate(-416 -181)">FM1021</text>
<text x="311" y="316" fill="#ff8080" stroke="#ff8080" font-size="6.8" text-anchor="middle" dominant-baseline="central" transform="translate(311 316) rotate(-90) scale(0.82 1) translate(-311 -316)">M1522</text>
<text x="274" y="279" fill="#ff8080" stroke="#ff8080" font-size="6.8" text-anchor="middle" dominant-baseline="central" transform="translate(274 279) rotate(-90) scale(0.82 1) translate(-274 -279)">M0921a</text>
<text x="219" y="350.5" fill="#ff8080" stroke="#ff8080" font-size="6.8" text-anchor="middle" dominant-baseline="central" transform="translate(219 350.5) rotate(-90) scale(0.82 1) translate(-219 -350.5)">FM1022</text>
<text x="630.5" y="355" fill="#ff8080" stroke="#ff8080" font-size="6.8" text-anchor="middle" dominant-baseline="central" transform="translate(630.5 355) rotate(-90) scale(0.82 1) translate(-630.5 -355)">FM0921</text>
<text x="616" y="458" fill="#ff8080" stroke="#ff8080" font-size="6.8" text-anchor="middle" dominant-baseline="central" transform="translate(616 458) rotate(-90) scale(0.82 1) translate(-616 -458)">M1522</text>
<text x="604" y="286" fill="#ff8080" stroke="#ff8080" font-size="6.8" text-anchor="middle" dominant-baseline="central" transform="translate(604 286) scale(0.82 1) translate(-604 -286)">FM1522</text>
<text x="604" y="534" fill="#ff8080" stroke="#ff8080" font-size="6.8" text-anchor="middle" dominant-baseline="central" transform="translate(604 534) scale(0.82 1) translate(-604 -534)">M1322</text>
<text x="202" y="258" fill="#ff8080" stroke="#ff8080" font-size="6.8" text-anchor="middle" dominant-baseline="central" transform="translate(202 258) scale(0.82 1) translate(-202 -258)">M0921a</text>
<text x="205" y="403" fill="#ff8080" stroke="#ff8080" font-size="6.8" text-anchor="middle" dominant-baseline="central" transform="translate(205 403) scale(0.82 1) translate(-205 -403)">M0821a</text>
<path d="M200.96 206.5L200.96 211.5M200.96 206.8L205.44 206.8M205.44 206.8L205.44 211.5M202.3 208.6L204.1 208.6M202.3 210.1L204.1 210.1M206.56 208.25L211.04 208.25M208.8 206.5L208.8 211.5M207.01 210.4L210.59 210.4" stroke="#ff8080" stroke-width="0.9" fill="none"/>
<path d="M313.08 222.2L313.08 227.2M311.96 224.45L314.2 224.45M314.65 222.7L316.44 222.7M315.54 222.7L315.54 227.2M314.65 224.95L316.44 224.95M318.01 222.6L321.59 222.6M317.56 224.7L322.04 224.7M318.01 226.8L321.59 226.8M319.8 222.6L319.8 226.8" stroke="#ff8080" stroke-width="0.9" fill="none"/>
<path d="M241.08 291.5L241.08 296.5M239.96 293.75L242.2 293.75M242.65 292L244.44 292M243.54 292L243.54 296.5M242.65 294.25L244.44 294.25M246.01 291.9L249.59 291.9M245.56 294L250.04 294M246.01 296.1L249.59 296.1M247.8 291.9L247.8 296.1" stroke="#ff8080" stroke-width="0.9" fill="none"/>
<text x="380" y="226" fill="#ff8080" stroke="#ff8080" font-size="6.8" text-anchor="middle" dominant-baseline="central" transform="translate(380 226) scale(0.82 1) translate(-380 -226)">19.41m²</text>
<path d="M373.15 235.5L373.15 240.5M372.16 237L374.04 237M374.62 236.1L376.64 236.1M374.62 236.1L374.62 239.9M376.64 236.1L376.64 239.9M374.62 239.9L376.64 239.9M374.62 238L376.64 238M377.76 235.75L382.24 235.75M378.21 237L378.21 240.5M381.79 237L381.79 240.5M378.21 237L381.79 237M378.21 240.25L381.79 240.25M379.64 237L379.64 240.25M380.54 237L380.54 240.25M383.36 237.25L387.84 237.25M385.6 235.5L385.6 237.5M385.6 237.5L383.36 240.5M385.6 237.5L387.84 240.5" stroke="#ff8080" stroke-width="0.9" fill="none"/>
<text x="545" y="212" fill="#ff8080" stroke="#ff8080" font-size="6.8" text-anchor="middle" dominant-baseline="central" transform="translate(545 212) scale(0.82 1) translate(-545 -212)">61.29m²</text>
<path d="M516.36 224.25L520.84 224.25M518.6 222.5L518.6 227.5M516.81 226.4L520.39 226.4M523.3 222.5L523.3 227.5M525.19 222.5L525.19 227.5M521.96 224L526.44 224M521.96 226.1L526.44 226.1M528.55 222.5L528.55 227.5M527.56 224L529.44 224M530.02 223.1L532.04 223.1M530.02 223.1L530.02 226.9M532.04 223.1L532.04 226.9M530.02 226.9L532.04 226.9M530.02 225L532.04 225M533.16 222.75L537.64 222.75M533.61 224L533.61 227.5M537.19 224L537.19 227.5M533.61 224L537.19 224M533.61 227.25L537.19 227.25M535.04 224L535.04 227.25M535.94 224L535.94 227.25M538.76 224.25L543.24 224.25M541 222.5L541 224.5M541 224.5L538.76 227.5M541 224.5L543.24 227.5M545.48 222.5L545.48 227.5M544.36 224.75L546.6 224.75M547.05 223L548.84 223M547.94 223L547.94 227.5M547.05 225.25L548.84 225.25M550.41 222.9L553.99 222.9M549.96 225L554.44 225M550.41 227.1L553.99 227.1M552.2 222.9L552.2 227.1M555.56 223L560.04 223M555.56 223L555.56 227.1M560.04 223L560.04 227.1M555.56 227.1L560.04 227.1M555.56 225L560.04 225M561.16 222.5L561.16 227.5M561.16 222.8L565.64 222.8M565.64 222.8L565.64 227.5M562.5 224.6L564.3 224.6M562.5 226.1L564.3 226.1" stroke="#ff8080" stroke-width="0.9" fill="none"/>
<path d="M367 325.25L371.64 325.25M369.32 323.5L369.32 328.5M367.46 327.4L371.18 327.4M374.19 323.5L374.19 328.5M376.14 323.5L376.14 328.5M372.8 325L377.44 325M372.8 327.1L377.44 327.1M379.62 323.5L379.62 328.5M378.6 325L380.55 325M381.15 324.1L383.24 324.1M381.15 324.1L381.15 327.9M383.24 324.1L383.24 327.9M381.15 327.9L383.24 327.9M381.15 326L383.24 326M384.4 323.75L389.04 323.75M384.86 325L384.86 328.5M388.58 325L388.58 328.5M384.86 325L388.58 325M384.86 328.25L388.58 328.25M386.35 325L386.35 328.25M387.28 325L387.28 328.25M390.2 325.25L394.84 325.25M392.52 323.5L392.52 325.5M392.52 325.5L390.2 328.5M392.52 325.5L394.84 328.5M397.16 323.5L397.16 328.5M396 325.75L398.32 325.75M398.78 324L400.64 324M399.71 324L399.71 328.5M398.78 326.25L400.64 326.25M402.26 323.9L405.98 323.9M401.8 326L406.44 326M402.26 328.1L405.98 328.1M404.12 323.9L404.12 328.1" stroke="#ff8080" stroke-width="0.9" fill="none"/>
<text x="441.6" y="326" fill="#ff8080" stroke="#ff8080" font-size="6.8" text-anchor="middle" dominant-baseline="central" transform="translate(441.6 326) scale(0.82 1) translate(-441.6 -326)">270.53m²</text>
<text x="365" y="347" fill="#ff8080" stroke="#ff8080" font-size="6.8" text-anchor="middle" dominant-baseline="central" transform="translate(365 347) scale(0.82 1) translate(-365 -347)">1.5</text>
<path d="M370 344.75L373.92 344.75M370.39 346L370.39 349.5M373.53 346L373.53 349.5M370.39 346L373.53 346M370.39 349.25L373.53 349.25M371.65 346L371.65 349.25M372.43 346L372.43 349.25M374.9 346.25L378.82 346.25M376.86 344.5L376.86 346.5M376.86 346.5L374.9 349.5M376.86 346.5L378.82 349.5M380.78 344.5L380.78 349.5M379.8 346.75L381.76 346.75M382.15 345L383.72 345M382.94 345L382.94 349.5M382.15 347.25L383.72 347.25M385.09 344.9L388.23 344.9M384.7 347L388.62 347M385.09 349.1L388.23 349.1M386.66 344.9L386.66 349.1M389.6 345L393.52 345M389.6 345L389.6 349.1M393.52 345L393.52 349.1M389.6 349.1L393.52 349.1M389.6 347L393.52 347M394.5 344.5L394.5 349.5M394.5 344.8L398.42 344.8M398.42 344.8L398.42 349.5M395.68 346.6L397.24 346.6M395.68 348.1L397.24 348.1M399.4 346.25L403.32 346.25M401.36 344.5L401.36 349.5M399.79 348.4L402.93 348.4M405.48 344.5L405.48 349.5M407.12 344.5L407.12 349.5M404.3 346L408.22 346M404.3 348.1L408.22 348.1" stroke="#ff8080" stroke-width="0.9" fill="none"/>
<text x="418" y="347" fill="#ff8080" stroke="#ff8080" font-size="6.8" text-anchor="middle" dominant-baseline="central" transform="translate(418 347) scale(0.82 1) translate(-418 -347)">6.85m²</text>
<path d="M252.96 376.25L257.44 376.25M255.2 374.5L255.2 376.5M255.2 376.5L252.96 379.5M255.2 376.5L257.44 379.5M259.68 374.5L259.68 379.5M258.56 376.75L260.8 376.75M261.25 375L263.04 375M262.14 375L262.14 379.5M261.25 377.25L263.04 377.25" stroke="#ff8080" stroke-width="0.9" fill="none"/>
<text x="256" y="389" fill="#ff8080" stroke="#ff8080" font-size="6.8" text-anchor="middle" dominant-baseline="central" transform="translate(256 389) scale(0.82 1) translate(-256 -389)">10.24m²</text>
<path d="M240.16 432.5L240.16 437.5M240.16 432.8L244.64 432.8M244.64 432.8L244.64 437.5M241.5 434.6L243.3 434.6M241.5 436.1L243.3 436.1M245.76 434.25L250.24 434.25M248 432.5L248 437.5M246.21 436.4L249.79 436.4M252.7 432.5L252.7 437.5M254.59 432.5L254.59 437.5M251.36 434L255.84 434M251.36 436.1L255.84 436.1" stroke="#ff8080" stroke-width="0.9" fill="none"/>
<text x="248" y="449" fill="#ff8080" stroke="#ff8080" font-size="6.8" text-anchor="middle" dominant-baseline="central" transform="translate(248 449) scale(0.82 1) translate(-248 -449)">16.02m²</text>
<path d="M209.36 504.75L213.84 504.75M209.81 506L209.81 509.5M213.39 506L213.39 509.5M209.81 506L213.39 506M209.81 509.25L213.39 509.25M211.24 506L211.24 509.25M212.14 506L212.14 509.25M214.96 506.25L219.44 506.25M217.2 504.5L217.2 506.5M217.2 506.5L214.96 509.5M217.2 506.5L219.44 509.5M221.68 504.5L221.68 509.5M220.56 506.75L222.8 506.75M223.25 505L225.04 505M224.14 505L224.14 509.5M223.25 507.25L225.04 507.25M226.61 504.9L230.19 504.9M226.16 507L230.64 507M226.61 509.1L230.19 509.1M228.4 504.9L228.4 509.1" stroke="#ff8080" stroke-width="0.9" fill="none"/>
<path d="M597.88 409.5L597.88 414.5M596.76 411.75L599 411.75M599.45 410L601.24 410M600.34 410L600.34 414.5M599.45 412.25L601.24 412.25" stroke="#ff8080" stroke-width="0.9" fill="none"/>
<path d="M640.76 354.75L645.24 354.75M641.21 356L641.21 359.5M644.79 356L644.79 359.5M641.21 356L644.79 356M641.21 359.25L644.79 359.25M642.64 356L642.64 359.25M643.54 356L643.54 359.25" stroke="#ff8080" stroke-width="0.9" fill="none"/>
<path d="M673.08 367.5L673.08 372.5M671.96 369.75L674.2 369.75M674.65 368L676.44 368M675.54 368L675.54 372.5M674.65 370.25L676.44 370.25M678.01 367.9L681.59 367.9M677.56 370L682.04 370M678.01 372.1L681.59 372.1M679.8 367.9L679.8 372.1" stroke="#ff8080" stroke-width="0.9" fill="none"/>
<text x="677" y="383" fill="#ff8080" stroke="#ff8080" font-size="6.8" text-anchor="middle" dominant-baseline="central" transform="translate(677 383) scale(0.82 1) translate(-677 -383)">39.76m²</text>
<path d="M589.16 572.75L593.64 572.75M591.4 571L591.4 573M591.4 573L589.16 576M591.4 573L593.64 576M595.88 571L595.88 576M594.76 573.25L597 573.25M597.45 571.5L599.24 571.5M598.34 571.5L598.34 576M597.45 573.75L599.24 573.75M600.81 571.4L604.39 571.4M600.36 573.5L604.84 573.5M600.81 575.6L604.39 575.6M602.6 571.4L602.6 575.6" stroke="#ff8080" stroke-width="0.9" fill="none"/>
<text x="596" y="584" fill="#ff8080" stroke="#ff8080" font-size="6.8" text-anchor="middle" dominant-baseline="central" transform="translate(596 584) scale(0.82 1) translate(-596 -584)">17.64m²</text>
<path d="M560.36 695.75L564.84 695.75M560.81 697L560.81 700.5M564.39 697L564.39 700.5M560.81 697L564.39 697M560.81 700.25L564.39 700.25M562.24 697L562.24 700.25M563.14 697L563.14 700.25M565.96 697.25L570.44 697.25M568.2 695.5L568.2 697.5M568.2 697.5L565.96 700.5M568.2 697.5L570.44 700.5M572.68 695.5L572.68 700.5M571.56 697.75L573.8 697.75M574.25 696L576.04 696M575.14 696L575.14 700.5M574.25 698.25L576.04 698.25M577.61 695.9L581.19 695.9M577.16 698L581.64 698M577.61 700.1L581.19 700.1M579.4 695.9L579.4 700.1" stroke="#ff8080" stroke-width="0.9" fill="none"/>
<text x="219" y="230" fill="#ffffff" stroke="#ffffff" font-size="8.3" text-anchor="middle" dominant-baseline="central" transform="translate(219 230) scale(0.83 1) translate(-219 -230)">420</text>
<text x="240" y="471" fill="#ffffff" stroke="#ffffff" font-size="8" text-anchor="middle" dominant-baseline="central" transform="translate(240 471) scale(0.9 1) translate(-240 -471)">5250</text>
<text x="642" y="404" fill="#ffffff" stroke="#ffffff" font-size="7.5" text-anchor="middle" dominant-baseline="central" transform="translate(642 404) scale(0.9 1) translate(-642 -404)">1600</text>
<text x="668" y="402" fill="#ffffff" stroke="#ffffff" font-size="7.5" text-anchor="middle" dominant-baseline="central" transform="translate(668 402) scale(0.9 1) translate(-668 -402)">100</text>
<line x1="625.5" y1="408.5" x2="661" y2="408.5" stroke="#00ff00"/>
<line x1="661.5" y1="399" x2="661.5" y2="418" stroke="#00ff00"/>
<text x="658" y="264" fill="#ffffff" stroke="#ffffff" font-size="7.5" text-anchor="middle" dominant-baseline="central" transform="translate(658 264) scale(0.9 1) translate(-658 -264)">600</text>
<text x="660" y="285" fill="#ffffff" stroke="#ffffff" font-size="7.5" text-anchor="middle" dominant-baseline="central" transform="translate(660 285) rotate(-90) scale(0.9 1) translate(-660 -285)">1000</text>
<line x1="647" y1="266.5" x2="670" y2="266.5" stroke="#00ff00"/>
<line x1="647" y1="293.5" x2="670" y2="293.5" stroke="#00ff00"/>
<text x="311" y="222" fill="#ffffff" stroke="#ffffff" font-size="7" text-anchor="middle" dominant-baseline="central"></text>
<path d="M193.32 274.25L193.32 280.75M195.17 274.25L195.17 280.75M192 276.2L196.4 276.2M192 278.93L196.4 278.93M198.47 274.25L198.47 280.75M197.5 276.2L199.35 276.2M199.92 275.03L201.9 275.03M199.92 275.03L199.92 279.97M201.9 275.03L201.9 279.97M199.92 279.97L201.9 279.97M199.92 277.5L201.9 277.5M203 274.57L207.4 274.57M203.44 276.2L203.44 280.75M206.96 276.2L206.96 280.75M203.44 276.2L206.96 276.2M203.44 280.43L206.96 280.43M204.85 276.2L204.85 280.43M205.73 276.2L205.73 280.43M208.5 276.52L212.9 276.52M210.7 274.25L210.7 276.85M210.7 276.85L208.5 280.75M210.7 276.85L212.9 280.75" stroke="#ffffff" stroke-width="0.9" fill="none"/>
<text x="214.5" y="278.5" fill="#ffffff" stroke="#ffffff" font-size="8" text-anchor="middle" dominant-baseline="central">,</text>
<text x="217" y="277.5" fill="#ffffff" stroke="#ffffff" font-size="8.5" text-anchor="start" dominant-baseline="central" transform="translate(217 277.5) scale(0.8 1) translate(-217 -277.5)">1:10</text>
<line x1="193" y1="283.5" x2="290" y2="283.5" stroke="#00ff00"/>
<line x1="290" y1="283.5" x2="305" y2="282.5" stroke="#00ff00"/>
<line x1="206" y1="254" x2="245" y2="283" stroke="#00ff00"/>
<path d="M369.18 178L369.18 184M368 179.8L370.26 179.8M370.96 178.72L373.38 178.72M370.96 178.72L370.96 183.28M373.38 178.72L373.38 183.28M370.96 183.28L373.38 183.28M370.96 181L373.38 181M374.72 178.3L380.1 178.3M375.26 179.8L375.26 184M379.56 179.8L379.56 184M375.26 179.8L379.56 179.8M375.26 183.7L379.56 183.7M376.98 179.8L376.98 183.7M378.05 179.8L378.05 183.7M381.44 180.1L386.82 180.1M384.13 178L384.13 180.4M384.13 180.4L381.44 184M384.13 180.4L386.82 184M389.5 178L389.5 184M388.16 180.7L390.85 180.7M391.39 178.6L393.54 178.6M392.46 178.6L392.46 184M391.39 181.3L393.54 181.3" stroke="#ffffff" stroke-width="0.9" fill="none"/>
<line x1="352" y1="204" x2="367" y2="187.5" stroke="#00ff00"/>
<line x1="367" y1="187.5" x2="393" y2="187.5" stroke="#00ff00"/>
<path d="M614.77 112L614.77 118M613.59 113.8L615.85 113.8M616.55 112.72L618.97 112.72M616.55 112.72L616.55 117.28M618.97 112.72L618.97 117.28M616.55 117.28L618.97 117.28M616.55 115L618.97 115M620.31 112.3L625.69 112.3M620.85 113.8L620.85 118M625.15 113.8L625.15 118M620.85 113.8L625.15 113.8M620.85 117.7L625.15 117.7M622.57 113.8L622.57 117.7M623.65 113.8L623.65 117.7M627.03 114.1L632.41 114.1M629.72 112L629.72 114.4M629.72 114.4L627.03 118M629.72 114.4L632.41 118" stroke="#ffffff" stroke-width="0.9" fill="none"/>
<path d="M575.05 123L575.05 129M573.87 124.8L576.13 124.8M576.83 123.72L579.25 123.72M576.83 123.72L576.83 128.28M579.25 123.72L579.25 128.28M576.83 128.28L579.25 128.28M576.83 126L579.25 126M580.59 123.3L585.97 123.3M581.13 124.8L581.13 129M585.43 124.8L585.43 129M581.13 124.8L585.43 124.8M581.13 128.7L585.43 128.7M582.85 124.8L582.85 128.7M583.93 124.8L583.93 128.7M587.31 125.1L592.69 125.1M590 123L590 125.4M590 125.4L587.31 129M590 125.4L592.69 129M595.38 123L595.38 129M594.03 125.7L596.72 125.7M597.26 123.6L599.41 123.6M598.33 123.6L598.33 129M597.26 126.3L599.41 126.3M601.29 123.48L605.59 123.48M600.75 126L606.13 126M601.29 128.52L605.59 128.52M603.44 123.48L603.44 128.52" stroke="#ffffff" stroke-width="0.9" fill="none"/>
<text x="607" y="126" fill="#ffffff" stroke="#ffffff" font-size="7" text-anchor="middle" dominant-baseline="central">:</text>
<text x="622" y="126" fill="#ffffff" stroke="#ffffff" font-size="8" text-anchor="middle" dominant-baseline="central" transform="translate(622 126) scale(0.9 1) translate(-622 -126)">7.20m²</text>
<path d="M608.41 228L608.41 234M607.23 229.8L609.49 229.8M610.19 228.72L612.61 228.72M610.19 228.72L610.19 233.28M612.61 228.72L612.61 233.28M610.19 233.28L612.61 233.28M610.19 231L612.61 231M613.95 228.3L619.33 228.3M614.49 229.8L614.49 234M618.79 229.8L618.79 234M614.49 229.8L618.79 229.8M614.49 233.7L618.79 233.7M616.21 229.8L616.21 233.7M617.29 229.8L617.29 233.7M620.67 230.1L626.05 230.1M623.36 228L623.36 230.4M623.36 230.4L620.67 234M623.36 230.4L626.05 234M628.74 228L628.74 234M627.39 230.7L630.08 230.7M630.62 228.6L632.77 228.6M631.69 228.6L631.69 234M630.62 231.3L632.77 231.3" stroke="#ffffff" stroke-width="0.9" fill="none"/>
<line x1="603" y1="236.5" x2="634" y2="236.5" stroke="#00ff00"/>
<line x1="634" y1="236.5" x2="648" y2="265" stroke="#00ff00"/>
<polygon points="191.5,219.5 197.5,226 203.5,219.5" stroke="#c080ff" fill="none"/>
<line x1="191.5" y1="219.5" x2="226.5" y2="219.5" stroke="#c080ff"/>
<text x="214.5" y="215.5" fill="#ffffff" stroke="#ffffff" font-size="8.5" text-anchor="middle" dominant-baseline="central" transform="translate(214.5 215.5) scale(0.85 1) translate(-214.5 -215.5)">-0.15</text>
<polygon points="300,240.2 306,246.7 312,240.2" stroke="#c080ff" fill="none"/>
<line x1="300" y1="240.2" x2="335" y2="240.2" stroke="#c080ff"/>
<text x="323" y="236.2" fill="#ffffff" stroke="#ffffff" font-size="8.5" text-anchor="middle" dominant-baseline="central" transform="translate(323 236.2) scale(0.85 1) translate(-323 -236.2)">-0.15</text>
<polygon points="231,310.3 237,316.8 243,310.3" stroke="#c080ff" fill="none"/>
<line x1="231" y1="310.3" x2="266" y2="310.3" stroke="#c080ff"/>
<text x="254" y="306.3" fill="#ffffff" stroke="#ffffff" font-size="8.5" text-anchor="middle" dominant-baseline="central" transform="translate(254 306.3) scale(0.85 1) translate(-254 -306.3)">±0.000</text>
<polygon points="366.4,251.7 372.4,258.2 378.4,251.7" stroke="#c080ff" fill="none"/>
<line x1="366.4" y1="251.7" x2="401.4" y2="251.7" stroke="#c080ff"/>
<text x="389.4" y="247.7" fill="#ffffff" stroke="#ffffff" font-size="8.5" text-anchor="middle" dominant-baseline="central" transform="translate(389.4 247.7) scale(0.85 1) translate(-389.4 -247.7)">±0.000</text>
<polygon points="526,238.6 532,245.1 538,238.6" stroke="#c080ff" fill="none"/>
<line x1="526" y1="238.6" x2="561" y2="238.6" stroke="#c080ff"/>
<text x="549" y="234.6" fill="#ffffff" stroke="#ffffff" font-size="8.5" text-anchor="middle" dominant-baseline="central" transform="translate(549 234.6) scale(0.85 1) translate(-549 -234.6)">-0.05</text>
<polygon points="380,309.7 386,316.2 392,309.7" stroke="#c080ff" fill="none"/>
<line x1="380" y1="309.7" x2="415" y2="309.7" stroke="#c080ff"/>
<text x="403" y="305.7" fill="#ffffff" stroke="#ffffff" font-size="8.5" text-anchor="middle" dominant-baseline="central" transform="translate(403 305.7) scale(0.85 1) translate(-403 -305.7)">±0.000</text>
<polygon points="687.3,310.7 693.3,317.2 699.3,310.7" stroke="#c080ff" fill="none"/>
<line x1="687.3" y1="310.7" x2="722.3" y2="310.7" stroke="#c080ff"/>
<text x="710.3" y="306.7" fill="#ffffff" stroke="#ffffff" font-size="8.5" text-anchor="middle" dominant-baseline="central" transform="translate(710.3 306.7) scale(0.85 1) translate(-710.3 -306.7)">±0.000</text>
<polygon points="691,502.1 697,508.6 703,502.1" stroke="#c080ff" fill="none"/>
<line x1="691" y1="502.1" x2="726" y2="502.1" stroke="#c080ff"/>
<text x="714" y="498.1" fill="#ffffff" stroke="#ffffff" font-size="8.5" text-anchor="middle" dominant-baseline="central" transform="translate(714 498.1) scale(0.85 1) translate(-714 -498.1)">±0.000</text>
<polygon points="557,712.2 563,718.7 569,712.2" stroke="#c080ff" fill="none"/>
<line x1="557" y1="712.2" x2="592" y2="712.2" stroke="#c080ff"/>
<text x="580" y="708.2" fill="#ffffff" stroke="#ffffff" font-size="8.5" text-anchor="middle" dominant-baseline="central" transform="translate(580 708.2) scale(0.85 1) translate(-580 -708.2)">-0.3</text>
<path d="M683.51 517.1L688.89 517.1M686.2 515L686.2 521M684.05 519.68L688.35 519.68M691.84 515L691.84 521M694.1 515L694.1 521M690.23 516.8L695.61 516.8M690.23 519.32L695.61 519.32M698.13 515L698.13 521M696.95 516.8L699.21 516.8M699.91 515.72L702.33 515.72M699.91 515.72L699.91 520.28M702.33 515.72L702.33 520.28M699.91 520.28L702.33 520.28M699.91 518L702.33 518M703.67 515.3L709.05 515.3M704.21 516.8L704.21 521M708.51 516.8L708.51 521M704.21 516.8L708.51 516.8M704.21 520.7L708.51 520.7M705.93 516.8L705.93 520.7M707.01 516.8L707.01 520.7M710.39 517.1L715.77 517.1M713.08 515L713.08 517.4M713.08 517.4L710.39 521M713.08 517.4L715.77 521M718.46 515L718.46 521M717.11 517.7L719.8 517.7M720.34 515.6L722.49 515.6M721.41 515.6L721.41 521M720.34 518.3L722.49 518.3" stroke="#ffffff" stroke-width="0.9" fill="none"/>
<line x1="692" y1="523.5" x2="692" y2="548" stroke="#00ff00"/>
<line x1="692" y1="523.5" x2="725" y2="523.5" stroke="#00ff00"/>
<path d="M329.87 638.9L335.25 638.9M332.56 636.8L332.56 642.8M330.41 641.48L334.71 641.48M338.2 636.8L338.2 642.8M340.46 636.8L340.46 642.8M336.59 638.6L341.97 638.6M336.59 641.12L341.97 641.12M344.49 636.8L344.49 642.8M343.31 638.6L345.57 638.6M346.27 637.52L348.69 637.52M346.27 637.52L346.27 642.08M348.69 637.52L348.69 642.08M346.27 642.08L348.69 642.08M346.27 639.8L348.69 639.8M350.03 637.1L355.41 637.1M350.57 638.6L350.57 642.8M354.87 638.6L354.87 642.8M350.57 638.6L354.87 638.6M350.57 642.5L354.87 642.5M352.29 638.6L352.29 642.5M353.37 638.6L353.37 642.5M356.75 638.9L362.13 638.9M359.44 636.8L359.44 639.2M359.44 639.2L356.75 642.8M359.44 639.2L362.13 642.8" stroke="#ffffff" stroke-width="0.9" fill="none"/>
<polyline points="328.5,680 328.5,646 359,646" stroke="#00ff00" fill="none"/>
<path d="M601.87 636.3L607.25 636.3M604.56 634.2L604.56 636.6M604.56 636.6L601.87 640.2M604.56 636.6L607.25 640.2M609.94 634.2L609.94 640.2M608.59 636.9L611.28 636.9M611.82 634.8L613.97 634.8M612.89 634.8L612.89 640.2M611.82 637.5L613.97 637.5M615.85 634.68L620.15 634.68M615.31 637.2L620.69 637.2M615.85 639.72L620.15 639.72M618 634.68L618 639.72M622.03 634.8L627.41 634.8M622.03 634.8L622.03 639.72M627.41 634.8L627.41 639.72M622.03 639.72L627.41 639.72M622.03 637.2L627.41 637.2M628.75 634.2L628.75 640.2M628.75 634.56L634.13 634.56M634.13 634.56L634.13 640.2M630.36 636.72L632.52 636.72M630.36 638.52L632.52 638.52" stroke="#ffffff" stroke-width="0.9" fill="none"/>
<polyline points="600,656.5 600,642.5 631.7,642.5" stroke="#00ff00" fill="none"/>
<rect x="410.5" y="662" width="11.5" height="9.5" stroke="#00ff00" fill="none"/>
<path d="M759.12 194L759.12 200M758 196.7L760.24 196.7M760.69 194.6L762.48 194.6M761.58 194.6L761.58 200M760.69 197.3L762.48 197.3M764.05 194.48L767.63 194.48M763.6 197L768.08 197M764.05 199.52L767.63 199.52M765.84 194.48L765.84 199.52" stroke="#ffffff" stroke-width="0.9" fill="none"/>
<text x="771" y="197" fill="#ffffff" stroke="#ffffff" font-size="7" text-anchor="middle" dominant-baseline="central">(</text>
<path d="M773 194L773 200M773 194.36L777.48 194.36M777.48 194.36L777.48 200M774.34 196.52L776.14 196.52M774.34 198.32L776.14 198.32M778.6 196.1L783.08 196.1M780.84 194L780.84 200M779.05 198.68L782.63 198.68" stroke="#ffffff" stroke-width="0.9" fill="none"/>
<text x="786" y="197" fill="#ffffff" stroke="#ffffff" font-size="7" text-anchor="middle" dominant-baseline="central">)</text>
<path d="M751.45 210.48L755.03 210.48M751 213L755.48 213M751.45 215.52L755.03 215.52M753.24 210.48L753.24 215.52M756.6 210.6L761.08 210.6M756.6 210.6L756.6 215.52M761.08 210.6L761.08 215.52M756.6 215.52L761.08 215.52M756.6 213L761.08 213M762.2 210L762.2 216M762.2 210.36L766.68 210.36M766.68 210.36L766.68 216M763.54 212.52L765.34 212.52M763.54 214.32L765.34 214.32" stroke="#ffffff" stroke-width="0.9" fill="none"/>
<text x="768" y="213" fill="#ffffff" stroke="#ffffff" font-size="8" text-anchor="start" dominant-baseline="central" transform="translate(768 213) scale(0.78 1) translate(-768 -213)">18J812</text>
<circle cx="799.5" cy="205" r="11" stroke="#00ff00" fill="none"/>
<line x1="755.5" y1="205" x2="788.5" y2="205" stroke="#00ff00"/>
<line x1="788.5" y1="205" x2="810.5" y2="205" stroke="#00ff00"/>
<text x="799.5" y="199.5" fill="#ffffff" stroke="#ffffff" font-size="8" text-anchor="middle" dominant-baseline="central" transform="translate(799.5 199.5) scale(0.85 1) translate(-799.5 -199.5)">4</text>
<text x="799.5" y="210.5" fill="#ffffff" stroke="#ffffff" font-size="8" text-anchor="middle" dominant-baseline="central" transform="translate(799.5 210.5) scale(0.85 1) translate(-799.5 -210.5)">10</text>
<polyline points="755.5,205 755.5,264.6" stroke="#00ff00" fill="none"/>
<circle cx="115.9" cy="461.8" r="10.7" stroke="#00ff00" fill="none"/>
<line x1="105" y1="461.8" x2="169.5" y2="461.8" stroke="#00ff00"/>
<line x1="169.5" y1="461.8" x2="165" y2="430" stroke="#00ff00"/>
<text x="115.9" y="456.5" fill="#ffffff" stroke="#ffffff" font-size="7" text-anchor="middle" dominant-baseline="central">8</text>
<text x="115.9" y="467.5" fill="#ffffff" stroke="#ffffff" font-size="7" text-anchor="middle" dominant-baseline="central">8</text>
<path d="M129.12 451.25L129.12 457.75M128 454.18L130.24 454.18M130.69 451.9L132.48 451.9M131.58 451.9L131.58 457.75M130.69 454.82L132.48 454.82M134.05 451.77L137.63 451.77M133.6 454.5L138.08 454.5M134.05 457.23L137.63 457.23M135.84 451.77L135.84 457.23" stroke="#ffffff" stroke-width="0.9" fill="none"/>
<text x="139.5" y="454.5" fill="#ffffff" stroke="#ffffff" font-size="8" text-anchor="start" dominant-baseline="central" transform="translate(139.5 454.5) scale(0.75 1) translate(-139.5 -454.5)">18J812</text>
<text x="160.5" y="454.5" fill="#ffffff" stroke="#ffffff" font-size="7" text-anchor="middle" dominant-baseline="central">(</text>
<path d="M163 451.57L167.48 451.57M163.45 453.2L163.45 457.75M167.03 453.2L167.03 457.75M163.45 453.2L167.03 453.2M163.45 457.43L167.03 457.43M164.88 453.2L164.88 457.43M165.78 453.2L165.78 457.43M168.6 453.52L173.08 453.52M170.84 451.25L170.84 453.85M170.84 453.85L168.6 457.75M170.84 453.85L173.08 457.75" stroke="#ffffff" stroke-width="0.9" fill="none"/>
<text x="176.5" y="454.5" fill="#ffffff" stroke="#ffffff" font-size="7" text-anchor="middle" dominant-baseline="central">)</text>
<path d="M128.9 465.75L128.9 472.25M128 467.7L129.71 467.7M130.24 466.53L132.08 466.53M130.24 466.53L130.24 471.47M132.08 466.53L132.08 471.47M130.24 471.47L132.08 471.47M130.24 469L132.08 469M133.1 466.07L137.18 466.07M133.51 467.7L133.51 472.25M136.77 467.7L136.77 472.25M133.51 467.7L136.77 467.7M133.51 471.93L136.77 471.93M134.81 467.7L134.81 471.93M135.63 467.7L135.63 471.93M138.2 468.02L142.28 468.02M140.24 465.75L140.24 468.35M140.24 468.35L138.2 472.25M140.24 468.35L142.28 472.25M144.32 465.75L144.32 472.25M143.3 468.68L145.34 468.68M145.75 466.4L147.38 466.4M146.56 466.4L146.56 472.25M145.75 469.32L147.38 469.32M148.81 466.27L152.07 466.27M148.4 469L152.48 469M148.81 471.73L152.07 471.73M150.44 466.27L150.44 471.73M153.5 466.4L157.58 466.4M153.5 466.4L153.5 471.73M157.58 466.4L157.58 471.73M153.5 471.73L157.58 471.73M153.5 469L157.58 469M158.6 465.75L158.6 472.25M158.6 466.14L162.68 466.14M162.68 466.14L162.68 472.25M159.82 468.48L161.46 468.48M159.82 470.43L161.46 470.43M163.7 468.02L167.78 468.02M165.74 465.75L165.74 472.25M164.11 470.82L167.37 470.82M170.02 465.75L170.02 472.25M171.74 465.75L171.74 472.25M168.8 467.7L172.88 467.7M168.8 470.43L172.88 470.43" stroke="#ffffff" stroke-width="0.9" fill="none"/>
<circle cx="215.5" cy="716.5" r="10.5" stroke="#00ff00" fill="none"/>
<line x1="205" y1="716.5" x2="226" y2="716.5" stroke="#00ff00"/>
<polyline points="226,715.5 271.7,715.5 305,700.2" stroke="#00ff00" fill="none"/>
<rect x="304.5" y="697.5" width="4" height="4" stroke="#00ff00" fill="none"/>
<text x="215.5" y="711" fill="#ffffff" stroke="#ffffff" font-size="7" text-anchor="middle" dominant-baseline="central">8</text>
<text x="215.5" y="722" fill="#ffffff" stroke="#ffffff" font-size="7" text-anchor="middle" dominant-baseline="central">8</text>
<path d="M228 705.9L232.48 705.9M228 705.9L228 711.23M232.48 705.9L232.48 711.23M228 711.23L232.48 711.23M228 708.5L232.48 708.5M233.6 705.25L233.6 711.75M233.6 705.64L238.08 705.64M238.08 705.64L238.08 711.75M234.94 707.98L236.74 707.98M234.94 709.93L236.74 709.93" stroke="#ffffff" stroke-width="0.9" fill="none"/>
<text x="239.5" y="708.5" fill="#ffffff" stroke="#ffffff" font-size="8" text-anchor="start" dominant-baseline="central" transform="translate(239.5 708.5) scale(0.75 1) translate(-239.5 -708.5)">18J812</text>
<text x="260.5" y="708.5" fill="#ffffff" stroke="#ffffff" font-size="7" text-anchor="middle" dominant-baseline="central">(</text>
<path d="M264.12 705.25L264.12 711.75M263 708.17L265.24 708.17M265.69 705.9L267.48 705.9M266.58 705.9L266.58 711.75M265.69 708.83L267.48 708.83M269.05 705.77L272.63 705.77M268.6 708.5L273.08 708.5M269.05 711.23L272.63 711.23M270.84 705.77L270.84 711.23" stroke="#ffffff" stroke-width="0.9" fill="none"/>
<text x="276.5" y="708.5" fill="#ffffff" stroke="#ffffff" font-size="7" text-anchor="middle" dominant-baseline="central">)</text>
<path d="M228 722.02L232.08 722.02M230.04 719.75L230.04 722.35M230.04 722.35L228 726.25M230.04 722.35L232.08 726.25M234.12 719.75L234.12 726.25M233.1 722.67L235.14 722.67M235.55 720.4L237.18 720.4M236.36 720.4L236.36 726.25M235.55 723.33L237.18 723.33M238.61 720.27L241.87 720.27M238.2 723L242.28 723M238.61 725.73L241.87 725.73M240.24 720.27L240.24 725.73M243.3 720.4L247.38 720.4M243.3 720.4L243.3 725.73M247.38 720.4L247.38 725.73M243.3 725.73L247.38 725.73M243.3 723L247.38 723M248.4 719.75L248.4 726.25M248.4 720.14L252.48 720.14M252.48 720.14L252.48 726.25M249.62 722.48L251.26 722.48M249.62 724.43L251.26 724.43M253.5 722.02L257.58 722.02M255.54 719.75L255.54 726.25M253.91 724.82L257.17 724.82M259.82 719.75L259.82 726.25M261.54 719.75L261.54 726.25M258.6 721.7L262.68 721.7M258.6 724.43L262.68 724.43M264.6 719.75L264.6 726.25M263.7 721.7L265.41 721.7M265.94 720.53L267.78 720.53M265.94 720.53L265.94 725.47M267.78 720.53L267.78 725.47M265.94 725.47L267.78 725.47M265.94 723L267.78 723M268.8 720.08L272.88 720.08M269.21 721.7L269.21 726.25M272.47 721.7L272.47 726.25M269.21 721.7L272.47 721.7M269.21 725.92L272.47 725.92M270.51 721.7L270.51 725.92M271.33 721.7L271.33 725.92" stroke="#ffffff" stroke-width="0.9" fill="none"/>
<path d="M827 735.15L827 743.65M827 735.66L833 735.66M833 735.66L833 743.65M828.8 738.72L831.2 738.72M828.8 741.27L831.2 741.27M834.5 738.12L840.5 738.12M837.5 735.15L837.5 743.65M835.1 741.78L839.9 741.78M843.8 735.15L843.8 743.65M846.32 735.15L846.32 743.65M842 737.7L848 737.7M842 741.27L848 741.27M850.82 735.15L850.82 743.65M849.5 737.7L852.02 737.7M852.8 736.17L855.5 736.17M852.8 736.17L852.8 742.63M855.5 736.17L855.5 742.63M852.8 742.63L855.5 742.63M852.8 739.4L855.5 739.4M857 735.57L863 735.57M857.6 737.7L857.6 743.65M862.4 737.7L862.4 743.65M857.6 737.7L862.4 737.7M857.6 743.23L862.4 743.23M859.52 737.7L859.52 743.23M860.72 737.7L860.72 743.23" stroke="#ffffff" stroke-width="1.1" fill="none"/>
<text x="882" y="741" fill="#ffffff" stroke="#ffffff" font-size="8.5" text-anchor="middle" dominant-baseline="central" transform="translate(882 741) scale(0.8 1) translate(-882 -741)">1:100</text>
<line x1="827" y1="753" x2="865" y2="753" stroke="#00ff00" stroke-width="1.5"/>
<path d="M801.12 763.15L801.12 769.65M800 766.07L802.24 766.07M802.69 763.8L804.48 763.8M803.58 763.8L803.58 769.65M802.69 766.73L804.48 766.73M806.05 763.67L809.63 763.67M805.6 766.4L810.08 766.4M806.05 769.13L809.63 769.13M807.84 763.67L807.84 769.13M811.2 763.8L815.68 763.8M811.2 763.8L811.2 769.13M815.68 763.8L815.68 769.13M811.2 769.13L815.68 769.13M811.2 766.4L815.68 766.4M816.8 763.15L816.8 769.65M816.8 763.54L821.28 763.54M821.28 763.54L821.28 769.65M818.14 765.88L819.94 765.88M818.14 767.83L819.94 767.83M822.4 765.42L826.88 765.42M824.64 763.15L824.64 769.65M822.85 768.22L826.43 768.22M829.34 763.15L829.34 769.65M831.23 763.15L831.23 769.65M828 765.1L832.48 765.1M828 767.83L832.48 767.83" stroke="#ffffff" stroke-width="0.9" fill="none"/>
<text x="834" y="766.4" fill="#ffffff" stroke="#ffffff" font-size="7" text-anchor="middle" dominant-baseline="central">:</text>
<text x="837" y="766.4" fill="#ffffff" stroke="#ffffff" font-size="9" text-anchor="start" dominant-baseline="central" transform="translate(837 766.4) scale(0.8 1) translate(-837 -766.4)">592.42m²</text>
<path d="M801.12 775.85L801.12 782.35M800 778.77L802.24 778.77M802.69 776.5L804.48 776.5M803.58 776.5L803.58 782.35M802.69 779.43L804.48 779.43M806.05 776.37L809.63 776.37M805.6 779.1L810.08 779.1M806.05 781.83L809.63 781.83M807.84 776.37L807.84 781.83M811.2 776.5L815.68 776.5M811.2 776.5L811.2 781.83M815.68 776.5L815.68 781.83M811.2 781.83L815.68 781.83M811.2 779.1L815.68 779.1M816.8 775.85L816.8 782.35M816.8 776.24L821.28 776.24M821.28 776.24L821.28 782.35M818.14 778.58L819.94 778.58M818.14 780.53L819.94 780.53M822.4 778.12L826.88 778.12M824.64 775.85L824.64 782.35M822.85 780.92L826.43 780.92M829.34 775.85L829.34 782.35M831.23 775.85L831.23 782.35M828 777.8L832.48 777.8M828 780.53L832.48 780.53" stroke="#ffffff" stroke-width="0.9" fill="none"/>
<text x="834" y="779.1" fill="#ffffff" stroke="#ffffff" font-size="7" text-anchor="middle" dominant-baseline="central">:</text>
<text x="837" y="779.1" fill="#ffffff" stroke="#ffffff" font-size="9" text-anchor="start" dominant-baseline="central" transform="translate(837 779.1) scale(0.8 1) translate(-837 -779.1)">584.50m²</text>
<path d="M802.34 788.85L802.34 795.35M804.23 788.85L804.23 795.35M801 790.8L805.48 790.8M801 793.53L805.48 793.53M807.59 788.85L807.59 795.35M806.6 790.8L808.48 790.8M809.06 789.63L811.08 789.63M809.06 789.63L809.06 794.57M811.08 789.63L811.08 794.57M809.06 794.57L811.08 794.57M809.06 792.1L811.08 792.1M812.2 789.18L816.68 789.18M812.65 790.8L812.65 795.35M816.23 790.8L816.23 795.35M812.65 790.8L816.23 790.8M812.65 795.02L816.23 795.02M814.08 790.8L814.08 795.02M814.98 790.8L814.98 795.02M817.8 791.12L822.28 791.12M820.04 788.85L820.04 791.45M820.04 791.45L817.8 795.35M820.04 791.45L822.28 795.35M824.52 788.85L824.52 795.35M823.4 791.77L825.64 791.77M826.09 789.5L827.88 789.5M826.98 789.5L826.98 795.35M826.09 792.43L827.88 792.43" stroke="#ffffff" stroke-width="0.9" fill="none"/>
<text x="829" y="792.1" fill="#ffffff" stroke="#ffffff" font-size="7" text-anchor="middle" dominant-baseline="central">:</text>
<text x="832" y="792.1" fill="#ffffff" stroke="#ffffff" font-size="9" text-anchor="start" dominant-baseline="central" transform="translate(832 792.1) scale(0.8 1) translate(-832 -792.1)">2131.59m²</text>
<circle cx="926.9" cy="64.7" r="26.6" stroke="#00ff00" fill="none" stroke-width="1.3"/>
<line x1="901.6" y1="58.7" x2="953.5" y2="66.4" stroke="#00ff00" stroke-width="1.3"/>
<line x1="901.6" y1="58.7" x2="950.5" y2="74.6" stroke="#00ff00" stroke-width="1.3"/>
<path d="M2.77 772L2.77 776M2 773.2L3.47 773.2M3.93 772.48L5.5 772.48M3.93 772.48L3.93 775.52M5.5 772.48L5.5 775.52M3.93 775.52L5.5 775.52M3.93 774L5.5 774M6.38 772.2L9.88 772.2M6.73 773.2L6.73 776M9.53 773.2L9.53 776M6.73 773.2L9.53 773.2M6.73 775.8L9.53 775.8M7.85 773.2L7.85 775.8M8.55 773.2L8.55 775.8M10.76 773.4L14.26 773.4M12.51 772L12.51 773.6M12.51 773.6L10.76 776M12.51 773.6L14.26 776" stroke="#ffffff" stroke-width="0.9" fill="none"/>
<path d="M0 779.4L3.5 779.4M0 779.4L0 782.68M3.5 779.4L3.5 782.68M0 782.68L3.5 782.68M0 781L3.5 781M4.38 779L4.38 783M4.38 779.24L7.88 779.24M7.88 779.24L7.88 783M5.43 780.68L6.83 780.68M5.43 781.88L6.83 781.88M8.76 780.4L12.26 780.4M10.51 779L10.51 783M9.11 782.12L11.91 782.12M14.19 779L14.19 783M15.66 779L15.66 783M13.14 780.2L16.64 780.2M13.14 781.88L16.64 781.88M18.29 779L18.29 783M17.52 780.2L18.99 780.2M19.45 779.48L21.02 779.48M19.45 779.48L19.45 782.52M21.02 779.48L21.02 782.52M19.45 782.52L21.02 782.52M19.45 781L21.02 781M21.9 779.2L25.4 779.2M22.25 780.2L22.25 783M25.05 780.2L25.05 783M22.25 780.2L25.05 780.2M22.25 782.8L25.05 782.8M23.37 780.2L23.37 782.8M24.07 780.2L24.07 782.8" stroke="#ffffff" stroke-width="0.9" fill="none"/>
<path d="M1.05 785.5L1.05 789.5M2.52 785.5L2.52 789.5M0 786.7L3.5 786.7M0 788.38L3.5 788.38M5.15 785.5L5.15 789.5M4.38 786.7L5.85 786.7M6.31 785.98L7.88 785.98M6.31 785.98L6.31 789.02M7.88 785.98L7.88 789.02M6.31 789.02L7.88 789.02M6.31 787.5L7.88 787.5M8.76 785.7L12.26 785.7M9.11 786.7L9.11 789.5M11.91 786.7L11.91 789.5M9.11 786.7L11.91 786.7M9.11 789.3L11.91 789.3M10.23 786.7L10.23 789.3M10.93 786.7L10.93 789.3M13.14 786.9L16.64 786.9M14.89 785.5L14.89 787.1M14.89 787.1L13.14 789.5M14.89 787.1L16.64 789.5M18.4 785.5L18.4 789.5M17.52 787.3L19.27 787.3M19.62 785.9L21.02 785.9M20.32 785.9L20.32 789.5M19.62 787.7L21.02 787.7M22.25 785.82L25.05 785.82M21.9 787.5L25.4 787.5M22.25 789.18L25.05 789.18M23.65 785.82L23.65 789.18M26.28 785.9L29.78 785.9M26.28 785.9L26.28 789.18M29.78 785.9L29.78 789.18M26.28 789.18L29.78 789.18M26.28 787.5L29.78 787.5M30.66 785.5L30.66 789.5M30.66 785.74L34.16 785.74M34.16 785.74L34.16 789.5M31.71 787.18L33.11 787.18M31.71 788.38L33.11 788.38M35.04 786.9L38.54 786.9M36.79 785.5L36.79 789.5M35.39 788.62L38.19 788.62M40.47 785.5L40.47 789.5M41.94 785.5L41.94 789.5M39.42 786.7L42.92 786.7M39.42 788.38L42.92 788.38M44.57 785.5L44.57 789.5M43.8 786.7L45.27 786.7M45.73 785.98L47.3 785.98M45.73 785.98L45.73 789.02M47.3 785.98L47.3 789.02M45.73 789.02L47.3 789.02M45.73 787.5L47.3 787.5M48.18 785.7L51.68 785.7M48.53 786.7L48.53 789.5M51.33 786.7L51.33 789.5M48.53 786.7L51.33 786.7M48.53 789.3L51.33 789.3M49.65 786.7L49.65 789.3M50.35 786.7L50.35 789.3M52.56 786.9L56.06 786.9M54.31 785.5L54.31 787.1M54.31 787.1L52.56 789.5M54.31 787.1L56.06 789.5M57.82 785.5L57.82 789.5M56.94 787.3L58.69 787.3M59.04 785.9L60.44 785.9M59.74 785.9L59.74 789.5M59.04 787.7L60.44 787.7M61.67 785.82L64.47 785.82M61.32 787.5L64.82 787.5M61.67 789.18L64.47 789.18M63.07 785.82L63.07 789.18M65.7 785.9L69.2 785.9M65.7 785.9L65.7 789.18M69.2 785.9L69.2 789.18M65.7 789.18L69.2 789.18M65.7 787.5L69.2 787.5M70.08 785.5L70.08 789.5M70.08 785.74L73.58 785.74M73.58 785.74L73.58 789.5M71.13 787.18L72.53 787.18M71.13 788.38L72.53 788.38M74.46 786.9L77.96 786.9M76.21 785.5L76.21 789.5M74.81 788.62L77.61 788.62M79.89 785.5L79.89 789.5M81.36 785.5L81.36 789.5M78.84 786.7L82.34 786.7M78.84 788.38L82.34 788.38M83.99 785.5L83.99 789.5M83.22 786.7L84.69 786.7M85.15 785.98L86.72 785.98M85.15 785.98L85.15 789.02M86.72 785.98L86.72 789.02M85.15 789.02L86.72 789.02M85.15 787.5L86.72 787.5" stroke="#ffffff" stroke-width="0.9" fill="none"/>
<line x1="34" y1="799.7" x2="44.6" y2="789.5" stroke="#ffffff"/>
<line x1="46.6" y1="789.5" x2="46.6" y2="816" stroke="#ffffff"/>
<path d="M65 816 L66 796 Q70 788 76.5 788 Q83 788 86 796 L88 816" stroke="#ffffff" fill="none"/>
<path d="M105.5 816 L106.5 796 Q110 788 117 788 Q124 788 126.5 796 L128.5 816" stroke="#ffffff" fill="none"/>
<polygon points="20,812 22.5,807.5 25,812" stroke="#ffffff" fill="none"/>
</svg></body></html>
